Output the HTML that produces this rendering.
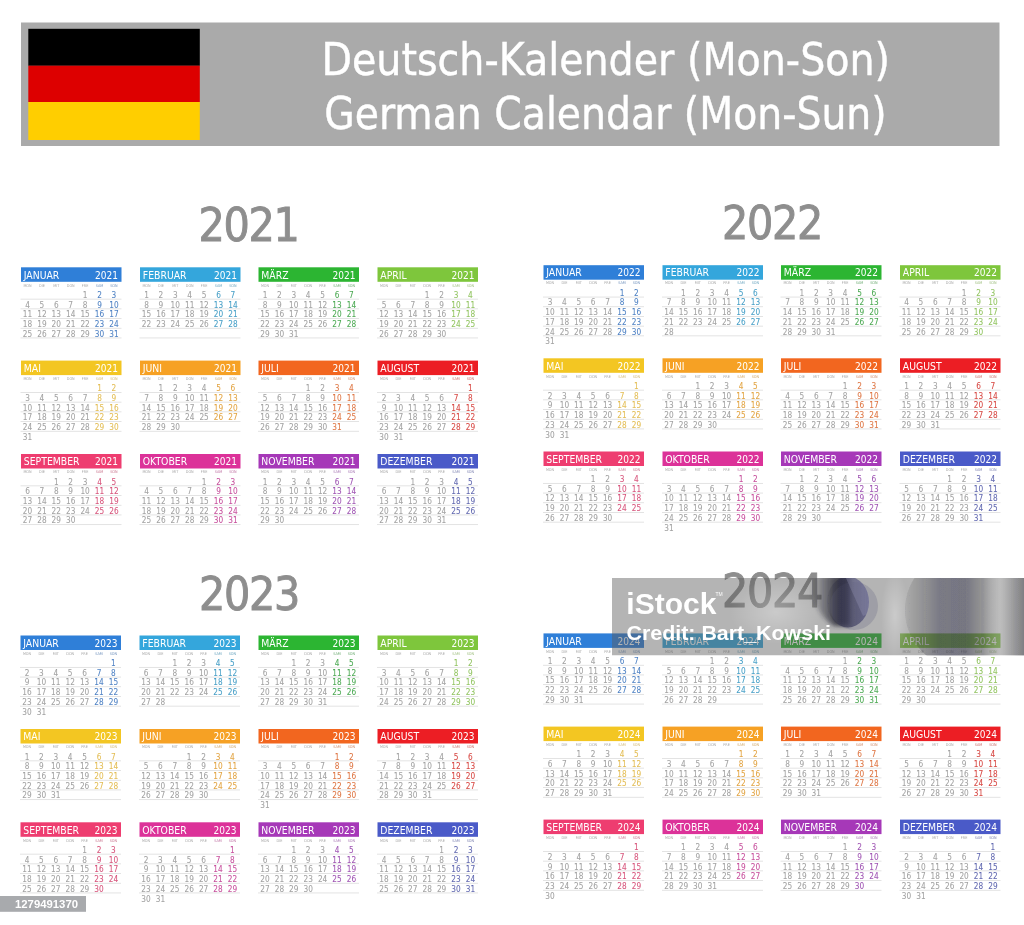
<!DOCTYPE html>
<html><head><meta charset="utf-8"><title>German Calendar 2021-2024</title>
<style>
html,body{margin:0;padding:0;background:#fff;width:1024px;height:925px;overflow:hidden}
svg{display:block;filter:blur(0.35px)}
text{font-family:'DejaVu Sans Condensed','DejaVu Sans','Liberation Sans',sans-serif}
.title{font-size:44px;fill:#fff;stroke:#fff;stroke-width:0.4px}
.yh{font-size:46px;fill:#8e8e8e;stroke:#8e8e8e;stroke-width:0.9px;letter-spacing:-1.3px}
.mh{font-size:10.35px;fill:#fff;stroke:none}
.my{font-size:10px;fill:#fff;stroke:none}
.wd{font-size:3.8px;text-anchor:middle}
.dt{font-size:8.2px;text-anchor:middle;stroke-width:0.05px}
.istock{font-family:'Liberation Sans',sans-serif;font-weight:bold;font-size:30px;fill:#fff}
.tm{font-family:'Liberation Sans',sans-serif;font-size:5px;fill:#fff}
.credit{font-family:'Liberation Sans',sans-serif;font-weight:bold;font-size:19.5px;fill:#fff}
.badge{font-family:'Liberation Sans',sans-serif;font-weight:bold;font-size:11px;fill:#fff}
</style></head>
<body>
<svg width="1024" height="925" viewBox="0 0 1024 925">
<rect width="1024" height="925" fill="#fff"/>
<rect x="21" y="22.5" width="978.5" height="123.5" fill="#aaaaaa"/>
<rect x="28.3" y="28.8" width="171.5" height="37" fill="#000"/>
<rect x="28.3" y="65.7" width="171.5" height="36.3" fill="#dd0000"/>
<rect x="28.3" y="102" width="171.5" height="38" fill="#ffce00"/>
<text x="321.5" y="75" class="title">Deutsch-Kalender (Mon-Son)</text>
<text x="324.2" y="128.5" class="title" textLength="562.5" lengthAdjust="spacingAndGlyphs">German Calendar (Mon-Sun)</text>
<text x="248.5" y="241" class="yh" text-anchor="middle">2021</text>
<text x="772" y="238.8" class="yh" text-anchor="middle">2022</text>
<text x="249" y="609.7" class="yh" text-anchor="middle">2023</text>
<text x="772" y="606.6" class="yh" text-anchor="middle">2024</text>
<rect x="21" y="267.3" width="100.5" height="14.5" fill="#2f7fd8"/>
<text x="23.8" y="278.5" class="mh">JANUAR</text>
<text x="118" y="278.5" class="my" text-anchor="end">2021</text>
<text x="27.5" y="286.5" class="wd" fill="#a8a8a8">MON</text>
<text x="41.9" y="286.5" class="wd" fill="#a8a8a8">DIE</text>
<text x="56.3" y="286.5" class="wd" fill="#a8a8a8">MIT</text>
<text x="70.7" y="286.5" class="wd" fill="#a8a8a8">DON</text>
<text x="85.1" y="286.5" class="wd" fill="#a8a8a8">FRE</text>
<text x="99.5" y="286.5" class="wd" fill="#7192bd">SAM</text>
<text x="113.9" y="286.5" class="wd" fill="#7192bd">SON</text>
<rect x="20.5" y="298.75" width="101" height="0.8" fill="#dcdcdc"/>
<rect x="20.5" y="308.45" width="101" height="0.8" fill="#dcdcdc"/>
<rect x="20.5" y="318.15" width="101" height="0.8" fill="#dcdcdc"/>
<rect x="20.5" y="327.85" width="101" height="0.8" fill="#dcdcdc"/>
<rect x="20.5" y="337.55" width="101" height="0.8" fill="#dcdcdc"/>
<text x="85.1" y="297.8" class="dt" fill="#a2a2a2" stroke="#a2a2a2">1</text>
<text x="99.5" y="297.8" class="dt" fill="#4f82c4" stroke="#4f82c4">2</text>
<text x="113.9" y="297.8" class="dt" fill="#4f82c4" stroke="#4f82c4">3</text>
<text x="27.5" y="307.54" class="dt" fill="#a2a2a2" stroke="#a2a2a2">4</text>
<text x="41.9" y="307.54" class="dt" fill="#a2a2a2" stroke="#a2a2a2">5</text>
<text x="56.3" y="307.54" class="dt" fill="#a2a2a2" stroke="#a2a2a2">6</text>
<text x="70.7" y="307.54" class="dt" fill="#a2a2a2" stroke="#a2a2a2">7</text>
<text x="85.1" y="307.54" class="dt" fill="#a2a2a2" stroke="#a2a2a2">8</text>
<text x="99.5" y="307.54" class="dt" fill="#4f82c4" stroke="#4f82c4">9</text>
<text x="113.9" y="307.54" class="dt" fill="#4f82c4" stroke="#4f82c4">10</text>
<text x="27.5" y="317.28" class="dt" fill="#a2a2a2" stroke="#a2a2a2">11</text>
<text x="41.9" y="317.28" class="dt" fill="#a2a2a2" stroke="#a2a2a2">12</text>
<text x="56.3" y="317.28" class="dt" fill="#a2a2a2" stroke="#a2a2a2">13</text>
<text x="70.7" y="317.28" class="dt" fill="#a2a2a2" stroke="#a2a2a2">14</text>
<text x="85.1" y="317.28" class="dt" fill="#a2a2a2" stroke="#a2a2a2">15</text>
<text x="99.5" y="317.28" class="dt" fill="#4f82c4" stroke="#4f82c4">16</text>
<text x="113.9" y="317.28" class="dt" fill="#4f82c4" stroke="#4f82c4">17</text>
<text x="27.5" y="327.02" class="dt" fill="#a2a2a2" stroke="#a2a2a2">18</text>
<text x="41.9" y="327.02" class="dt" fill="#a2a2a2" stroke="#a2a2a2">19</text>
<text x="56.3" y="327.02" class="dt" fill="#a2a2a2" stroke="#a2a2a2">20</text>
<text x="70.7" y="327.02" class="dt" fill="#a2a2a2" stroke="#a2a2a2">21</text>
<text x="85.1" y="327.02" class="dt" fill="#a2a2a2" stroke="#a2a2a2">22</text>
<text x="99.5" y="327.02" class="dt" fill="#4f82c4" stroke="#4f82c4">23</text>
<text x="113.9" y="327.02" class="dt" fill="#4f82c4" stroke="#4f82c4">24</text>
<text x="27.5" y="336.76" class="dt" fill="#a2a2a2" stroke="#a2a2a2">25</text>
<text x="41.9" y="336.76" class="dt" fill="#a2a2a2" stroke="#a2a2a2">26</text>
<text x="56.3" y="336.76" class="dt" fill="#a2a2a2" stroke="#a2a2a2">27</text>
<text x="70.7" y="336.76" class="dt" fill="#a2a2a2" stroke="#a2a2a2">28</text>
<text x="85.1" y="336.76" class="dt" fill="#a2a2a2" stroke="#a2a2a2">29</text>
<text x="99.5" y="336.76" class="dt" fill="#4f82c4" stroke="#4f82c4">30</text>
<text x="113.9" y="336.76" class="dt" fill="#4f82c4" stroke="#4f82c4">31</text>
<rect x="140" y="267.3" width="100.5" height="14.5" fill="#34a6dc"/>
<text x="142.8" y="278.5" class="mh">FEBRUAR</text>
<text x="237" y="278.5" class="my" text-anchor="end">2021</text>
<text x="146.5" y="286.5" class="wd" fill="#a8a8a8">MON</text>
<text x="160.9" y="286.5" class="wd" fill="#a8a8a8">DIE</text>
<text x="175.3" y="286.5" class="wd" fill="#a8a8a8">MIT</text>
<text x="189.7" y="286.5" class="wd" fill="#a8a8a8">DON</text>
<text x="204.1" y="286.5" class="wd" fill="#a8a8a8">FRE</text>
<text x="218.5" y="286.5" class="wd" fill="#6ba5bf">SAM</text>
<text x="232.9" y="286.5" class="wd" fill="#6ba5bf">SON</text>
<rect x="139.5" y="298.75" width="101" height="0.8" fill="#dcdcdc"/>
<rect x="139.5" y="308.45" width="101" height="0.8" fill="#dcdcdc"/>
<rect x="139.5" y="318.15" width="101" height="0.8" fill="#dcdcdc"/>
<rect x="139.5" y="327.85" width="101" height="0.8" fill="#dcdcdc"/>
<rect x="139.5" y="337.55" width="101" height="0.8" fill="#dcdcdc"/>
<text x="146.5" y="297.8" class="dt" fill="#a2a2a2" stroke="#a2a2a2">1</text>
<text x="160.9" y="297.8" class="dt" fill="#a2a2a2" stroke="#a2a2a2">2</text>
<text x="175.3" y="297.8" class="dt" fill="#a2a2a2" stroke="#a2a2a2">3</text>
<text x="189.7" y="297.8" class="dt" fill="#a2a2a2" stroke="#a2a2a2">4</text>
<text x="204.1" y="297.8" class="dt" fill="#a2a2a2" stroke="#a2a2a2">5</text>
<text x="218.5" y="297.8" class="dt" fill="#469fc7" stroke="#469fc7">6</text>
<text x="232.9" y="297.8" class="dt" fill="#469fc7" stroke="#469fc7">7</text>
<text x="146.5" y="307.54" class="dt" fill="#a2a2a2" stroke="#a2a2a2">8</text>
<text x="160.9" y="307.54" class="dt" fill="#a2a2a2" stroke="#a2a2a2">9</text>
<text x="175.3" y="307.54" class="dt" fill="#a2a2a2" stroke="#a2a2a2">10</text>
<text x="189.7" y="307.54" class="dt" fill="#a2a2a2" stroke="#a2a2a2">11</text>
<text x="204.1" y="307.54" class="dt" fill="#a2a2a2" stroke="#a2a2a2">12</text>
<text x="218.5" y="307.54" class="dt" fill="#469fc7" stroke="#469fc7">13</text>
<text x="232.9" y="307.54" class="dt" fill="#469fc7" stroke="#469fc7">14</text>
<text x="146.5" y="317.28" class="dt" fill="#a2a2a2" stroke="#a2a2a2">15</text>
<text x="160.9" y="317.28" class="dt" fill="#a2a2a2" stroke="#a2a2a2">16</text>
<text x="175.3" y="317.28" class="dt" fill="#a2a2a2" stroke="#a2a2a2">17</text>
<text x="189.7" y="317.28" class="dt" fill="#a2a2a2" stroke="#a2a2a2">18</text>
<text x="204.1" y="317.28" class="dt" fill="#a2a2a2" stroke="#a2a2a2">19</text>
<text x="218.5" y="317.28" class="dt" fill="#469fc7" stroke="#469fc7">20</text>
<text x="232.9" y="317.28" class="dt" fill="#469fc7" stroke="#469fc7">21</text>
<text x="146.5" y="327.02" class="dt" fill="#a2a2a2" stroke="#a2a2a2">22</text>
<text x="160.9" y="327.02" class="dt" fill="#a2a2a2" stroke="#a2a2a2">23</text>
<text x="175.3" y="327.02" class="dt" fill="#a2a2a2" stroke="#a2a2a2">24</text>
<text x="189.7" y="327.02" class="dt" fill="#a2a2a2" stroke="#a2a2a2">25</text>
<text x="204.1" y="327.02" class="dt" fill="#a2a2a2" stroke="#a2a2a2">26</text>
<text x="218.5" y="327.02" class="dt" fill="#469fc7" stroke="#469fc7">27</text>
<text x="232.9" y="327.02" class="dt" fill="#469fc7" stroke="#469fc7">28</text>
<rect x="258.5" y="267.3" width="100.5" height="14.5" fill="#2cb532"/>
<text x="261.3" y="278.5" class="mh">MÄRZ</text>
<text x="355.5" y="278.5" class="my" text-anchor="end">2021</text>
<text x="265" y="286.5" class="wd" fill="#a8a8a8">MON</text>
<text x="279.4" y="286.5" class="wd" fill="#a8a8a8">DIE</text>
<text x="293.8" y="286.5" class="wd" fill="#a8a8a8">MIT</text>
<text x="308.2" y="286.5" class="wd" fill="#a8a8a8">DON</text>
<text x="322.6" y="286.5" class="wd" fill="#a8a8a8">FRE</text>
<text x="337" y="286.5" class="wd" fill="#6eab73">SAM</text>
<text x="351.4" y="286.5" class="wd" fill="#6eab73">SON</text>
<rect x="258" y="298.75" width="101" height="0.8" fill="#dcdcdc"/>
<rect x="258" y="308.45" width="101" height="0.8" fill="#dcdcdc"/>
<rect x="258" y="318.15" width="101" height="0.8" fill="#dcdcdc"/>
<rect x="258" y="327.85" width="101" height="0.8" fill="#dcdcdc"/>
<rect x="258" y="337.55" width="101" height="0.8" fill="#dcdcdc"/>
<text x="265" y="297.8" class="dt" fill="#a2a2a2" stroke="#a2a2a2">1</text>
<text x="279.4" y="297.8" class="dt" fill="#a2a2a2" stroke="#a2a2a2">2</text>
<text x="293.8" y="297.8" class="dt" fill="#a2a2a2" stroke="#a2a2a2">3</text>
<text x="308.2" y="297.8" class="dt" fill="#a2a2a2" stroke="#a2a2a2">4</text>
<text x="322.6" y="297.8" class="dt" fill="#a2a2a2" stroke="#a2a2a2">5</text>
<text x="337" y="297.8" class="dt" fill="#4ba952" stroke="#4ba952">6</text>
<text x="351.4" y="297.8" class="dt" fill="#4ba952" stroke="#4ba952">7</text>
<text x="265" y="307.54" class="dt" fill="#a2a2a2" stroke="#a2a2a2">8</text>
<text x="279.4" y="307.54" class="dt" fill="#a2a2a2" stroke="#a2a2a2">9</text>
<text x="293.8" y="307.54" class="dt" fill="#a2a2a2" stroke="#a2a2a2">10</text>
<text x="308.2" y="307.54" class="dt" fill="#a2a2a2" stroke="#a2a2a2">11</text>
<text x="322.6" y="307.54" class="dt" fill="#a2a2a2" stroke="#a2a2a2">12</text>
<text x="337" y="307.54" class="dt" fill="#4ba952" stroke="#4ba952">13</text>
<text x="351.4" y="307.54" class="dt" fill="#4ba952" stroke="#4ba952">14</text>
<text x="265" y="317.28" class="dt" fill="#a2a2a2" stroke="#a2a2a2">15</text>
<text x="279.4" y="317.28" class="dt" fill="#a2a2a2" stroke="#a2a2a2">16</text>
<text x="293.8" y="317.28" class="dt" fill="#a2a2a2" stroke="#a2a2a2">17</text>
<text x="308.2" y="317.28" class="dt" fill="#a2a2a2" stroke="#a2a2a2">18</text>
<text x="322.6" y="317.28" class="dt" fill="#a2a2a2" stroke="#a2a2a2">19</text>
<text x="337" y="317.28" class="dt" fill="#4ba952" stroke="#4ba952">20</text>
<text x="351.4" y="317.28" class="dt" fill="#4ba952" stroke="#4ba952">21</text>
<text x="265" y="327.02" class="dt" fill="#a2a2a2" stroke="#a2a2a2">22</text>
<text x="279.4" y="327.02" class="dt" fill="#a2a2a2" stroke="#a2a2a2">23</text>
<text x="293.8" y="327.02" class="dt" fill="#a2a2a2" stroke="#a2a2a2">24</text>
<text x="308.2" y="327.02" class="dt" fill="#a2a2a2" stroke="#a2a2a2">25</text>
<text x="322.6" y="327.02" class="dt" fill="#a2a2a2" stroke="#a2a2a2">26</text>
<text x="337" y="327.02" class="dt" fill="#4ba952" stroke="#4ba952">27</text>
<text x="351.4" y="327.02" class="dt" fill="#4ba952" stroke="#4ba952">28</text>
<text x="265" y="336.76" class="dt" fill="#a2a2a2" stroke="#a2a2a2">29</text>
<text x="279.4" y="336.76" class="dt" fill="#a2a2a2" stroke="#a2a2a2">30</text>
<text x="293.8" y="336.76" class="dt" fill="#a2a2a2" stroke="#a2a2a2">31</text>
<rect x="377.5" y="267.3" width="100.5" height="14.5" fill="#7ec63c"/>
<text x="380.3" y="278.5" class="mh">APRIL</text>
<text x="474.5" y="278.5" class="my" text-anchor="end">2021</text>
<text x="384" y="286.5" class="wd" fill="#a8a8a8">MON</text>
<text x="398.4" y="286.5" class="wd" fill="#a8a8a8">DIE</text>
<text x="412.8" y="286.5" class="wd" fill="#a8a8a8">MIT</text>
<text x="427.2" y="286.5" class="wd" fill="#a8a8a8">DON</text>
<text x="441.6" y="286.5" class="wd" fill="#a8a8a8">FRE</text>
<text x="456" y="286.5" class="wd" fill="#9cbd7c">SAM</text>
<text x="470.4" y="286.5" class="wd" fill="#9cbd7c">SON</text>
<rect x="377" y="298.75" width="101" height="0.8" fill="#dcdcdc"/>
<rect x="377" y="308.45" width="101" height="0.8" fill="#dcdcdc"/>
<rect x="377" y="318.15" width="101" height="0.8" fill="#dcdcdc"/>
<rect x="377" y="327.85" width="101" height="0.8" fill="#dcdcdc"/>
<rect x="377" y="337.55" width="101" height="0.8" fill="#dcdcdc"/>
<text x="427.2" y="297.8" class="dt" fill="#a2a2a2" stroke="#a2a2a2">1</text>
<text x="441.6" y="297.8" class="dt" fill="#a2a2a2" stroke="#a2a2a2">2</text>
<text x="456" y="297.8" class="dt" fill="#92c461" stroke="#92c461">3</text>
<text x="470.4" y="297.8" class="dt" fill="#92c461" stroke="#92c461">4</text>
<text x="384" y="307.54" class="dt" fill="#a2a2a2" stroke="#a2a2a2">5</text>
<text x="398.4" y="307.54" class="dt" fill="#a2a2a2" stroke="#a2a2a2">6</text>
<text x="412.8" y="307.54" class="dt" fill="#a2a2a2" stroke="#a2a2a2">7</text>
<text x="427.2" y="307.54" class="dt" fill="#a2a2a2" stroke="#a2a2a2">8</text>
<text x="441.6" y="307.54" class="dt" fill="#a2a2a2" stroke="#a2a2a2">9</text>
<text x="456" y="307.54" class="dt" fill="#92c461" stroke="#92c461">10</text>
<text x="470.4" y="307.54" class="dt" fill="#92c461" stroke="#92c461">11</text>
<text x="384" y="317.28" class="dt" fill="#a2a2a2" stroke="#a2a2a2">12</text>
<text x="398.4" y="317.28" class="dt" fill="#a2a2a2" stroke="#a2a2a2">13</text>
<text x="412.8" y="317.28" class="dt" fill="#a2a2a2" stroke="#a2a2a2">14</text>
<text x="427.2" y="317.28" class="dt" fill="#a2a2a2" stroke="#a2a2a2">15</text>
<text x="441.6" y="317.28" class="dt" fill="#a2a2a2" stroke="#a2a2a2">16</text>
<text x="456" y="317.28" class="dt" fill="#92c461" stroke="#92c461">17</text>
<text x="470.4" y="317.28" class="dt" fill="#92c461" stroke="#92c461">18</text>
<text x="384" y="327.02" class="dt" fill="#a2a2a2" stroke="#a2a2a2">19</text>
<text x="398.4" y="327.02" class="dt" fill="#a2a2a2" stroke="#a2a2a2">20</text>
<text x="412.8" y="327.02" class="dt" fill="#a2a2a2" stroke="#a2a2a2">21</text>
<text x="427.2" y="327.02" class="dt" fill="#a2a2a2" stroke="#a2a2a2">22</text>
<text x="441.6" y="327.02" class="dt" fill="#a2a2a2" stroke="#a2a2a2">23</text>
<text x="456" y="327.02" class="dt" fill="#92c461" stroke="#92c461">24</text>
<text x="470.4" y="327.02" class="dt" fill="#92c461" stroke="#92c461">25</text>
<text x="384" y="336.76" class="dt" fill="#a2a2a2" stroke="#a2a2a2">26</text>
<text x="398.4" y="336.76" class="dt" fill="#a2a2a2" stroke="#a2a2a2">27</text>
<text x="412.8" y="336.76" class="dt" fill="#a2a2a2" stroke="#a2a2a2">28</text>
<text x="427.2" y="336.76" class="dt" fill="#a2a2a2" stroke="#a2a2a2">29</text>
<text x="441.6" y="336.76" class="dt" fill="#a2a2a2" stroke="#a2a2a2">30</text>
<rect x="21" y="360.6" width="100.5" height="14.5" fill="#f3c622"/>
<text x="23.8" y="371.8" class="mh">MAI</text>
<text x="118" y="371.8" class="my" text-anchor="end">2021</text>
<text x="27.5" y="379.8" class="wd" fill="#a8a8a8">MON</text>
<text x="41.9" y="379.8" class="wd" fill="#a8a8a8">DIE</text>
<text x="56.3" y="379.8" class="wd" fill="#a8a8a8">MIT</text>
<text x="70.7" y="379.8" class="wd" fill="#a8a8a8">DON</text>
<text x="85.1" y="379.8" class="wd" fill="#a8a8a8">FRE</text>
<text x="99.5" y="379.8" class="wd" fill="#d1b874">SAM</text>
<text x="113.9" y="379.8" class="wd" fill="#d1b874">SON</text>
<rect x="20.5" y="392.05" width="101" height="0.8" fill="#dcdcdc"/>
<rect x="20.5" y="401.75" width="101" height="0.8" fill="#dcdcdc"/>
<rect x="20.5" y="411.45" width="101" height="0.8" fill="#dcdcdc"/>
<rect x="20.5" y="421.15" width="101" height="0.8" fill="#dcdcdc"/>
<rect x="20.5" y="430.85" width="101" height="0.8" fill="#dcdcdc"/>
<text x="99.5" y="391.1" class="dt" fill="#e3bd54" stroke="#e3bd54">1</text>
<text x="113.9" y="391.1" class="dt" fill="#e3bd54" stroke="#e3bd54">2</text>
<text x="27.5" y="400.84" class="dt" fill="#a2a2a2" stroke="#a2a2a2">3</text>
<text x="41.9" y="400.84" class="dt" fill="#a2a2a2" stroke="#a2a2a2">4</text>
<text x="56.3" y="400.84" class="dt" fill="#a2a2a2" stroke="#a2a2a2">5</text>
<text x="70.7" y="400.84" class="dt" fill="#a2a2a2" stroke="#a2a2a2">6</text>
<text x="85.1" y="400.84" class="dt" fill="#a2a2a2" stroke="#a2a2a2">7</text>
<text x="99.5" y="400.84" class="dt" fill="#e3bd54" stroke="#e3bd54">8</text>
<text x="113.9" y="400.84" class="dt" fill="#e3bd54" stroke="#e3bd54">9</text>
<text x="27.5" y="410.58" class="dt" fill="#a2a2a2" stroke="#a2a2a2">10</text>
<text x="41.9" y="410.58" class="dt" fill="#a2a2a2" stroke="#a2a2a2">11</text>
<text x="56.3" y="410.58" class="dt" fill="#a2a2a2" stroke="#a2a2a2">12</text>
<text x="70.7" y="410.58" class="dt" fill="#a2a2a2" stroke="#a2a2a2">13</text>
<text x="85.1" y="410.58" class="dt" fill="#a2a2a2" stroke="#a2a2a2">14</text>
<text x="99.5" y="410.58" class="dt" fill="#e3bd54" stroke="#e3bd54">15</text>
<text x="113.9" y="410.58" class="dt" fill="#e3bd54" stroke="#e3bd54">16</text>
<text x="27.5" y="420.32" class="dt" fill="#a2a2a2" stroke="#a2a2a2">17</text>
<text x="41.9" y="420.32" class="dt" fill="#a2a2a2" stroke="#a2a2a2">18</text>
<text x="56.3" y="420.32" class="dt" fill="#a2a2a2" stroke="#a2a2a2">19</text>
<text x="70.7" y="420.32" class="dt" fill="#a2a2a2" stroke="#a2a2a2">20</text>
<text x="85.1" y="420.32" class="dt" fill="#a2a2a2" stroke="#a2a2a2">21</text>
<text x="99.5" y="420.32" class="dt" fill="#e3bd54" stroke="#e3bd54">22</text>
<text x="113.9" y="420.32" class="dt" fill="#e3bd54" stroke="#e3bd54">23</text>
<text x="27.5" y="430.06" class="dt" fill="#a2a2a2" stroke="#a2a2a2">24</text>
<text x="41.9" y="430.06" class="dt" fill="#a2a2a2" stroke="#a2a2a2">25</text>
<text x="56.3" y="430.06" class="dt" fill="#a2a2a2" stroke="#a2a2a2">26</text>
<text x="70.7" y="430.06" class="dt" fill="#a2a2a2" stroke="#a2a2a2">27</text>
<text x="85.1" y="430.06" class="dt" fill="#a2a2a2" stroke="#a2a2a2">28</text>
<text x="99.5" y="430.06" class="dt" fill="#e3bd54" stroke="#e3bd54">29</text>
<text x="113.9" y="430.06" class="dt" fill="#e3bd54" stroke="#e3bd54">30</text>
<text x="27.5" y="439.8" class="dt" fill="#a2a2a2" stroke="#a2a2a2">31</text>
<rect x="140" y="360.6" width="100.5" height="14.5" fill="#f6a124"/>
<text x="142.8" y="371.8" class="mh">JUNI</text>
<text x="237" y="371.8" class="my" text-anchor="end">2021</text>
<text x="146.5" y="379.8" class="wd" fill="#a8a8a8">MON</text>
<text x="160.9" y="379.8" class="wd" fill="#a8a8a8">DIE</text>
<text x="175.3" y="379.8" class="wd" fill="#a8a8a8">MIT</text>
<text x="189.7" y="379.8" class="wd" fill="#a8a8a8">DON</text>
<text x="204.1" y="379.8" class="wd" fill="#a8a8a8">FRE</text>
<text x="218.5" y="379.8" class="wd" fill="#d0a868">SAM</text>
<text x="232.9" y="379.8" class="wd" fill="#d0a868">SON</text>
<rect x="139.5" y="392.05" width="101" height="0.8" fill="#dcdcdc"/>
<rect x="139.5" y="401.75" width="101" height="0.8" fill="#dcdcdc"/>
<rect x="139.5" y="411.45" width="101" height="0.8" fill="#dcdcdc"/>
<rect x="139.5" y="421.15" width="101" height="0.8" fill="#dcdcdc"/>
<rect x="139.5" y="430.85" width="101" height="0.8" fill="#dcdcdc"/>
<text x="160.9" y="391.1" class="dt" fill="#a2a2a2" stroke="#a2a2a2">1</text>
<text x="175.3" y="391.1" class="dt" fill="#a2a2a2" stroke="#a2a2a2">2</text>
<text x="189.7" y="391.1" class="dt" fill="#a2a2a2" stroke="#a2a2a2">3</text>
<text x="204.1" y="391.1" class="dt" fill="#a2a2a2" stroke="#a2a2a2">4</text>
<text x="218.5" y="391.1" class="dt" fill="#e2a442" stroke="#e2a442">5</text>
<text x="232.9" y="391.1" class="dt" fill="#e2a442" stroke="#e2a442">6</text>
<text x="146.5" y="400.84" class="dt" fill="#a2a2a2" stroke="#a2a2a2">7</text>
<text x="160.9" y="400.84" class="dt" fill="#a2a2a2" stroke="#a2a2a2">8</text>
<text x="175.3" y="400.84" class="dt" fill="#a2a2a2" stroke="#a2a2a2">9</text>
<text x="189.7" y="400.84" class="dt" fill="#a2a2a2" stroke="#a2a2a2">10</text>
<text x="204.1" y="400.84" class="dt" fill="#a2a2a2" stroke="#a2a2a2">11</text>
<text x="218.5" y="400.84" class="dt" fill="#e2a442" stroke="#e2a442">12</text>
<text x="232.9" y="400.84" class="dt" fill="#e2a442" stroke="#e2a442">13</text>
<text x="146.5" y="410.58" class="dt" fill="#a2a2a2" stroke="#a2a2a2">14</text>
<text x="160.9" y="410.58" class="dt" fill="#a2a2a2" stroke="#a2a2a2">15</text>
<text x="175.3" y="410.58" class="dt" fill="#a2a2a2" stroke="#a2a2a2">16</text>
<text x="189.7" y="410.58" class="dt" fill="#a2a2a2" stroke="#a2a2a2">17</text>
<text x="204.1" y="410.58" class="dt" fill="#a2a2a2" stroke="#a2a2a2">18</text>
<text x="218.5" y="410.58" class="dt" fill="#e2a442" stroke="#e2a442">19</text>
<text x="232.9" y="410.58" class="dt" fill="#e2a442" stroke="#e2a442">20</text>
<text x="146.5" y="420.32" class="dt" fill="#a2a2a2" stroke="#a2a2a2">21</text>
<text x="160.9" y="420.32" class="dt" fill="#a2a2a2" stroke="#a2a2a2">22</text>
<text x="175.3" y="420.32" class="dt" fill="#a2a2a2" stroke="#a2a2a2">23</text>
<text x="189.7" y="420.32" class="dt" fill="#a2a2a2" stroke="#a2a2a2">24</text>
<text x="204.1" y="420.32" class="dt" fill="#a2a2a2" stroke="#a2a2a2">25</text>
<text x="218.5" y="420.32" class="dt" fill="#e2a442" stroke="#e2a442">26</text>
<text x="232.9" y="420.32" class="dt" fill="#e2a442" stroke="#e2a442">27</text>
<text x="146.5" y="430.06" class="dt" fill="#a2a2a2" stroke="#a2a2a2">28</text>
<text x="160.9" y="430.06" class="dt" fill="#a2a2a2" stroke="#a2a2a2">29</text>
<text x="175.3" y="430.06" class="dt" fill="#a2a2a2" stroke="#a2a2a2">30</text>
<rect x="258.5" y="360.6" width="100.5" height="14.5" fill="#f2661f"/>
<text x="261.3" y="371.8" class="mh">JULI</text>
<text x="355.5" y="371.8" class="my" text-anchor="end">2021</text>
<text x="265" y="379.8" class="wd" fill="#a8a8a8">MON</text>
<text x="279.4" y="379.8" class="wd" fill="#a8a8a8">DIE</text>
<text x="293.8" y="379.8" class="wd" fill="#a8a8a8">MIT</text>
<text x="308.2" y="379.8" class="wd" fill="#a8a8a8">DON</text>
<text x="322.6" y="379.8" class="wd" fill="#a8a8a8">FRE</text>
<text x="337" y="379.8" class="wd" fill="#ce8968">SAM</text>
<text x="351.4" y="379.8" class="wd" fill="#ce8968">SON</text>
<rect x="258" y="392.05" width="101" height="0.8" fill="#dcdcdc"/>
<rect x="258" y="401.75" width="101" height="0.8" fill="#dcdcdc"/>
<rect x="258" y="411.45" width="101" height="0.8" fill="#dcdcdc"/>
<rect x="258" y="421.15" width="101" height="0.8" fill="#dcdcdc"/>
<rect x="258" y="430.85" width="101" height="0.8" fill="#dcdcdc"/>
<text x="308.2" y="391.1" class="dt" fill="#a2a2a2" stroke="#a2a2a2">1</text>
<text x="322.6" y="391.1" class="dt" fill="#a2a2a2" stroke="#a2a2a2">2</text>
<text x="337" y="391.1" class="dt" fill="#de7542" stroke="#de7542">3</text>
<text x="351.4" y="391.1" class="dt" fill="#de7542" stroke="#de7542">4</text>
<text x="265" y="400.84" class="dt" fill="#a2a2a2" stroke="#a2a2a2">5</text>
<text x="279.4" y="400.84" class="dt" fill="#a2a2a2" stroke="#a2a2a2">6</text>
<text x="293.8" y="400.84" class="dt" fill="#a2a2a2" stroke="#a2a2a2">7</text>
<text x="308.2" y="400.84" class="dt" fill="#a2a2a2" stroke="#a2a2a2">8</text>
<text x="322.6" y="400.84" class="dt" fill="#a2a2a2" stroke="#a2a2a2">9</text>
<text x="337" y="400.84" class="dt" fill="#de7542" stroke="#de7542">10</text>
<text x="351.4" y="400.84" class="dt" fill="#de7542" stroke="#de7542">11</text>
<text x="265" y="410.58" class="dt" fill="#a2a2a2" stroke="#a2a2a2">12</text>
<text x="279.4" y="410.58" class="dt" fill="#a2a2a2" stroke="#a2a2a2">13</text>
<text x="293.8" y="410.58" class="dt" fill="#a2a2a2" stroke="#a2a2a2">14</text>
<text x="308.2" y="410.58" class="dt" fill="#a2a2a2" stroke="#a2a2a2">15</text>
<text x="322.6" y="410.58" class="dt" fill="#a2a2a2" stroke="#a2a2a2">16</text>
<text x="337" y="410.58" class="dt" fill="#de7542" stroke="#de7542">17</text>
<text x="351.4" y="410.58" class="dt" fill="#de7542" stroke="#de7542">18</text>
<text x="265" y="420.32" class="dt" fill="#a2a2a2" stroke="#a2a2a2">19</text>
<text x="279.4" y="420.32" class="dt" fill="#a2a2a2" stroke="#a2a2a2">20</text>
<text x="293.8" y="420.32" class="dt" fill="#a2a2a2" stroke="#a2a2a2">21</text>
<text x="308.2" y="420.32" class="dt" fill="#a2a2a2" stroke="#a2a2a2">22</text>
<text x="322.6" y="420.32" class="dt" fill="#a2a2a2" stroke="#a2a2a2">23</text>
<text x="337" y="420.32" class="dt" fill="#de7542" stroke="#de7542">24</text>
<text x="351.4" y="420.32" class="dt" fill="#de7542" stroke="#de7542">25</text>
<text x="265" y="430.06" class="dt" fill="#a2a2a2" stroke="#a2a2a2">26</text>
<text x="279.4" y="430.06" class="dt" fill="#a2a2a2" stroke="#a2a2a2">27</text>
<text x="293.8" y="430.06" class="dt" fill="#a2a2a2" stroke="#a2a2a2">28</text>
<text x="308.2" y="430.06" class="dt" fill="#a2a2a2" stroke="#a2a2a2">29</text>
<text x="322.6" y="430.06" class="dt" fill="#a2a2a2" stroke="#a2a2a2">30</text>
<text x="337" y="430.06" class="dt" fill="#de7542" stroke="#de7542">31</text>
<rect x="377.5" y="360.6" width="100.5" height="14.5" fill="#ec1e24"/>
<text x="380.3" y="371.8" class="mh">AUGUST</text>
<text x="474.5" y="371.8" class="my" text-anchor="end">2021</text>
<text x="384" y="379.8" class="wd" fill="#a8a8a8">MON</text>
<text x="398.4" y="379.8" class="wd" fill="#a8a8a8">DIE</text>
<text x="412.8" y="379.8" class="wd" fill="#a8a8a8">MIT</text>
<text x="427.2" y="379.8" class="wd" fill="#a8a8a8">DON</text>
<text x="441.6" y="379.8" class="wd" fill="#a8a8a8">FRE</text>
<text x="456" y="379.8" class="wd" fill="#c96b68">SAM</text>
<text x="470.4" y="379.8" class="wd" fill="#c96b68">SON</text>
<rect x="377" y="392.05" width="101" height="0.8" fill="#dcdcdc"/>
<rect x="377" y="401.75" width="101" height="0.8" fill="#dcdcdc"/>
<rect x="377" y="411.45" width="101" height="0.8" fill="#dcdcdc"/>
<rect x="377" y="421.15" width="101" height="0.8" fill="#dcdcdc"/>
<rect x="377" y="430.85" width="101" height="0.8" fill="#dcdcdc"/>
<text x="470.4" y="391.1" class="dt" fill="#d74742" stroke="#d74742">1</text>
<text x="384" y="400.84" class="dt" fill="#a2a2a2" stroke="#a2a2a2">2</text>
<text x="398.4" y="400.84" class="dt" fill="#a2a2a2" stroke="#a2a2a2">3</text>
<text x="412.8" y="400.84" class="dt" fill="#a2a2a2" stroke="#a2a2a2">4</text>
<text x="427.2" y="400.84" class="dt" fill="#a2a2a2" stroke="#a2a2a2">5</text>
<text x="441.6" y="400.84" class="dt" fill="#a2a2a2" stroke="#a2a2a2">6</text>
<text x="456" y="400.84" class="dt" fill="#d74742" stroke="#d74742">7</text>
<text x="470.4" y="400.84" class="dt" fill="#d74742" stroke="#d74742">8</text>
<text x="384" y="410.58" class="dt" fill="#a2a2a2" stroke="#a2a2a2">9</text>
<text x="398.4" y="410.58" class="dt" fill="#a2a2a2" stroke="#a2a2a2">10</text>
<text x="412.8" y="410.58" class="dt" fill="#a2a2a2" stroke="#a2a2a2">11</text>
<text x="427.2" y="410.58" class="dt" fill="#a2a2a2" stroke="#a2a2a2">12</text>
<text x="441.6" y="410.58" class="dt" fill="#a2a2a2" stroke="#a2a2a2">13</text>
<text x="456" y="410.58" class="dt" fill="#d74742" stroke="#d74742">14</text>
<text x="470.4" y="410.58" class="dt" fill="#d74742" stroke="#d74742">15</text>
<text x="384" y="420.32" class="dt" fill="#a2a2a2" stroke="#a2a2a2">16</text>
<text x="398.4" y="420.32" class="dt" fill="#a2a2a2" stroke="#a2a2a2">17</text>
<text x="412.8" y="420.32" class="dt" fill="#a2a2a2" stroke="#a2a2a2">18</text>
<text x="427.2" y="420.32" class="dt" fill="#a2a2a2" stroke="#a2a2a2">19</text>
<text x="441.6" y="420.32" class="dt" fill="#a2a2a2" stroke="#a2a2a2">20</text>
<text x="456" y="420.32" class="dt" fill="#d74742" stroke="#d74742">21</text>
<text x="470.4" y="420.32" class="dt" fill="#d74742" stroke="#d74742">22</text>
<text x="384" y="430.06" class="dt" fill="#a2a2a2" stroke="#a2a2a2">23</text>
<text x="398.4" y="430.06" class="dt" fill="#a2a2a2" stroke="#a2a2a2">24</text>
<text x="412.8" y="430.06" class="dt" fill="#a2a2a2" stroke="#a2a2a2">25</text>
<text x="427.2" y="430.06" class="dt" fill="#a2a2a2" stroke="#a2a2a2">26</text>
<text x="441.6" y="430.06" class="dt" fill="#a2a2a2" stroke="#a2a2a2">27</text>
<text x="456" y="430.06" class="dt" fill="#d74742" stroke="#d74742">28</text>
<text x="470.4" y="430.06" class="dt" fill="#d74742" stroke="#d74742">29</text>
<text x="384" y="439.8" class="dt" fill="#a2a2a2" stroke="#a2a2a2">30</text>
<text x="398.4" y="439.8" class="dt" fill="#a2a2a2" stroke="#a2a2a2">31</text>
<rect x="21" y="454" width="100.5" height="14.5" fill="#ee3d70"/>
<text x="23.8" y="465.2" class="mh">SEPTEMBER</text>
<text x="118" y="465.2" class="my" text-anchor="end">2021</text>
<text x="27.5" y="473.2" class="wd" fill="#a8a8a8">MON</text>
<text x="41.9" y="473.2" class="wd" fill="#a8a8a8">DIE</text>
<text x="56.3" y="473.2" class="wd" fill="#a8a8a8">MIT</text>
<text x="70.7" y="473.2" class="wd" fill="#a8a8a8">DON</text>
<text x="85.1" y="473.2" class="wd" fill="#a8a8a8">FRE</text>
<text x="99.5" y="473.2" class="wd" fill="#c9748d">SAM</text>
<text x="113.9" y="473.2" class="wd" fill="#c9748d">SON</text>
<rect x="20.5" y="485.45" width="101" height="0.8" fill="#dcdcdc"/>
<rect x="20.5" y="495.15" width="101" height="0.8" fill="#dcdcdc"/>
<rect x="20.5" y="504.85" width="101" height="0.8" fill="#dcdcdc"/>
<rect x="20.5" y="514.55" width="101" height="0.8" fill="#dcdcdc"/>
<rect x="20.5" y="524.25" width="101" height="0.8" fill="#dcdcdc"/>
<text x="56.3" y="484.5" class="dt" fill="#a2a2a2" stroke="#a2a2a2">1</text>
<text x="70.7" y="484.5" class="dt" fill="#a2a2a2" stroke="#a2a2a2">2</text>
<text x="85.1" y="484.5" class="dt" fill="#a2a2a2" stroke="#a2a2a2">3</text>
<text x="99.5" y="484.5" class="dt" fill="#d7547b" stroke="#d7547b">4</text>
<text x="113.9" y="484.5" class="dt" fill="#d7547b" stroke="#d7547b">5</text>
<text x="27.5" y="494.24" class="dt" fill="#a2a2a2" stroke="#a2a2a2">6</text>
<text x="41.9" y="494.24" class="dt" fill="#a2a2a2" stroke="#a2a2a2">7</text>
<text x="56.3" y="494.24" class="dt" fill="#a2a2a2" stroke="#a2a2a2">8</text>
<text x="70.7" y="494.24" class="dt" fill="#a2a2a2" stroke="#a2a2a2">9</text>
<text x="85.1" y="494.24" class="dt" fill="#a2a2a2" stroke="#a2a2a2">10</text>
<text x="99.5" y="494.24" class="dt" fill="#d7547b" stroke="#d7547b">11</text>
<text x="113.9" y="494.24" class="dt" fill="#d7547b" stroke="#d7547b">12</text>
<text x="27.5" y="503.98" class="dt" fill="#a2a2a2" stroke="#a2a2a2">13</text>
<text x="41.9" y="503.98" class="dt" fill="#a2a2a2" stroke="#a2a2a2">14</text>
<text x="56.3" y="503.98" class="dt" fill="#a2a2a2" stroke="#a2a2a2">15</text>
<text x="70.7" y="503.98" class="dt" fill="#a2a2a2" stroke="#a2a2a2">16</text>
<text x="85.1" y="503.98" class="dt" fill="#a2a2a2" stroke="#a2a2a2">17</text>
<text x="99.5" y="503.98" class="dt" fill="#d7547b" stroke="#d7547b">18</text>
<text x="113.9" y="503.98" class="dt" fill="#d7547b" stroke="#d7547b">19</text>
<text x="27.5" y="513.72" class="dt" fill="#a2a2a2" stroke="#a2a2a2">20</text>
<text x="41.9" y="513.72" class="dt" fill="#a2a2a2" stroke="#a2a2a2">21</text>
<text x="56.3" y="513.72" class="dt" fill="#a2a2a2" stroke="#a2a2a2">22</text>
<text x="70.7" y="513.72" class="dt" fill="#a2a2a2" stroke="#a2a2a2">23</text>
<text x="85.1" y="513.72" class="dt" fill="#a2a2a2" stroke="#a2a2a2">24</text>
<text x="99.5" y="513.72" class="dt" fill="#d7547b" stroke="#d7547b">25</text>
<text x="113.9" y="513.72" class="dt" fill="#d7547b" stroke="#d7547b">26</text>
<text x="27.5" y="523.46" class="dt" fill="#a2a2a2" stroke="#a2a2a2">27</text>
<text x="41.9" y="523.46" class="dt" fill="#a2a2a2" stroke="#a2a2a2">28</text>
<text x="56.3" y="523.46" class="dt" fill="#a2a2a2" stroke="#a2a2a2">29</text>
<text x="70.7" y="523.46" class="dt" fill="#a2a2a2" stroke="#a2a2a2">30</text>
<rect x="140" y="454" width="100.5" height="14.5" fill="#dc3299"/>
<text x="142.8" y="465.2" class="mh">OKTOBER</text>
<text x="237" y="465.2" class="my" text-anchor="end">2021</text>
<text x="146.5" y="473.2" class="wd" fill="#a8a8a8">MON</text>
<text x="160.9" y="473.2" class="wd" fill="#a8a8a8">DIE</text>
<text x="175.3" y="473.2" class="wd" fill="#a8a8a8">MIT</text>
<text x="189.7" y="473.2" class="wd" fill="#a8a8a8">DON</text>
<text x="204.1" y="473.2" class="wd" fill="#a8a8a8">FRE</text>
<text x="218.5" y="473.2" class="wd" fill="#bf71a3">SAM</text>
<text x="232.9" y="473.2" class="wd" fill="#bf71a3">SON</text>
<rect x="139.5" y="485.45" width="101" height="0.8" fill="#dcdcdc"/>
<rect x="139.5" y="495.15" width="101" height="0.8" fill="#dcdcdc"/>
<rect x="139.5" y="504.85" width="101" height="0.8" fill="#dcdcdc"/>
<rect x="139.5" y="514.55" width="101" height="0.8" fill="#dcdcdc"/>
<rect x="139.5" y="524.25" width="101" height="0.8" fill="#dcdcdc"/>
<text x="204.1" y="484.5" class="dt" fill="#a2a2a2" stroke="#a2a2a2">1</text>
<text x="218.5" y="484.5" class="dt" fill="#c74f9c" stroke="#c74f9c">2</text>
<text x="232.9" y="484.5" class="dt" fill="#c74f9c" stroke="#c74f9c">3</text>
<text x="146.5" y="494.24" class="dt" fill="#a2a2a2" stroke="#a2a2a2">4</text>
<text x="160.9" y="494.24" class="dt" fill="#a2a2a2" stroke="#a2a2a2">5</text>
<text x="175.3" y="494.24" class="dt" fill="#a2a2a2" stroke="#a2a2a2">6</text>
<text x="189.7" y="494.24" class="dt" fill="#a2a2a2" stroke="#a2a2a2">7</text>
<text x="204.1" y="494.24" class="dt" fill="#a2a2a2" stroke="#a2a2a2">8</text>
<text x="218.5" y="494.24" class="dt" fill="#c74f9c" stroke="#c74f9c">9</text>
<text x="232.9" y="494.24" class="dt" fill="#c74f9c" stroke="#c74f9c">10</text>
<text x="146.5" y="503.98" class="dt" fill="#a2a2a2" stroke="#a2a2a2">11</text>
<text x="160.9" y="503.98" class="dt" fill="#a2a2a2" stroke="#a2a2a2">12</text>
<text x="175.3" y="503.98" class="dt" fill="#a2a2a2" stroke="#a2a2a2">13</text>
<text x="189.7" y="503.98" class="dt" fill="#a2a2a2" stroke="#a2a2a2">14</text>
<text x="204.1" y="503.98" class="dt" fill="#a2a2a2" stroke="#a2a2a2">15</text>
<text x="218.5" y="503.98" class="dt" fill="#c74f9c" stroke="#c74f9c">16</text>
<text x="232.9" y="503.98" class="dt" fill="#c74f9c" stroke="#c74f9c">17</text>
<text x="146.5" y="513.72" class="dt" fill="#a2a2a2" stroke="#a2a2a2">18</text>
<text x="160.9" y="513.72" class="dt" fill="#a2a2a2" stroke="#a2a2a2">19</text>
<text x="175.3" y="513.72" class="dt" fill="#a2a2a2" stroke="#a2a2a2">20</text>
<text x="189.7" y="513.72" class="dt" fill="#a2a2a2" stroke="#a2a2a2">21</text>
<text x="204.1" y="513.72" class="dt" fill="#a2a2a2" stroke="#a2a2a2">22</text>
<text x="218.5" y="513.72" class="dt" fill="#c74f9c" stroke="#c74f9c">23</text>
<text x="232.9" y="513.72" class="dt" fill="#c74f9c" stroke="#c74f9c">24</text>
<text x="146.5" y="523.46" class="dt" fill="#a2a2a2" stroke="#a2a2a2">25</text>
<text x="160.9" y="523.46" class="dt" fill="#a2a2a2" stroke="#a2a2a2">26</text>
<text x="175.3" y="523.46" class="dt" fill="#a2a2a2" stroke="#a2a2a2">27</text>
<text x="189.7" y="523.46" class="dt" fill="#a2a2a2" stroke="#a2a2a2">28</text>
<text x="204.1" y="523.46" class="dt" fill="#a2a2a2" stroke="#a2a2a2">29</text>
<text x="218.5" y="523.46" class="dt" fill="#c74f9c" stroke="#c74f9c">30</text>
<text x="232.9" y="523.46" class="dt" fill="#c74f9c" stroke="#c74f9c">31</text>
<rect x="258.5" y="454" width="100.5" height="14.5" fill="#a638b8"/>
<text x="261.3" y="465.2" class="mh">NOVEMBER</text>
<text x="355.5" y="465.2" class="my" text-anchor="end">2021</text>
<text x="265" y="473.2" class="wd" fill="#a8a8a8">MON</text>
<text x="279.4" y="473.2" class="wd" fill="#a8a8a8">DIE</text>
<text x="293.8" y="473.2" class="wd" fill="#a8a8a8">MIT</text>
<text x="308.2" y="473.2" class="wd" fill="#a8a8a8">DON</text>
<text x="322.6" y="473.2" class="wd" fill="#a8a8a8">FRE</text>
<text x="337" y="473.2" class="wd" fill="#a574b2">SAM</text>
<text x="351.4" y="473.2" class="wd" fill="#a574b2">SON</text>
<rect x="258" y="485.45" width="101" height="0.8" fill="#dcdcdc"/>
<rect x="258" y="495.15" width="101" height="0.8" fill="#dcdcdc"/>
<rect x="258" y="504.85" width="101" height="0.8" fill="#dcdcdc"/>
<rect x="258" y="514.55" width="101" height="0.8" fill="#dcdcdc"/>
<rect x="258" y="524.25" width="101" height="0.8" fill="#dcdcdc"/>
<text x="265" y="484.5" class="dt" fill="#a2a2a2" stroke="#a2a2a2">1</text>
<text x="279.4" y="484.5" class="dt" fill="#a2a2a2" stroke="#a2a2a2">2</text>
<text x="293.8" y="484.5" class="dt" fill="#a2a2a2" stroke="#a2a2a2">3</text>
<text x="308.2" y="484.5" class="dt" fill="#a2a2a2" stroke="#a2a2a2">4</text>
<text x="322.6" y="484.5" class="dt" fill="#a2a2a2" stroke="#a2a2a2">5</text>
<text x="337" y="484.5" class="dt" fill="#9f54b3" stroke="#9f54b3">6</text>
<text x="351.4" y="484.5" class="dt" fill="#9f54b3" stroke="#9f54b3">7</text>
<text x="265" y="494.24" class="dt" fill="#a2a2a2" stroke="#a2a2a2">8</text>
<text x="279.4" y="494.24" class="dt" fill="#a2a2a2" stroke="#a2a2a2">9</text>
<text x="293.8" y="494.24" class="dt" fill="#a2a2a2" stroke="#a2a2a2">10</text>
<text x="308.2" y="494.24" class="dt" fill="#a2a2a2" stroke="#a2a2a2">11</text>
<text x="322.6" y="494.24" class="dt" fill="#a2a2a2" stroke="#a2a2a2">12</text>
<text x="337" y="494.24" class="dt" fill="#9f54b3" stroke="#9f54b3">13</text>
<text x="351.4" y="494.24" class="dt" fill="#9f54b3" stroke="#9f54b3">14</text>
<text x="265" y="503.98" class="dt" fill="#a2a2a2" stroke="#a2a2a2">15</text>
<text x="279.4" y="503.98" class="dt" fill="#a2a2a2" stroke="#a2a2a2">16</text>
<text x="293.8" y="503.98" class="dt" fill="#a2a2a2" stroke="#a2a2a2">17</text>
<text x="308.2" y="503.98" class="dt" fill="#a2a2a2" stroke="#a2a2a2">18</text>
<text x="322.6" y="503.98" class="dt" fill="#a2a2a2" stroke="#a2a2a2">19</text>
<text x="337" y="503.98" class="dt" fill="#9f54b3" stroke="#9f54b3">20</text>
<text x="351.4" y="503.98" class="dt" fill="#9f54b3" stroke="#9f54b3">21</text>
<text x="265" y="513.72" class="dt" fill="#a2a2a2" stroke="#a2a2a2">22</text>
<text x="279.4" y="513.72" class="dt" fill="#a2a2a2" stroke="#a2a2a2">23</text>
<text x="293.8" y="513.72" class="dt" fill="#a2a2a2" stroke="#a2a2a2">24</text>
<text x="308.2" y="513.72" class="dt" fill="#a2a2a2" stroke="#a2a2a2">25</text>
<text x="322.6" y="513.72" class="dt" fill="#a2a2a2" stroke="#a2a2a2">26</text>
<text x="337" y="513.72" class="dt" fill="#9f54b3" stroke="#9f54b3">27</text>
<text x="351.4" y="513.72" class="dt" fill="#9f54b3" stroke="#9f54b3">28</text>
<text x="265" y="523.46" class="dt" fill="#a2a2a2" stroke="#a2a2a2">29</text>
<text x="279.4" y="523.46" class="dt" fill="#a2a2a2" stroke="#a2a2a2">30</text>
<rect x="377.5" y="454" width="100.5" height="14.5" fill="#4a5ac8"/>
<text x="380.3" y="465.2" class="mh">DEZEMBER</text>
<text x="474.5" y="465.2" class="my" text-anchor="end">2021</text>
<text x="384" y="473.2" class="wd" fill="#a8a8a8">MON</text>
<text x="398.4" y="473.2" class="wd" fill="#a8a8a8">DIE</text>
<text x="412.8" y="473.2" class="wd" fill="#a8a8a8">MIT</text>
<text x="427.2" y="473.2" class="wd" fill="#a8a8a8">DON</text>
<text x="441.6" y="473.2" class="wd" fill="#a8a8a8">FRE</text>
<text x="456" y="473.2" class="wd" fill="#7c81b0">SAM</text>
<text x="470.4" y="473.2" class="wd" fill="#7c81b0">SON</text>
<rect x="377" y="485.45" width="101" height="0.8" fill="#dcdcdc"/>
<rect x="377" y="495.15" width="101" height="0.8" fill="#dcdcdc"/>
<rect x="377" y="504.85" width="101" height="0.8" fill="#dcdcdc"/>
<rect x="377" y="514.55" width="101" height="0.8" fill="#dcdcdc"/>
<rect x="377" y="524.25" width="101" height="0.8" fill="#dcdcdc"/>
<text x="412.8" y="484.5" class="dt" fill="#a2a2a2" stroke="#a2a2a2">1</text>
<text x="427.2" y="484.5" class="dt" fill="#a2a2a2" stroke="#a2a2a2">2</text>
<text x="441.6" y="484.5" class="dt" fill="#a2a2a2" stroke="#a2a2a2">3</text>
<text x="456" y="484.5" class="dt" fill="#6168b0" stroke="#6168b0">4</text>
<text x="470.4" y="484.5" class="dt" fill="#6168b0" stroke="#6168b0">5</text>
<text x="384" y="494.24" class="dt" fill="#a2a2a2" stroke="#a2a2a2">6</text>
<text x="398.4" y="494.24" class="dt" fill="#a2a2a2" stroke="#a2a2a2">7</text>
<text x="412.8" y="494.24" class="dt" fill="#a2a2a2" stroke="#a2a2a2">8</text>
<text x="427.2" y="494.24" class="dt" fill="#a2a2a2" stroke="#a2a2a2">9</text>
<text x="441.6" y="494.24" class="dt" fill="#a2a2a2" stroke="#a2a2a2">10</text>
<text x="456" y="494.24" class="dt" fill="#6168b0" stroke="#6168b0">11</text>
<text x="470.4" y="494.24" class="dt" fill="#6168b0" stroke="#6168b0">12</text>
<text x="384" y="503.98" class="dt" fill="#a2a2a2" stroke="#a2a2a2">13</text>
<text x="398.4" y="503.98" class="dt" fill="#a2a2a2" stroke="#a2a2a2">14</text>
<text x="412.8" y="503.98" class="dt" fill="#a2a2a2" stroke="#a2a2a2">15</text>
<text x="427.2" y="503.98" class="dt" fill="#a2a2a2" stroke="#a2a2a2">16</text>
<text x="441.6" y="503.98" class="dt" fill="#a2a2a2" stroke="#a2a2a2">17</text>
<text x="456" y="503.98" class="dt" fill="#6168b0" stroke="#6168b0">18</text>
<text x="470.4" y="503.98" class="dt" fill="#6168b0" stroke="#6168b0">19</text>
<text x="384" y="513.72" class="dt" fill="#a2a2a2" stroke="#a2a2a2">20</text>
<text x="398.4" y="513.72" class="dt" fill="#a2a2a2" stroke="#a2a2a2">21</text>
<text x="412.8" y="513.72" class="dt" fill="#a2a2a2" stroke="#a2a2a2">22</text>
<text x="427.2" y="513.72" class="dt" fill="#a2a2a2" stroke="#a2a2a2">23</text>
<text x="441.6" y="513.72" class="dt" fill="#a2a2a2" stroke="#a2a2a2">24</text>
<text x="456" y="513.72" class="dt" fill="#6168b0" stroke="#6168b0">25</text>
<text x="470.4" y="513.72" class="dt" fill="#6168b0" stroke="#6168b0">26</text>
<text x="384" y="523.46" class="dt" fill="#a2a2a2" stroke="#a2a2a2">27</text>
<text x="398.4" y="523.46" class="dt" fill="#a2a2a2" stroke="#a2a2a2">28</text>
<text x="412.8" y="523.46" class="dt" fill="#a2a2a2" stroke="#a2a2a2">29</text>
<text x="427.2" y="523.46" class="dt" fill="#a2a2a2" stroke="#a2a2a2">30</text>
<text x="441.6" y="523.46" class="dt" fill="#a2a2a2" stroke="#a2a2a2">31</text>
<rect x="543.5" y="265.2" width="100.5" height="14.5" fill="#2f7fd8"/>
<text x="546.3" y="276.4" class="mh">JANUAR</text>
<text x="640.5" y="276.4" class="my" text-anchor="end">2022</text>
<text x="550" y="284.4" class="wd" fill="#a8a8a8">MON</text>
<text x="564.4" y="284.4" class="wd" fill="#a8a8a8">DIE</text>
<text x="578.8" y="284.4" class="wd" fill="#a8a8a8">MIT</text>
<text x="593.2" y="284.4" class="wd" fill="#a8a8a8">DON</text>
<text x="607.6" y="284.4" class="wd" fill="#a8a8a8">FRE</text>
<text x="622" y="284.4" class="wd" fill="#7192bd">SAM</text>
<text x="636.4" y="284.4" class="wd" fill="#7192bd">SON</text>
<rect x="543" y="296.65" width="101" height="0.8" fill="#dcdcdc"/>
<rect x="543" y="306.35" width="101" height="0.8" fill="#dcdcdc"/>
<rect x="543" y="316.05" width="101" height="0.8" fill="#dcdcdc"/>
<rect x="543" y="325.75" width="101" height="0.8" fill="#dcdcdc"/>
<rect x="543" y="335.45" width="101" height="0.8" fill="#dcdcdc"/>
<text x="622" y="295.7" class="dt" fill="#4f82c4" stroke="#4f82c4">1</text>
<text x="636.4" y="295.7" class="dt" fill="#4f82c4" stroke="#4f82c4">2</text>
<text x="550" y="305.44" class="dt" fill="#a2a2a2" stroke="#a2a2a2">3</text>
<text x="564.4" y="305.44" class="dt" fill="#a2a2a2" stroke="#a2a2a2">4</text>
<text x="578.8" y="305.44" class="dt" fill="#a2a2a2" stroke="#a2a2a2">5</text>
<text x="593.2" y="305.44" class="dt" fill="#a2a2a2" stroke="#a2a2a2">6</text>
<text x="607.6" y="305.44" class="dt" fill="#a2a2a2" stroke="#a2a2a2">7</text>
<text x="622" y="305.44" class="dt" fill="#4f82c4" stroke="#4f82c4">8</text>
<text x="636.4" y="305.44" class="dt" fill="#4f82c4" stroke="#4f82c4">9</text>
<text x="550" y="315.18" class="dt" fill="#a2a2a2" stroke="#a2a2a2">10</text>
<text x="564.4" y="315.18" class="dt" fill="#a2a2a2" stroke="#a2a2a2">11</text>
<text x="578.8" y="315.18" class="dt" fill="#a2a2a2" stroke="#a2a2a2">12</text>
<text x="593.2" y="315.18" class="dt" fill="#a2a2a2" stroke="#a2a2a2">13</text>
<text x="607.6" y="315.18" class="dt" fill="#a2a2a2" stroke="#a2a2a2">14</text>
<text x="622" y="315.18" class="dt" fill="#4f82c4" stroke="#4f82c4">15</text>
<text x="636.4" y="315.18" class="dt" fill="#4f82c4" stroke="#4f82c4">16</text>
<text x="550" y="324.92" class="dt" fill="#a2a2a2" stroke="#a2a2a2">17</text>
<text x="564.4" y="324.92" class="dt" fill="#a2a2a2" stroke="#a2a2a2">18</text>
<text x="578.8" y="324.92" class="dt" fill="#a2a2a2" stroke="#a2a2a2">19</text>
<text x="593.2" y="324.92" class="dt" fill="#a2a2a2" stroke="#a2a2a2">20</text>
<text x="607.6" y="324.92" class="dt" fill="#a2a2a2" stroke="#a2a2a2">21</text>
<text x="622" y="324.92" class="dt" fill="#4f82c4" stroke="#4f82c4">22</text>
<text x="636.4" y="324.92" class="dt" fill="#4f82c4" stroke="#4f82c4">23</text>
<text x="550" y="334.66" class="dt" fill="#a2a2a2" stroke="#a2a2a2">24</text>
<text x="564.4" y="334.66" class="dt" fill="#a2a2a2" stroke="#a2a2a2">25</text>
<text x="578.8" y="334.66" class="dt" fill="#a2a2a2" stroke="#a2a2a2">26</text>
<text x="593.2" y="334.66" class="dt" fill="#a2a2a2" stroke="#a2a2a2">27</text>
<text x="607.6" y="334.66" class="dt" fill="#a2a2a2" stroke="#a2a2a2">28</text>
<text x="622" y="334.66" class="dt" fill="#4f82c4" stroke="#4f82c4">29</text>
<text x="636.4" y="334.66" class="dt" fill="#4f82c4" stroke="#4f82c4">30</text>
<text x="550" y="344.4" class="dt" fill="#a2a2a2" stroke="#a2a2a2">31</text>
<rect x="662.5" y="265.2" width="100.5" height="14.5" fill="#34a6dc"/>
<text x="665.3" y="276.4" class="mh">FEBRUAR</text>
<text x="759.5" y="276.4" class="my" text-anchor="end">2022</text>
<text x="669" y="284.4" class="wd" fill="#a8a8a8">MON</text>
<text x="683.4" y="284.4" class="wd" fill="#a8a8a8">DIE</text>
<text x="697.8" y="284.4" class="wd" fill="#a8a8a8">MIT</text>
<text x="712.2" y="284.4" class="wd" fill="#a8a8a8">DON</text>
<text x="726.6" y="284.4" class="wd" fill="#a8a8a8">FRE</text>
<text x="741" y="284.4" class="wd" fill="#6ba5bf">SAM</text>
<text x="755.4" y="284.4" class="wd" fill="#6ba5bf">SON</text>
<rect x="662" y="296.65" width="101" height="0.8" fill="#dcdcdc"/>
<rect x="662" y="306.35" width="101" height="0.8" fill="#dcdcdc"/>
<rect x="662" y="316.05" width="101" height="0.8" fill="#dcdcdc"/>
<rect x="662" y="325.75" width="101" height="0.8" fill="#dcdcdc"/>
<rect x="662" y="335.45" width="101" height="0.8" fill="#dcdcdc"/>
<text x="683.4" y="295.7" class="dt" fill="#a2a2a2" stroke="#a2a2a2">1</text>
<text x="697.8" y="295.7" class="dt" fill="#a2a2a2" stroke="#a2a2a2">2</text>
<text x="712.2" y="295.7" class="dt" fill="#a2a2a2" stroke="#a2a2a2">3</text>
<text x="726.6" y="295.7" class="dt" fill="#a2a2a2" stroke="#a2a2a2">4</text>
<text x="741" y="295.7" class="dt" fill="#469fc7" stroke="#469fc7">5</text>
<text x="755.4" y="295.7" class="dt" fill="#469fc7" stroke="#469fc7">6</text>
<text x="669" y="305.44" class="dt" fill="#a2a2a2" stroke="#a2a2a2">7</text>
<text x="683.4" y="305.44" class="dt" fill="#a2a2a2" stroke="#a2a2a2">8</text>
<text x="697.8" y="305.44" class="dt" fill="#a2a2a2" stroke="#a2a2a2">9</text>
<text x="712.2" y="305.44" class="dt" fill="#a2a2a2" stroke="#a2a2a2">10</text>
<text x="726.6" y="305.44" class="dt" fill="#a2a2a2" stroke="#a2a2a2">11</text>
<text x="741" y="305.44" class="dt" fill="#469fc7" stroke="#469fc7">12</text>
<text x="755.4" y="305.44" class="dt" fill="#469fc7" stroke="#469fc7">13</text>
<text x="669" y="315.18" class="dt" fill="#a2a2a2" stroke="#a2a2a2">14</text>
<text x="683.4" y="315.18" class="dt" fill="#a2a2a2" stroke="#a2a2a2">15</text>
<text x="697.8" y="315.18" class="dt" fill="#a2a2a2" stroke="#a2a2a2">16</text>
<text x="712.2" y="315.18" class="dt" fill="#a2a2a2" stroke="#a2a2a2">17</text>
<text x="726.6" y="315.18" class="dt" fill="#a2a2a2" stroke="#a2a2a2">18</text>
<text x="741" y="315.18" class="dt" fill="#469fc7" stroke="#469fc7">19</text>
<text x="755.4" y="315.18" class="dt" fill="#469fc7" stroke="#469fc7">20</text>
<text x="669" y="324.92" class="dt" fill="#a2a2a2" stroke="#a2a2a2">21</text>
<text x="683.4" y="324.92" class="dt" fill="#a2a2a2" stroke="#a2a2a2">22</text>
<text x="697.8" y="324.92" class="dt" fill="#a2a2a2" stroke="#a2a2a2">23</text>
<text x="712.2" y="324.92" class="dt" fill="#a2a2a2" stroke="#a2a2a2">24</text>
<text x="726.6" y="324.92" class="dt" fill="#a2a2a2" stroke="#a2a2a2">25</text>
<text x="741" y="324.92" class="dt" fill="#469fc7" stroke="#469fc7">26</text>
<text x="755.4" y="324.92" class="dt" fill="#469fc7" stroke="#469fc7">27</text>
<text x="669" y="334.66" class="dt" fill="#a2a2a2" stroke="#a2a2a2">28</text>
<rect x="781" y="265.2" width="100.5" height="14.5" fill="#2cb532"/>
<text x="783.8" y="276.4" class="mh">MÄRZ</text>
<text x="878" y="276.4" class="my" text-anchor="end">2022</text>
<text x="787.5" y="284.4" class="wd" fill="#a8a8a8">MON</text>
<text x="801.9" y="284.4" class="wd" fill="#a8a8a8">DIE</text>
<text x="816.3" y="284.4" class="wd" fill="#a8a8a8">MIT</text>
<text x="830.7" y="284.4" class="wd" fill="#a8a8a8">DON</text>
<text x="845.1" y="284.4" class="wd" fill="#a8a8a8">FRE</text>
<text x="859.5" y="284.4" class="wd" fill="#6eab73">SAM</text>
<text x="873.9" y="284.4" class="wd" fill="#6eab73">SON</text>
<rect x="780.5" y="296.65" width="101" height="0.8" fill="#dcdcdc"/>
<rect x="780.5" y="306.35" width="101" height="0.8" fill="#dcdcdc"/>
<rect x="780.5" y="316.05" width="101" height="0.8" fill="#dcdcdc"/>
<rect x="780.5" y="325.75" width="101" height="0.8" fill="#dcdcdc"/>
<rect x="780.5" y="335.45" width="101" height="0.8" fill="#dcdcdc"/>
<text x="801.9" y="295.7" class="dt" fill="#a2a2a2" stroke="#a2a2a2">1</text>
<text x="816.3" y="295.7" class="dt" fill="#a2a2a2" stroke="#a2a2a2">2</text>
<text x="830.7" y="295.7" class="dt" fill="#a2a2a2" stroke="#a2a2a2">3</text>
<text x="845.1" y="295.7" class="dt" fill="#a2a2a2" stroke="#a2a2a2">4</text>
<text x="859.5" y="295.7" class="dt" fill="#4ba952" stroke="#4ba952">5</text>
<text x="873.9" y="295.7" class="dt" fill="#4ba952" stroke="#4ba952">6</text>
<text x="787.5" y="305.44" class="dt" fill="#a2a2a2" stroke="#a2a2a2">7</text>
<text x="801.9" y="305.44" class="dt" fill="#a2a2a2" stroke="#a2a2a2">8</text>
<text x="816.3" y="305.44" class="dt" fill="#a2a2a2" stroke="#a2a2a2">9</text>
<text x="830.7" y="305.44" class="dt" fill="#a2a2a2" stroke="#a2a2a2">10</text>
<text x="845.1" y="305.44" class="dt" fill="#a2a2a2" stroke="#a2a2a2">11</text>
<text x="859.5" y="305.44" class="dt" fill="#4ba952" stroke="#4ba952">12</text>
<text x="873.9" y="305.44" class="dt" fill="#4ba952" stroke="#4ba952">13</text>
<text x="787.5" y="315.18" class="dt" fill="#a2a2a2" stroke="#a2a2a2">14</text>
<text x="801.9" y="315.18" class="dt" fill="#a2a2a2" stroke="#a2a2a2">15</text>
<text x="816.3" y="315.18" class="dt" fill="#a2a2a2" stroke="#a2a2a2">16</text>
<text x="830.7" y="315.18" class="dt" fill="#a2a2a2" stroke="#a2a2a2">17</text>
<text x="845.1" y="315.18" class="dt" fill="#a2a2a2" stroke="#a2a2a2">18</text>
<text x="859.5" y="315.18" class="dt" fill="#4ba952" stroke="#4ba952">19</text>
<text x="873.9" y="315.18" class="dt" fill="#4ba952" stroke="#4ba952">20</text>
<text x="787.5" y="324.92" class="dt" fill="#a2a2a2" stroke="#a2a2a2">21</text>
<text x="801.9" y="324.92" class="dt" fill="#a2a2a2" stroke="#a2a2a2">22</text>
<text x="816.3" y="324.92" class="dt" fill="#a2a2a2" stroke="#a2a2a2">23</text>
<text x="830.7" y="324.92" class="dt" fill="#a2a2a2" stroke="#a2a2a2">24</text>
<text x="845.1" y="324.92" class="dt" fill="#a2a2a2" stroke="#a2a2a2">25</text>
<text x="859.5" y="324.92" class="dt" fill="#4ba952" stroke="#4ba952">26</text>
<text x="873.9" y="324.92" class="dt" fill="#4ba952" stroke="#4ba952">27</text>
<text x="787.5" y="334.66" class="dt" fill="#a2a2a2" stroke="#a2a2a2">28</text>
<text x="801.9" y="334.66" class="dt" fill="#a2a2a2" stroke="#a2a2a2">29</text>
<text x="816.3" y="334.66" class="dt" fill="#a2a2a2" stroke="#a2a2a2">30</text>
<text x="830.7" y="334.66" class="dt" fill="#a2a2a2" stroke="#a2a2a2">31</text>
<rect x="900" y="265.2" width="100.5" height="14.5" fill="#7ec63c"/>
<text x="902.8" y="276.4" class="mh">APRIL</text>
<text x="997" y="276.4" class="my" text-anchor="end">2022</text>
<text x="906.5" y="284.4" class="wd" fill="#a8a8a8">MON</text>
<text x="920.9" y="284.4" class="wd" fill="#a8a8a8">DIE</text>
<text x="935.3" y="284.4" class="wd" fill="#a8a8a8">MIT</text>
<text x="949.7" y="284.4" class="wd" fill="#a8a8a8">DON</text>
<text x="964.1" y="284.4" class="wd" fill="#a8a8a8">FRE</text>
<text x="978.5" y="284.4" class="wd" fill="#9cbd7c">SAM</text>
<text x="992.9" y="284.4" class="wd" fill="#9cbd7c">SON</text>
<rect x="899.5" y="296.65" width="101" height="0.8" fill="#dcdcdc"/>
<rect x="899.5" y="306.35" width="101" height="0.8" fill="#dcdcdc"/>
<rect x="899.5" y="316.05" width="101" height="0.8" fill="#dcdcdc"/>
<rect x="899.5" y="325.75" width="101" height="0.8" fill="#dcdcdc"/>
<rect x="899.5" y="335.45" width="101" height="0.8" fill="#dcdcdc"/>
<text x="964.1" y="295.7" class="dt" fill="#a2a2a2" stroke="#a2a2a2">1</text>
<text x="978.5" y="295.7" class="dt" fill="#92c461" stroke="#92c461">2</text>
<text x="992.9" y="295.7" class="dt" fill="#92c461" stroke="#92c461">3</text>
<text x="906.5" y="305.44" class="dt" fill="#a2a2a2" stroke="#a2a2a2">4</text>
<text x="920.9" y="305.44" class="dt" fill="#a2a2a2" stroke="#a2a2a2">5</text>
<text x="935.3" y="305.44" class="dt" fill="#a2a2a2" stroke="#a2a2a2">6</text>
<text x="949.7" y="305.44" class="dt" fill="#a2a2a2" stroke="#a2a2a2">7</text>
<text x="964.1" y="305.44" class="dt" fill="#a2a2a2" stroke="#a2a2a2">8</text>
<text x="978.5" y="305.44" class="dt" fill="#92c461" stroke="#92c461">9</text>
<text x="992.9" y="305.44" class="dt" fill="#92c461" stroke="#92c461">10</text>
<text x="906.5" y="315.18" class="dt" fill="#a2a2a2" stroke="#a2a2a2">11</text>
<text x="920.9" y="315.18" class="dt" fill="#a2a2a2" stroke="#a2a2a2">12</text>
<text x="935.3" y="315.18" class="dt" fill="#a2a2a2" stroke="#a2a2a2">13</text>
<text x="949.7" y="315.18" class="dt" fill="#a2a2a2" stroke="#a2a2a2">14</text>
<text x="964.1" y="315.18" class="dt" fill="#a2a2a2" stroke="#a2a2a2">15</text>
<text x="978.5" y="315.18" class="dt" fill="#92c461" stroke="#92c461">16</text>
<text x="992.9" y="315.18" class="dt" fill="#92c461" stroke="#92c461">17</text>
<text x="906.5" y="324.92" class="dt" fill="#a2a2a2" stroke="#a2a2a2">18</text>
<text x="920.9" y="324.92" class="dt" fill="#a2a2a2" stroke="#a2a2a2">19</text>
<text x="935.3" y="324.92" class="dt" fill="#a2a2a2" stroke="#a2a2a2">20</text>
<text x="949.7" y="324.92" class="dt" fill="#a2a2a2" stroke="#a2a2a2">21</text>
<text x="964.1" y="324.92" class="dt" fill="#a2a2a2" stroke="#a2a2a2">22</text>
<text x="978.5" y="324.92" class="dt" fill="#92c461" stroke="#92c461">23</text>
<text x="992.9" y="324.92" class="dt" fill="#92c461" stroke="#92c461">24</text>
<text x="906.5" y="334.66" class="dt" fill="#a2a2a2" stroke="#a2a2a2">25</text>
<text x="920.9" y="334.66" class="dt" fill="#a2a2a2" stroke="#a2a2a2">26</text>
<text x="935.3" y="334.66" class="dt" fill="#a2a2a2" stroke="#a2a2a2">27</text>
<text x="949.7" y="334.66" class="dt" fill="#a2a2a2" stroke="#a2a2a2">28</text>
<text x="964.1" y="334.66" class="dt" fill="#a2a2a2" stroke="#a2a2a2">29</text>
<text x="978.5" y="334.66" class="dt" fill="#92c461" stroke="#92c461">30</text>
<rect x="543.5" y="358.3" width="100.5" height="14.5" fill="#f3c622"/>
<text x="546.3" y="369.5" class="mh">MAI</text>
<text x="640.5" y="369.5" class="my" text-anchor="end">2022</text>
<text x="550" y="377.5" class="wd" fill="#a8a8a8">MON</text>
<text x="564.4" y="377.5" class="wd" fill="#a8a8a8">DIE</text>
<text x="578.8" y="377.5" class="wd" fill="#a8a8a8">MIT</text>
<text x="593.2" y="377.5" class="wd" fill="#a8a8a8">DON</text>
<text x="607.6" y="377.5" class="wd" fill="#a8a8a8">FRE</text>
<text x="622" y="377.5" class="wd" fill="#d1b874">SAM</text>
<text x="636.4" y="377.5" class="wd" fill="#d1b874">SON</text>
<rect x="543" y="389.75" width="101" height="0.8" fill="#dcdcdc"/>
<rect x="543" y="399.45" width="101" height="0.8" fill="#dcdcdc"/>
<rect x="543" y="409.15" width="101" height="0.8" fill="#dcdcdc"/>
<rect x="543" y="418.85" width="101" height="0.8" fill="#dcdcdc"/>
<rect x="543" y="428.55" width="101" height="0.8" fill="#dcdcdc"/>
<text x="636.4" y="388.8" class="dt" fill="#e3bd54" stroke="#e3bd54">1</text>
<text x="550" y="398.54" class="dt" fill="#a2a2a2" stroke="#a2a2a2">2</text>
<text x="564.4" y="398.54" class="dt" fill="#a2a2a2" stroke="#a2a2a2">3</text>
<text x="578.8" y="398.54" class="dt" fill="#a2a2a2" stroke="#a2a2a2">4</text>
<text x="593.2" y="398.54" class="dt" fill="#a2a2a2" stroke="#a2a2a2">5</text>
<text x="607.6" y="398.54" class="dt" fill="#a2a2a2" stroke="#a2a2a2">6</text>
<text x="622" y="398.54" class="dt" fill="#e3bd54" stroke="#e3bd54">7</text>
<text x="636.4" y="398.54" class="dt" fill="#e3bd54" stroke="#e3bd54">8</text>
<text x="550" y="408.28" class="dt" fill="#a2a2a2" stroke="#a2a2a2">9</text>
<text x="564.4" y="408.28" class="dt" fill="#a2a2a2" stroke="#a2a2a2">10</text>
<text x="578.8" y="408.28" class="dt" fill="#a2a2a2" stroke="#a2a2a2">11</text>
<text x="593.2" y="408.28" class="dt" fill="#a2a2a2" stroke="#a2a2a2">12</text>
<text x="607.6" y="408.28" class="dt" fill="#a2a2a2" stroke="#a2a2a2">13</text>
<text x="622" y="408.28" class="dt" fill="#e3bd54" stroke="#e3bd54">14</text>
<text x="636.4" y="408.28" class="dt" fill="#e3bd54" stroke="#e3bd54">15</text>
<text x="550" y="418.02" class="dt" fill="#a2a2a2" stroke="#a2a2a2">16</text>
<text x="564.4" y="418.02" class="dt" fill="#a2a2a2" stroke="#a2a2a2">17</text>
<text x="578.8" y="418.02" class="dt" fill="#a2a2a2" stroke="#a2a2a2">18</text>
<text x="593.2" y="418.02" class="dt" fill="#a2a2a2" stroke="#a2a2a2">19</text>
<text x="607.6" y="418.02" class="dt" fill="#a2a2a2" stroke="#a2a2a2">20</text>
<text x="622" y="418.02" class="dt" fill="#e3bd54" stroke="#e3bd54">21</text>
<text x="636.4" y="418.02" class="dt" fill="#e3bd54" stroke="#e3bd54">22</text>
<text x="550" y="427.76" class="dt" fill="#a2a2a2" stroke="#a2a2a2">23</text>
<text x="564.4" y="427.76" class="dt" fill="#a2a2a2" stroke="#a2a2a2">24</text>
<text x="578.8" y="427.76" class="dt" fill="#a2a2a2" stroke="#a2a2a2">25</text>
<text x="593.2" y="427.76" class="dt" fill="#a2a2a2" stroke="#a2a2a2">26</text>
<text x="607.6" y="427.76" class="dt" fill="#a2a2a2" stroke="#a2a2a2">27</text>
<text x="622" y="427.76" class="dt" fill="#e3bd54" stroke="#e3bd54">28</text>
<text x="636.4" y="427.76" class="dt" fill="#e3bd54" stroke="#e3bd54">29</text>
<text x="550" y="437.5" class="dt" fill="#a2a2a2" stroke="#a2a2a2">30</text>
<text x="564.4" y="437.5" class="dt" fill="#a2a2a2" stroke="#a2a2a2">31</text>
<rect x="662.5" y="358.3" width="100.5" height="14.5" fill="#f6a124"/>
<text x="665.3" y="369.5" class="mh">JUNI</text>
<text x="759.5" y="369.5" class="my" text-anchor="end">2022</text>
<text x="669" y="377.5" class="wd" fill="#a8a8a8">MON</text>
<text x="683.4" y="377.5" class="wd" fill="#a8a8a8">DIE</text>
<text x="697.8" y="377.5" class="wd" fill="#a8a8a8">MIT</text>
<text x="712.2" y="377.5" class="wd" fill="#a8a8a8">DON</text>
<text x="726.6" y="377.5" class="wd" fill="#a8a8a8">FRE</text>
<text x="741" y="377.5" class="wd" fill="#d0a868">SAM</text>
<text x="755.4" y="377.5" class="wd" fill="#d0a868">SON</text>
<rect x="662" y="389.75" width="101" height="0.8" fill="#dcdcdc"/>
<rect x="662" y="399.45" width="101" height="0.8" fill="#dcdcdc"/>
<rect x="662" y="409.15" width="101" height="0.8" fill="#dcdcdc"/>
<rect x="662" y="418.85" width="101" height="0.8" fill="#dcdcdc"/>
<rect x="662" y="428.55" width="101" height="0.8" fill="#dcdcdc"/>
<text x="697.8" y="388.8" class="dt" fill="#a2a2a2" stroke="#a2a2a2">1</text>
<text x="712.2" y="388.8" class="dt" fill="#a2a2a2" stroke="#a2a2a2">2</text>
<text x="726.6" y="388.8" class="dt" fill="#a2a2a2" stroke="#a2a2a2">3</text>
<text x="741" y="388.8" class="dt" fill="#e2a442" stroke="#e2a442">4</text>
<text x="755.4" y="388.8" class="dt" fill="#e2a442" stroke="#e2a442">5</text>
<text x="669" y="398.54" class="dt" fill="#a2a2a2" stroke="#a2a2a2">6</text>
<text x="683.4" y="398.54" class="dt" fill="#a2a2a2" stroke="#a2a2a2">7</text>
<text x="697.8" y="398.54" class="dt" fill="#a2a2a2" stroke="#a2a2a2">8</text>
<text x="712.2" y="398.54" class="dt" fill="#a2a2a2" stroke="#a2a2a2">9</text>
<text x="726.6" y="398.54" class="dt" fill="#a2a2a2" stroke="#a2a2a2">10</text>
<text x="741" y="398.54" class="dt" fill="#e2a442" stroke="#e2a442">11</text>
<text x="755.4" y="398.54" class="dt" fill="#e2a442" stroke="#e2a442">12</text>
<text x="669" y="408.28" class="dt" fill="#a2a2a2" stroke="#a2a2a2">13</text>
<text x="683.4" y="408.28" class="dt" fill="#a2a2a2" stroke="#a2a2a2">14</text>
<text x="697.8" y="408.28" class="dt" fill="#a2a2a2" stroke="#a2a2a2">15</text>
<text x="712.2" y="408.28" class="dt" fill="#a2a2a2" stroke="#a2a2a2">16</text>
<text x="726.6" y="408.28" class="dt" fill="#a2a2a2" stroke="#a2a2a2">17</text>
<text x="741" y="408.28" class="dt" fill="#e2a442" stroke="#e2a442">18</text>
<text x="755.4" y="408.28" class="dt" fill="#e2a442" stroke="#e2a442">19</text>
<text x="669" y="418.02" class="dt" fill="#a2a2a2" stroke="#a2a2a2">20</text>
<text x="683.4" y="418.02" class="dt" fill="#a2a2a2" stroke="#a2a2a2">21</text>
<text x="697.8" y="418.02" class="dt" fill="#a2a2a2" stroke="#a2a2a2">22</text>
<text x="712.2" y="418.02" class="dt" fill="#a2a2a2" stroke="#a2a2a2">23</text>
<text x="726.6" y="418.02" class="dt" fill="#a2a2a2" stroke="#a2a2a2">24</text>
<text x="741" y="418.02" class="dt" fill="#e2a442" stroke="#e2a442">25</text>
<text x="755.4" y="418.02" class="dt" fill="#e2a442" stroke="#e2a442">26</text>
<text x="669" y="427.76" class="dt" fill="#a2a2a2" stroke="#a2a2a2">27</text>
<text x="683.4" y="427.76" class="dt" fill="#a2a2a2" stroke="#a2a2a2">28</text>
<text x="697.8" y="427.76" class="dt" fill="#a2a2a2" stroke="#a2a2a2">29</text>
<text x="712.2" y="427.76" class="dt" fill="#a2a2a2" stroke="#a2a2a2">30</text>
<rect x="781" y="358.3" width="100.5" height="14.5" fill="#f2661f"/>
<text x="783.8" y="369.5" class="mh">JULI</text>
<text x="878" y="369.5" class="my" text-anchor="end">2022</text>
<text x="787.5" y="377.5" class="wd" fill="#a8a8a8">MON</text>
<text x="801.9" y="377.5" class="wd" fill="#a8a8a8">DIE</text>
<text x="816.3" y="377.5" class="wd" fill="#a8a8a8">MIT</text>
<text x="830.7" y="377.5" class="wd" fill="#a8a8a8">DON</text>
<text x="845.1" y="377.5" class="wd" fill="#a8a8a8">FRE</text>
<text x="859.5" y="377.5" class="wd" fill="#ce8968">SAM</text>
<text x="873.9" y="377.5" class="wd" fill="#ce8968">SON</text>
<rect x="780.5" y="389.75" width="101" height="0.8" fill="#dcdcdc"/>
<rect x="780.5" y="399.45" width="101" height="0.8" fill="#dcdcdc"/>
<rect x="780.5" y="409.15" width="101" height="0.8" fill="#dcdcdc"/>
<rect x="780.5" y="418.85" width="101" height="0.8" fill="#dcdcdc"/>
<rect x="780.5" y="428.55" width="101" height="0.8" fill="#dcdcdc"/>
<text x="845.1" y="388.8" class="dt" fill="#a2a2a2" stroke="#a2a2a2">1</text>
<text x="859.5" y="388.8" class="dt" fill="#de7542" stroke="#de7542">2</text>
<text x="873.9" y="388.8" class="dt" fill="#de7542" stroke="#de7542">3</text>
<text x="787.5" y="398.54" class="dt" fill="#a2a2a2" stroke="#a2a2a2">4</text>
<text x="801.9" y="398.54" class="dt" fill="#a2a2a2" stroke="#a2a2a2">5</text>
<text x="816.3" y="398.54" class="dt" fill="#a2a2a2" stroke="#a2a2a2">6</text>
<text x="830.7" y="398.54" class="dt" fill="#a2a2a2" stroke="#a2a2a2">7</text>
<text x="845.1" y="398.54" class="dt" fill="#a2a2a2" stroke="#a2a2a2">8</text>
<text x="859.5" y="398.54" class="dt" fill="#de7542" stroke="#de7542">9</text>
<text x="873.9" y="398.54" class="dt" fill="#de7542" stroke="#de7542">10</text>
<text x="787.5" y="408.28" class="dt" fill="#a2a2a2" stroke="#a2a2a2">11</text>
<text x="801.9" y="408.28" class="dt" fill="#a2a2a2" stroke="#a2a2a2">12</text>
<text x="816.3" y="408.28" class="dt" fill="#a2a2a2" stroke="#a2a2a2">13</text>
<text x="830.7" y="408.28" class="dt" fill="#a2a2a2" stroke="#a2a2a2">14</text>
<text x="845.1" y="408.28" class="dt" fill="#a2a2a2" stroke="#a2a2a2">15</text>
<text x="859.5" y="408.28" class="dt" fill="#de7542" stroke="#de7542">16</text>
<text x="873.9" y="408.28" class="dt" fill="#de7542" stroke="#de7542">17</text>
<text x="787.5" y="418.02" class="dt" fill="#a2a2a2" stroke="#a2a2a2">18</text>
<text x="801.9" y="418.02" class="dt" fill="#a2a2a2" stroke="#a2a2a2">19</text>
<text x="816.3" y="418.02" class="dt" fill="#a2a2a2" stroke="#a2a2a2">20</text>
<text x="830.7" y="418.02" class="dt" fill="#a2a2a2" stroke="#a2a2a2">21</text>
<text x="845.1" y="418.02" class="dt" fill="#a2a2a2" stroke="#a2a2a2">22</text>
<text x="859.5" y="418.02" class="dt" fill="#de7542" stroke="#de7542">23</text>
<text x="873.9" y="418.02" class="dt" fill="#de7542" stroke="#de7542">24</text>
<text x="787.5" y="427.76" class="dt" fill="#a2a2a2" stroke="#a2a2a2">25</text>
<text x="801.9" y="427.76" class="dt" fill="#a2a2a2" stroke="#a2a2a2">26</text>
<text x="816.3" y="427.76" class="dt" fill="#a2a2a2" stroke="#a2a2a2">27</text>
<text x="830.7" y="427.76" class="dt" fill="#a2a2a2" stroke="#a2a2a2">28</text>
<text x="845.1" y="427.76" class="dt" fill="#a2a2a2" stroke="#a2a2a2">29</text>
<text x="859.5" y="427.76" class="dt" fill="#de7542" stroke="#de7542">30</text>
<text x="873.9" y="427.76" class="dt" fill="#de7542" stroke="#de7542">31</text>
<rect x="900" y="358.3" width="100.5" height="14.5" fill="#ec1e24"/>
<text x="902.8" y="369.5" class="mh">AUGUST</text>
<text x="997" y="369.5" class="my" text-anchor="end">2022</text>
<text x="906.5" y="377.5" class="wd" fill="#a8a8a8">MON</text>
<text x="920.9" y="377.5" class="wd" fill="#a8a8a8">DIE</text>
<text x="935.3" y="377.5" class="wd" fill="#a8a8a8">MIT</text>
<text x="949.7" y="377.5" class="wd" fill="#a8a8a8">DON</text>
<text x="964.1" y="377.5" class="wd" fill="#a8a8a8">FRE</text>
<text x="978.5" y="377.5" class="wd" fill="#c96b68">SAM</text>
<text x="992.9" y="377.5" class="wd" fill="#c96b68">SON</text>
<rect x="899.5" y="389.75" width="101" height="0.8" fill="#dcdcdc"/>
<rect x="899.5" y="399.45" width="101" height="0.8" fill="#dcdcdc"/>
<rect x="899.5" y="409.15" width="101" height="0.8" fill="#dcdcdc"/>
<rect x="899.5" y="418.85" width="101" height="0.8" fill="#dcdcdc"/>
<rect x="899.5" y="428.55" width="101" height="0.8" fill="#dcdcdc"/>
<text x="906.5" y="388.8" class="dt" fill="#a2a2a2" stroke="#a2a2a2">1</text>
<text x="920.9" y="388.8" class="dt" fill="#a2a2a2" stroke="#a2a2a2">2</text>
<text x="935.3" y="388.8" class="dt" fill="#a2a2a2" stroke="#a2a2a2">3</text>
<text x="949.7" y="388.8" class="dt" fill="#a2a2a2" stroke="#a2a2a2">4</text>
<text x="964.1" y="388.8" class="dt" fill="#a2a2a2" stroke="#a2a2a2">5</text>
<text x="978.5" y="388.8" class="dt" fill="#d74742" stroke="#d74742">6</text>
<text x="992.9" y="388.8" class="dt" fill="#d74742" stroke="#d74742">7</text>
<text x="906.5" y="398.54" class="dt" fill="#a2a2a2" stroke="#a2a2a2">8</text>
<text x="920.9" y="398.54" class="dt" fill="#a2a2a2" stroke="#a2a2a2">9</text>
<text x="935.3" y="398.54" class="dt" fill="#a2a2a2" stroke="#a2a2a2">10</text>
<text x="949.7" y="398.54" class="dt" fill="#a2a2a2" stroke="#a2a2a2">11</text>
<text x="964.1" y="398.54" class="dt" fill="#a2a2a2" stroke="#a2a2a2">12</text>
<text x="978.5" y="398.54" class="dt" fill="#d74742" stroke="#d74742">13</text>
<text x="992.9" y="398.54" class="dt" fill="#d74742" stroke="#d74742">14</text>
<text x="906.5" y="408.28" class="dt" fill="#a2a2a2" stroke="#a2a2a2">15</text>
<text x="920.9" y="408.28" class="dt" fill="#a2a2a2" stroke="#a2a2a2">16</text>
<text x="935.3" y="408.28" class="dt" fill="#a2a2a2" stroke="#a2a2a2">17</text>
<text x="949.7" y="408.28" class="dt" fill="#a2a2a2" stroke="#a2a2a2">18</text>
<text x="964.1" y="408.28" class="dt" fill="#a2a2a2" stroke="#a2a2a2">19</text>
<text x="978.5" y="408.28" class="dt" fill="#d74742" stroke="#d74742">20</text>
<text x="992.9" y="408.28" class="dt" fill="#d74742" stroke="#d74742">21</text>
<text x="906.5" y="418.02" class="dt" fill="#a2a2a2" stroke="#a2a2a2">22</text>
<text x="920.9" y="418.02" class="dt" fill="#a2a2a2" stroke="#a2a2a2">23</text>
<text x="935.3" y="418.02" class="dt" fill="#a2a2a2" stroke="#a2a2a2">24</text>
<text x="949.7" y="418.02" class="dt" fill="#a2a2a2" stroke="#a2a2a2">25</text>
<text x="964.1" y="418.02" class="dt" fill="#a2a2a2" stroke="#a2a2a2">26</text>
<text x="978.5" y="418.02" class="dt" fill="#d74742" stroke="#d74742">27</text>
<text x="992.9" y="418.02" class="dt" fill="#d74742" stroke="#d74742">28</text>
<text x="906.5" y="427.76" class="dt" fill="#a2a2a2" stroke="#a2a2a2">29</text>
<text x="920.9" y="427.76" class="dt" fill="#a2a2a2" stroke="#a2a2a2">30</text>
<text x="935.3" y="427.76" class="dt" fill="#a2a2a2" stroke="#a2a2a2">31</text>
<rect x="543.5" y="451.5" width="100.5" height="14.5" fill="#ee3d70"/>
<text x="546.3" y="462.7" class="mh">SEPTEMBER</text>
<text x="640.5" y="462.7" class="my" text-anchor="end">2022</text>
<text x="550" y="470.7" class="wd" fill="#a8a8a8">MON</text>
<text x="564.4" y="470.7" class="wd" fill="#a8a8a8">DIE</text>
<text x="578.8" y="470.7" class="wd" fill="#a8a8a8">MIT</text>
<text x="593.2" y="470.7" class="wd" fill="#a8a8a8">DON</text>
<text x="607.6" y="470.7" class="wd" fill="#a8a8a8">FRE</text>
<text x="622" y="470.7" class="wd" fill="#c9748d">SAM</text>
<text x="636.4" y="470.7" class="wd" fill="#c9748d">SON</text>
<rect x="543" y="482.95" width="101" height="0.8" fill="#dcdcdc"/>
<rect x="543" y="492.65" width="101" height="0.8" fill="#dcdcdc"/>
<rect x="543" y="502.35" width="101" height="0.8" fill="#dcdcdc"/>
<rect x="543" y="512.05" width="101" height="0.8" fill="#dcdcdc"/>
<rect x="543" y="521.75" width="101" height="0.8" fill="#dcdcdc"/>
<text x="593.2" y="482" class="dt" fill="#a2a2a2" stroke="#a2a2a2">1</text>
<text x="607.6" y="482" class="dt" fill="#a2a2a2" stroke="#a2a2a2">2</text>
<text x="622" y="482" class="dt" fill="#d7547b" stroke="#d7547b">3</text>
<text x="636.4" y="482" class="dt" fill="#d7547b" stroke="#d7547b">4</text>
<text x="550" y="491.74" class="dt" fill="#a2a2a2" stroke="#a2a2a2">5</text>
<text x="564.4" y="491.74" class="dt" fill="#a2a2a2" stroke="#a2a2a2">6</text>
<text x="578.8" y="491.74" class="dt" fill="#a2a2a2" stroke="#a2a2a2">7</text>
<text x="593.2" y="491.74" class="dt" fill="#a2a2a2" stroke="#a2a2a2">8</text>
<text x="607.6" y="491.74" class="dt" fill="#a2a2a2" stroke="#a2a2a2">9</text>
<text x="622" y="491.74" class="dt" fill="#d7547b" stroke="#d7547b">10</text>
<text x="636.4" y="491.74" class="dt" fill="#d7547b" stroke="#d7547b">11</text>
<text x="550" y="501.48" class="dt" fill="#a2a2a2" stroke="#a2a2a2">12</text>
<text x="564.4" y="501.48" class="dt" fill="#a2a2a2" stroke="#a2a2a2">13</text>
<text x="578.8" y="501.48" class="dt" fill="#a2a2a2" stroke="#a2a2a2">14</text>
<text x="593.2" y="501.48" class="dt" fill="#a2a2a2" stroke="#a2a2a2">15</text>
<text x="607.6" y="501.48" class="dt" fill="#a2a2a2" stroke="#a2a2a2">16</text>
<text x="622" y="501.48" class="dt" fill="#d7547b" stroke="#d7547b">17</text>
<text x="636.4" y="501.48" class="dt" fill="#d7547b" stroke="#d7547b">18</text>
<text x="550" y="511.22" class="dt" fill="#a2a2a2" stroke="#a2a2a2">19</text>
<text x="564.4" y="511.22" class="dt" fill="#a2a2a2" stroke="#a2a2a2">20</text>
<text x="578.8" y="511.22" class="dt" fill="#a2a2a2" stroke="#a2a2a2">21</text>
<text x="593.2" y="511.22" class="dt" fill="#a2a2a2" stroke="#a2a2a2">22</text>
<text x="607.6" y="511.22" class="dt" fill="#a2a2a2" stroke="#a2a2a2">23</text>
<text x="622" y="511.22" class="dt" fill="#d7547b" stroke="#d7547b">24</text>
<text x="636.4" y="511.22" class="dt" fill="#d7547b" stroke="#d7547b">25</text>
<text x="550" y="520.96" class="dt" fill="#a2a2a2" stroke="#a2a2a2">26</text>
<text x="564.4" y="520.96" class="dt" fill="#a2a2a2" stroke="#a2a2a2">27</text>
<text x="578.8" y="520.96" class="dt" fill="#a2a2a2" stroke="#a2a2a2">28</text>
<text x="593.2" y="520.96" class="dt" fill="#a2a2a2" stroke="#a2a2a2">29</text>
<text x="607.6" y="520.96" class="dt" fill="#a2a2a2" stroke="#a2a2a2">30</text>
<rect x="662.5" y="451.5" width="100.5" height="14.5" fill="#dc3299"/>
<text x="665.3" y="462.7" class="mh">OKTOBER</text>
<text x="759.5" y="462.7" class="my" text-anchor="end">2022</text>
<text x="669" y="470.7" class="wd" fill="#a8a8a8">MON</text>
<text x="683.4" y="470.7" class="wd" fill="#a8a8a8">DIE</text>
<text x="697.8" y="470.7" class="wd" fill="#a8a8a8">MIT</text>
<text x="712.2" y="470.7" class="wd" fill="#a8a8a8">DON</text>
<text x="726.6" y="470.7" class="wd" fill="#a8a8a8">FRE</text>
<text x="741" y="470.7" class="wd" fill="#bf71a3">SAM</text>
<text x="755.4" y="470.7" class="wd" fill="#bf71a3">SON</text>
<rect x="662" y="482.95" width="101" height="0.8" fill="#dcdcdc"/>
<rect x="662" y="492.65" width="101" height="0.8" fill="#dcdcdc"/>
<rect x="662" y="502.35" width="101" height="0.8" fill="#dcdcdc"/>
<rect x="662" y="512.05" width="101" height="0.8" fill="#dcdcdc"/>
<rect x="662" y="521.75" width="101" height="0.8" fill="#dcdcdc"/>
<text x="741" y="482" class="dt" fill="#c74f9c" stroke="#c74f9c">1</text>
<text x="755.4" y="482" class="dt" fill="#c74f9c" stroke="#c74f9c">2</text>
<text x="669" y="491.74" class="dt" fill="#a2a2a2" stroke="#a2a2a2">3</text>
<text x="683.4" y="491.74" class="dt" fill="#a2a2a2" stroke="#a2a2a2">4</text>
<text x="697.8" y="491.74" class="dt" fill="#a2a2a2" stroke="#a2a2a2">5</text>
<text x="712.2" y="491.74" class="dt" fill="#a2a2a2" stroke="#a2a2a2">6</text>
<text x="726.6" y="491.74" class="dt" fill="#a2a2a2" stroke="#a2a2a2">7</text>
<text x="741" y="491.74" class="dt" fill="#c74f9c" stroke="#c74f9c">8</text>
<text x="755.4" y="491.74" class="dt" fill="#c74f9c" stroke="#c74f9c">9</text>
<text x="669" y="501.48" class="dt" fill="#a2a2a2" stroke="#a2a2a2">10</text>
<text x="683.4" y="501.48" class="dt" fill="#a2a2a2" stroke="#a2a2a2">11</text>
<text x="697.8" y="501.48" class="dt" fill="#a2a2a2" stroke="#a2a2a2">12</text>
<text x="712.2" y="501.48" class="dt" fill="#a2a2a2" stroke="#a2a2a2">13</text>
<text x="726.6" y="501.48" class="dt" fill="#a2a2a2" stroke="#a2a2a2">14</text>
<text x="741" y="501.48" class="dt" fill="#c74f9c" stroke="#c74f9c">15</text>
<text x="755.4" y="501.48" class="dt" fill="#c74f9c" stroke="#c74f9c">16</text>
<text x="669" y="511.22" class="dt" fill="#a2a2a2" stroke="#a2a2a2">17</text>
<text x="683.4" y="511.22" class="dt" fill="#a2a2a2" stroke="#a2a2a2">18</text>
<text x="697.8" y="511.22" class="dt" fill="#a2a2a2" stroke="#a2a2a2">19</text>
<text x="712.2" y="511.22" class="dt" fill="#a2a2a2" stroke="#a2a2a2">20</text>
<text x="726.6" y="511.22" class="dt" fill="#a2a2a2" stroke="#a2a2a2">21</text>
<text x="741" y="511.22" class="dt" fill="#c74f9c" stroke="#c74f9c">22</text>
<text x="755.4" y="511.22" class="dt" fill="#c74f9c" stroke="#c74f9c">23</text>
<text x="669" y="520.96" class="dt" fill="#a2a2a2" stroke="#a2a2a2">24</text>
<text x="683.4" y="520.96" class="dt" fill="#a2a2a2" stroke="#a2a2a2">25</text>
<text x="697.8" y="520.96" class="dt" fill="#a2a2a2" stroke="#a2a2a2">26</text>
<text x="712.2" y="520.96" class="dt" fill="#a2a2a2" stroke="#a2a2a2">27</text>
<text x="726.6" y="520.96" class="dt" fill="#a2a2a2" stroke="#a2a2a2">28</text>
<text x="741" y="520.96" class="dt" fill="#c74f9c" stroke="#c74f9c">29</text>
<text x="755.4" y="520.96" class="dt" fill="#c74f9c" stroke="#c74f9c">30</text>
<text x="669" y="530.7" class="dt" fill="#a2a2a2" stroke="#a2a2a2">31</text>
<rect x="781" y="451.5" width="100.5" height="14.5" fill="#a638b8"/>
<text x="783.8" y="462.7" class="mh">NOVEMBER</text>
<text x="878" y="462.7" class="my" text-anchor="end">2022</text>
<text x="787.5" y="470.7" class="wd" fill="#a8a8a8">MON</text>
<text x="801.9" y="470.7" class="wd" fill="#a8a8a8">DIE</text>
<text x="816.3" y="470.7" class="wd" fill="#a8a8a8">MIT</text>
<text x="830.7" y="470.7" class="wd" fill="#a8a8a8">DON</text>
<text x="845.1" y="470.7" class="wd" fill="#a8a8a8">FRE</text>
<text x="859.5" y="470.7" class="wd" fill="#a574b2">SAM</text>
<text x="873.9" y="470.7" class="wd" fill="#a574b2">SON</text>
<rect x="780.5" y="482.95" width="101" height="0.8" fill="#dcdcdc"/>
<rect x="780.5" y="492.65" width="101" height="0.8" fill="#dcdcdc"/>
<rect x="780.5" y="502.35" width="101" height="0.8" fill="#dcdcdc"/>
<rect x="780.5" y="512.05" width="101" height="0.8" fill="#dcdcdc"/>
<rect x="780.5" y="521.75" width="101" height="0.8" fill="#dcdcdc"/>
<text x="801.9" y="482" class="dt" fill="#a2a2a2" stroke="#a2a2a2">1</text>
<text x="816.3" y="482" class="dt" fill="#a2a2a2" stroke="#a2a2a2">2</text>
<text x="830.7" y="482" class="dt" fill="#a2a2a2" stroke="#a2a2a2">3</text>
<text x="845.1" y="482" class="dt" fill="#a2a2a2" stroke="#a2a2a2">4</text>
<text x="859.5" y="482" class="dt" fill="#9f54b3" stroke="#9f54b3">5</text>
<text x="873.9" y="482" class="dt" fill="#9f54b3" stroke="#9f54b3">6</text>
<text x="787.5" y="491.74" class="dt" fill="#a2a2a2" stroke="#a2a2a2">7</text>
<text x="801.9" y="491.74" class="dt" fill="#a2a2a2" stroke="#a2a2a2">8</text>
<text x="816.3" y="491.74" class="dt" fill="#a2a2a2" stroke="#a2a2a2">9</text>
<text x="830.7" y="491.74" class="dt" fill="#a2a2a2" stroke="#a2a2a2">10</text>
<text x="845.1" y="491.74" class="dt" fill="#a2a2a2" stroke="#a2a2a2">11</text>
<text x="859.5" y="491.74" class="dt" fill="#9f54b3" stroke="#9f54b3">12</text>
<text x="873.9" y="491.74" class="dt" fill="#9f54b3" stroke="#9f54b3">13</text>
<text x="787.5" y="501.48" class="dt" fill="#a2a2a2" stroke="#a2a2a2">14</text>
<text x="801.9" y="501.48" class="dt" fill="#a2a2a2" stroke="#a2a2a2">15</text>
<text x="816.3" y="501.48" class="dt" fill="#a2a2a2" stroke="#a2a2a2">16</text>
<text x="830.7" y="501.48" class="dt" fill="#a2a2a2" stroke="#a2a2a2">17</text>
<text x="845.1" y="501.48" class="dt" fill="#a2a2a2" stroke="#a2a2a2">18</text>
<text x="859.5" y="501.48" class="dt" fill="#9f54b3" stroke="#9f54b3">19</text>
<text x="873.9" y="501.48" class="dt" fill="#9f54b3" stroke="#9f54b3">20</text>
<text x="787.5" y="511.22" class="dt" fill="#a2a2a2" stroke="#a2a2a2">21</text>
<text x="801.9" y="511.22" class="dt" fill="#a2a2a2" stroke="#a2a2a2">22</text>
<text x="816.3" y="511.22" class="dt" fill="#a2a2a2" stroke="#a2a2a2">23</text>
<text x="830.7" y="511.22" class="dt" fill="#a2a2a2" stroke="#a2a2a2">24</text>
<text x="845.1" y="511.22" class="dt" fill="#a2a2a2" stroke="#a2a2a2">25</text>
<text x="859.5" y="511.22" class="dt" fill="#9f54b3" stroke="#9f54b3">26</text>
<text x="873.9" y="511.22" class="dt" fill="#9f54b3" stroke="#9f54b3">27</text>
<text x="787.5" y="520.96" class="dt" fill="#a2a2a2" stroke="#a2a2a2">28</text>
<text x="801.9" y="520.96" class="dt" fill="#a2a2a2" stroke="#a2a2a2">29</text>
<text x="816.3" y="520.96" class="dt" fill="#a2a2a2" stroke="#a2a2a2">30</text>
<rect x="900" y="451.5" width="100.5" height="14.5" fill="#4a5ac8"/>
<text x="902.8" y="462.7" class="mh">DEZEMBER</text>
<text x="997" y="462.7" class="my" text-anchor="end">2022</text>
<text x="906.5" y="470.7" class="wd" fill="#a8a8a8">MON</text>
<text x="920.9" y="470.7" class="wd" fill="#a8a8a8">DIE</text>
<text x="935.3" y="470.7" class="wd" fill="#a8a8a8">MIT</text>
<text x="949.7" y="470.7" class="wd" fill="#a8a8a8">DON</text>
<text x="964.1" y="470.7" class="wd" fill="#a8a8a8">FRE</text>
<text x="978.5" y="470.7" class="wd" fill="#7c81b0">SAM</text>
<text x="992.9" y="470.7" class="wd" fill="#7c81b0">SON</text>
<rect x="899.5" y="482.95" width="101" height="0.8" fill="#dcdcdc"/>
<rect x="899.5" y="492.65" width="101" height="0.8" fill="#dcdcdc"/>
<rect x="899.5" y="502.35" width="101" height="0.8" fill="#dcdcdc"/>
<rect x="899.5" y="512.05" width="101" height="0.8" fill="#dcdcdc"/>
<rect x="899.5" y="521.75" width="101" height="0.8" fill="#dcdcdc"/>
<text x="949.7" y="482" class="dt" fill="#a2a2a2" stroke="#a2a2a2">1</text>
<text x="964.1" y="482" class="dt" fill="#a2a2a2" stroke="#a2a2a2">2</text>
<text x="978.5" y="482" class="dt" fill="#6168b0" stroke="#6168b0">3</text>
<text x="992.9" y="482" class="dt" fill="#6168b0" stroke="#6168b0">4</text>
<text x="906.5" y="491.74" class="dt" fill="#a2a2a2" stroke="#a2a2a2">5</text>
<text x="920.9" y="491.74" class="dt" fill="#a2a2a2" stroke="#a2a2a2">6</text>
<text x="935.3" y="491.74" class="dt" fill="#a2a2a2" stroke="#a2a2a2">7</text>
<text x="949.7" y="491.74" class="dt" fill="#a2a2a2" stroke="#a2a2a2">8</text>
<text x="964.1" y="491.74" class="dt" fill="#a2a2a2" stroke="#a2a2a2">9</text>
<text x="978.5" y="491.74" class="dt" fill="#6168b0" stroke="#6168b0">10</text>
<text x="992.9" y="491.74" class="dt" fill="#6168b0" stroke="#6168b0">11</text>
<text x="906.5" y="501.48" class="dt" fill="#a2a2a2" stroke="#a2a2a2">12</text>
<text x="920.9" y="501.48" class="dt" fill="#a2a2a2" stroke="#a2a2a2">13</text>
<text x="935.3" y="501.48" class="dt" fill="#a2a2a2" stroke="#a2a2a2">14</text>
<text x="949.7" y="501.48" class="dt" fill="#a2a2a2" stroke="#a2a2a2">15</text>
<text x="964.1" y="501.48" class="dt" fill="#a2a2a2" stroke="#a2a2a2">16</text>
<text x="978.5" y="501.48" class="dt" fill="#6168b0" stroke="#6168b0">17</text>
<text x="992.9" y="501.48" class="dt" fill="#6168b0" stroke="#6168b0">18</text>
<text x="906.5" y="511.22" class="dt" fill="#a2a2a2" stroke="#a2a2a2">19</text>
<text x="920.9" y="511.22" class="dt" fill="#a2a2a2" stroke="#a2a2a2">20</text>
<text x="935.3" y="511.22" class="dt" fill="#a2a2a2" stroke="#a2a2a2">21</text>
<text x="949.7" y="511.22" class="dt" fill="#a2a2a2" stroke="#a2a2a2">22</text>
<text x="964.1" y="511.22" class="dt" fill="#a2a2a2" stroke="#a2a2a2">23</text>
<text x="978.5" y="511.22" class="dt" fill="#6168b0" stroke="#6168b0">24</text>
<text x="992.9" y="511.22" class="dt" fill="#6168b0" stroke="#6168b0">25</text>
<text x="906.5" y="520.96" class="dt" fill="#a2a2a2" stroke="#a2a2a2">26</text>
<text x="920.9" y="520.96" class="dt" fill="#a2a2a2" stroke="#a2a2a2">27</text>
<text x="935.3" y="520.96" class="dt" fill="#a2a2a2" stroke="#a2a2a2">28</text>
<text x="949.7" y="520.96" class="dt" fill="#a2a2a2" stroke="#a2a2a2">29</text>
<text x="964.1" y="520.96" class="dt" fill="#a2a2a2" stroke="#a2a2a2">30</text>
<text x="978.5" y="520.96" class="dt" fill="#6168b0" stroke="#6168b0">31</text>
<rect x="20.5" y="635.5" width="100.5" height="14.5" fill="#2f7fd8"/>
<text x="23.3" y="646.7" class="mh">JANUAR</text>
<text x="117.5" y="646.7" class="my" text-anchor="end">2023</text>
<text x="27" y="654.7" class="wd" fill="#a8a8a8">MON</text>
<text x="41.4" y="654.7" class="wd" fill="#a8a8a8">DIE</text>
<text x="55.8" y="654.7" class="wd" fill="#a8a8a8">MIT</text>
<text x="70.2" y="654.7" class="wd" fill="#a8a8a8">DON</text>
<text x="84.6" y="654.7" class="wd" fill="#a8a8a8">FRE</text>
<text x="99" y="654.7" class="wd" fill="#7192bd">SAM</text>
<text x="113.4" y="654.7" class="wd" fill="#7192bd">SON</text>
<rect x="20" y="666.95" width="101" height="0.8" fill="#dcdcdc"/>
<rect x="20" y="676.65" width="101" height="0.8" fill="#dcdcdc"/>
<rect x="20" y="686.35" width="101" height="0.8" fill="#dcdcdc"/>
<rect x="20" y="696.05" width="101" height="0.8" fill="#dcdcdc"/>
<rect x="20" y="705.75" width="101" height="0.8" fill="#dcdcdc"/>
<text x="113.4" y="666" class="dt" fill="#4f82c4" stroke="#4f82c4">1</text>
<text x="27" y="675.74" class="dt" fill="#a2a2a2" stroke="#a2a2a2">2</text>
<text x="41.4" y="675.74" class="dt" fill="#a2a2a2" stroke="#a2a2a2">3</text>
<text x="55.8" y="675.74" class="dt" fill="#a2a2a2" stroke="#a2a2a2">4</text>
<text x="70.2" y="675.74" class="dt" fill="#a2a2a2" stroke="#a2a2a2">5</text>
<text x="84.6" y="675.74" class="dt" fill="#a2a2a2" stroke="#a2a2a2">6</text>
<text x="99" y="675.74" class="dt" fill="#4f82c4" stroke="#4f82c4">7</text>
<text x="113.4" y="675.74" class="dt" fill="#4f82c4" stroke="#4f82c4">8</text>
<text x="27" y="685.48" class="dt" fill="#a2a2a2" stroke="#a2a2a2">9</text>
<text x="41.4" y="685.48" class="dt" fill="#a2a2a2" stroke="#a2a2a2">10</text>
<text x="55.8" y="685.48" class="dt" fill="#a2a2a2" stroke="#a2a2a2">11</text>
<text x="70.2" y="685.48" class="dt" fill="#a2a2a2" stroke="#a2a2a2">12</text>
<text x="84.6" y="685.48" class="dt" fill="#a2a2a2" stroke="#a2a2a2">13</text>
<text x="99" y="685.48" class="dt" fill="#4f82c4" stroke="#4f82c4">14</text>
<text x="113.4" y="685.48" class="dt" fill="#4f82c4" stroke="#4f82c4">15</text>
<text x="27" y="695.22" class="dt" fill="#a2a2a2" stroke="#a2a2a2">16</text>
<text x="41.4" y="695.22" class="dt" fill="#a2a2a2" stroke="#a2a2a2">17</text>
<text x="55.8" y="695.22" class="dt" fill="#a2a2a2" stroke="#a2a2a2">18</text>
<text x="70.2" y="695.22" class="dt" fill="#a2a2a2" stroke="#a2a2a2">19</text>
<text x="84.6" y="695.22" class="dt" fill="#a2a2a2" stroke="#a2a2a2">20</text>
<text x="99" y="695.22" class="dt" fill="#4f82c4" stroke="#4f82c4">21</text>
<text x="113.4" y="695.22" class="dt" fill="#4f82c4" stroke="#4f82c4">22</text>
<text x="27" y="704.96" class="dt" fill="#a2a2a2" stroke="#a2a2a2">23</text>
<text x="41.4" y="704.96" class="dt" fill="#a2a2a2" stroke="#a2a2a2">24</text>
<text x="55.8" y="704.96" class="dt" fill="#a2a2a2" stroke="#a2a2a2">25</text>
<text x="70.2" y="704.96" class="dt" fill="#a2a2a2" stroke="#a2a2a2">26</text>
<text x="84.6" y="704.96" class="dt" fill="#a2a2a2" stroke="#a2a2a2">27</text>
<text x="99" y="704.96" class="dt" fill="#4f82c4" stroke="#4f82c4">28</text>
<text x="113.4" y="704.96" class="dt" fill="#4f82c4" stroke="#4f82c4">29</text>
<text x="27" y="714.7" class="dt" fill="#a2a2a2" stroke="#a2a2a2">30</text>
<text x="41.4" y="714.7" class="dt" fill="#a2a2a2" stroke="#a2a2a2">31</text>
<rect x="139.5" y="635.5" width="100.5" height="14.5" fill="#34a6dc"/>
<text x="142.3" y="646.7" class="mh">FEBRUAR</text>
<text x="236.5" y="646.7" class="my" text-anchor="end">2023</text>
<text x="146" y="654.7" class="wd" fill="#a8a8a8">MON</text>
<text x="160.4" y="654.7" class="wd" fill="#a8a8a8">DIE</text>
<text x="174.8" y="654.7" class="wd" fill="#a8a8a8">MIT</text>
<text x="189.2" y="654.7" class="wd" fill="#a8a8a8">DON</text>
<text x="203.6" y="654.7" class="wd" fill="#a8a8a8">FRE</text>
<text x="218" y="654.7" class="wd" fill="#6ba5bf">SAM</text>
<text x="232.4" y="654.7" class="wd" fill="#6ba5bf">SON</text>
<rect x="139" y="666.95" width="101" height="0.8" fill="#dcdcdc"/>
<rect x="139" y="676.65" width="101" height="0.8" fill="#dcdcdc"/>
<rect x="139" y="686.35" width="101" height="0.8" fill="#dcdcdc"/>
<rect x="139" y="696.05" width="101" height="0.8" fill="#dcdcdc"/>
<rect x="139" y="705.75" width="101" height="0.8" fill="#dcdcdc"/>
<text x="174.8" y="666" class="dt" fill="#a2a2a2" stroke="#a2a2a2">1</text>
<text x="189.2" y="666" class="dt" fill="#a2a2a2" stroke="#a2a2a2">2</text>
<text x="203.6" y="666" class="dt" fill="#a2a2a2" stroke="#a2a2a2">3</text>
<text x="218" y="666" class="dt" fill="#469fc7" stroke="#469fc7">4</text>
<text x="232.4" y="666" class="dt" fill="#469fc7" stroke="#469fc7">5</text>
<text x="146" y="675.74" class="dt" fill="#a2a2a2" stroke="#a2a2a2">6</text>
<text x="160.4" y="675.74" class="dt" fill="#a2a2a2" stroke="#a2a2a2">7</text>
<text x="174.8" y="675.74" class="dt" fill="#a2a2a2" stroke="#a2a2a2">8</text>
<text x="189.2" y="675.74" class="dt" fill="#a2a2a2" stroke="#a2a2a2">9</text>
<text x="203.6" y="675.74" class="dt" fill="#a2a2a2" stroke="#a2a2a2">10</text>
<text x="218" y="675.74" class="dt" fill="#469fc7" stroke="#469fc7">11</text>
<text x="232.4" y="675.74" class="dt" fill="#469fc7" stroke="#469fc7">12</text>
<text x="146" y="685.48" class="dt" fill="#a2a2a2" stroke="#a2a2a2">13</text>
<text x="160.4" y="685.48" class="dt" fill="#a2a2a2" stroke="#a2a2a2">14</text>
<text x="174.8" y="685.48" class="dt" fill="#a2a2a2" stroke="#a2a2a2">15</text>
<text x="189.2" y="685.48" class="dt" fill="#a2a2a2" stroke="#a2a2a2">16</text>
<text x="203.6" y="685.48" class="dt" fill="#a2a2a2" stroke="#a2a2a2">17</text>
<text x="218" y="685.48" class="dt" fill="#469fc7" stroke="#469fc7">18</text>
<text x="232.4" y="685.48" class="dt" fill="#469fc7" stroke="#469fc7">19</text>
<text x="146" y="695.22" class="dt" fill="#a2a2a2" stroke="#a2a2a2">20</text>
<text x="160.4" y="695.22" class="dt" fill="#a2a2a2" stroke="#a2a2a2">21</text>
<text x="174.8" y="695.22" class="dt" fill="#a2a2a2" stroke="#a2a2a2">22</text>
<text x="189.2" y="695.22" class="dt" fill="#a2a2a2" stroke="#a2a2a2">23</text>
<text x="203.6" y="695.22" class="dt" fill="#a2a2a2" stroke="#a2a2a2">24</text>
<text x="218" y="695.22" class="dt" fill="#469fc7" stroke="#469fc7">25</text>
<text x="232.4" y="695.22" class="dt" fill="#469fc7" stroke="#469fc7">26</text>
<text x="146" y="704.96" class="dt" fill="#a2a2a2" stroke="#a2a2a2">27</text>
<text x="160.4" y="704.96" class="dt" fill="#a2a2a2" stroke="#a2a2a2">28</text>
<rect x="258.5" y="635.5" width="100.5" height="14.5" fill="#2cb532"/>
<text x="261.3" y="646.7" class="mh">MÄRZ</text>
<text x="355.5" y="646.7" class="my" text-anchor="end">2023</text>
<text x="265" y="654.7" class="wd" fill="#a8a8a8">MON</text>
<text x="279.4" y="654.7" class="wd" fill="#a8a8a8">DIE</text>
<text x="293.8" y="654.7" class="wd" fill="#a8a8a8">MIT</text>
<text x="308.2" y="654.7" class="wd" fill="#a8a8a8">DON</text>
<text x="322.6" y="654.7" class="wd" fill="#a8a8a8">FRE</text>
<text x="337" y="654.7" class="wd" fill="#6eab73">SAM</text>
<text x="351.4" y="654.7" class="wd" fill="#6eab73">SON</text>
<rect x="258" y="666.95" width="101" height="0.8" fill="#dcdcdc"/>
<rect x="258" y="676.65" width="101" height="0.8" fill="#dcdcdc"/>
<rect x="258" y="686.35" width="101" height="0.8" fill="#dcdcdc"/>
<rect x="258" y="696.05" width="101" height="0.8" fill="#dcdcdc"/>
<rect x="258" y="705.75" width="101" height="0.8" fill="#dcdcdc"/>
<text x="293.8" y="666" class="dt" fill="#a2a2a2" stroke="#a2a2a2">1</text>
<text x="308.2" y="666" class="dt" fill="#a2a2a2" stroke="#a2a2a2">2</text>
<text x="322.6" y="666" class="dt" fill="#a2a2a2" stroke="#a2a2a2">3</text>
<text x="337" y="666" class="dt" fill="#4ba952" stroke="#4ba952">4</text>
<text x="351.4" y="666" class="dt" fill="#4ba952" stroke="#4ba952">5</text>
<text x="265" y="675.74" class="dt" fill="#a2a2a2" stroke="#a2a2a2">6</text>
<text x="279.4" y="675.74" class="dt" fill="#a2a2a2" stroke="#a2a2a2">7</text>
<text x="293.8" y="675.74" class="dt" fill="#a2a2a2" stroke="#a2a2a2">8</text>
<text x="308.2" y="675.74" class="dt" fill="#a2a2a2" stroke="#a2a2a2">9</text>
<text x="322.6" y="675.74" class="dt" fill="#a2a2a2" stroke="#a2a2a2">10</text>
<text x="337" y="675.74" class="dt" fill="#4ba952" stroke="#4ba952">11</text>
<text x="351.4" y="675.74" class="dt" fill="#4ba952" stroke="#4ba952">12</text>
<text x="265" y="685.48" class="dt" fill="#a2a2a2" stroke="#a2a2a2">13</text>
<text x="279.4" y="685.48" class="dt" fill="#a2a2a2" stroke="#a2a2a2">14</text>
<text x="293.8" y="685.48" class="dt" fill="#a2a2a2" stroke="#a2a2a2">15</text>
<text x="308.2" y="685.48" class="dt" fill="#a2a2a2" stroke="#a2a2a2">16</text>
<text x="322.6" y="685.48" class="dt" fill="#a2a2a2" stroke="#a2a2a2">17</text>
<text x="337" y="685.48" class="dt" fill="#4ba952" stroke="#4ba952">18</text>
<text x="351.4" y="685.48" class="dt" fill="#4ba952" stroke="#4ba952">19</text>
<text x="265" y="695.22" class="dt" fill="#a2a2a2" stroke="#a2a2a2">20</text>
<text x="279.4" y="695.22" class="dt" fill="#a2a2a2" stroke="#a2a2a2">21</text>
<text x="293.8" y="695.22" class="dt" fill="#a2a2a2" stroke="#a2a2a2">22</text>
<text x="308.2" y="695.22" class="dt" fill="#a2a2a2" stroke="#a2a2a2">23</text>
<text x="322.6" y="695.22" class="dt" fill="#a2a2a2" stroke="#a2a2a2">24</text>
<text x="337" y="695.22" class="dt" fill="#4ba952" stroke="#4ba952">25</text>
<text x="351.4" y="695.22" class="dt" fill="#4ba952" stroke="#4ba952">26</text>
<text x="265" y="704.96" class="dt" fill="#a2a2a2" stroke="#a2a2a2">27</text>
<text x="279.4" y="704.96" class="dt" fill="#a2a2a2" stroke="#a2a2a2">28</text>
<text x="293.8" y="704.96" class="dt" fill="#a2a2a2" stroke="#a2a2a2">29</text>
<text x="308.2" y="704.96" class="dt" fill="#a2a2a2" stroke="#a2a2a2">30</text>
<text x="322.6" y="704.96" class="dt" fill="#a2a2a2" stroke="#a2a2a2">31</text>
<rect x="377.5" y="635.5" width="100.5" height="14.5" fill="#7ec63c"/>
<text x="380.3" y="646.7" class="mh">APRIL</text>
<text x="474.5" y="646.7" class="my" text-anchor="end">2023</text>
<text x="384" y="654.7" class="wd" fill="#a8a8a8">MON</text>
<text x="398.4" y="654.7" class="wd" fill="#a8a8a8">DIE</text>
<text x="412.8" y="654.7" class="wd" fill="#a8a8a8">MIT</text>
<text x="427.2" y="654.7" class="wd" fill="#a8a8a8">DON</text>
<text x="441.6" y="654.7" class="wd" fill="#a8a8a8">FRE</text>
<text x="456" y="654.7" class="wd" fill="#9cbd7c">SAM</text>
<text x="470.4" y="654.7" class="wd" fill="#9cbd7c">SON</text>
<rect x="377" y="666.95" width="101" height="0.8" fill="#dcdcdc"/>
<rect x="377" y="676.65" width="101" height="0.8" fill="#dcdcdc"/>
<rect x="377" y="686.35" width="101" height="0.8" fill="#dcdcdc"/>
<rect x="377" y="696.05" width="101" height="0.8" fill="#dcdcdc"/>
<rect x="377" y="705.75" width="101" height="0.8" fill="#dcdcdc"/>
<text x="456" y="666" class="dt" fill="#92c461" stroke="#92c461">1</text>
<text x="470.4" y="666" class="dt" fill="#92c461" stroke="#92c461">2</text>
<text x="384" y="675.74" class="dt" fill="#a2a2a2" stroke="#a2a2a2">3</text>
<text x="398.4" y="675.74" class="dt" fill="#a2a2a2" stroke="#a2a2a2">4</text>
<text x="412.8" y="675.74" class="dt" fill="#a2a2a2" stroke="#a2a2a2">5</text>
<text x="427.2" y="675.74" class="dt" fill="#a2a2a2" stroke="#a2a2a2">6</text>
<text x="441.6" y="675.74" class="dt" fill="#a2a2a2" stroke="#a2a2a2">7</text>
<text x="456" y="675.74" class="dt" fill="#92c461" stroke="#92c461">8</text>
<text x="470.4" y="675.74" class="dt" fill="#92c461" stroke="#92c461">9</text>
<text x="384" y="685.48" class="dt" fill="#a2a2a2" stroke="#a2a2a2">10</text>
<text x="398.4" y="685.48" class="dt" fill="#a2a2a2" stroke="#a2a2a2">11</text>
<text x="412.8" y="685.48" class="dt" fill="#a2a2a2" stroke="#a2a2a2">12</text>
<text x="427.2" y="685.48" class="dt" fill="#a2a2a2" stroke="#a2a2a2">13</text>
<text x="441.6" y="685.48" class="dt" fill="#a2a2a2" stroke="#a2a2a2">14</text>
<text x="456" y="685.48" class="dt" fill="#92c461" stroke="#92c461">15</text>
<text x="470.4" y="685.48" class="dt" fill="#92c461" stroke="#92c461">16</text>
<text x="384" y="695.22" class="dt" fill="#a2a2a2" stroke="#a2a2a2">17</text>
<text x="398.4" y="695.22" class="dt" fill="#a2a2a2" stroke="#a2a2a2">18</text>
<text x="412.8" y="695.22" class="dt" fill="#a2a2a2" stroke="#a2a2a2">19</text>
<text x="427.2" y="695.22" class="dt" fill="#a2a2a2" stroke="#a2a2a2">20</text>
<text x="441.6" y="695.22" class="dt" fill="#a2a2a2" stroke="#a2a2a2">21</text>
<text x="456" y="695.22" class="dt" fill="#92c461" stroke="#92c461">22</text>
<text x="470.4" y="695.22" class="dt" fill="#92c461" stroke="#92c461">23</text>
<text x="384" y="704.96" class="dt" fill="#a2a2a2" stroke="#a2a2a2">24</text>
<text x="398.4" y="704.96" class="dt" fill="#a2a2a2" stroke="#a2a2a2">25</text>
<text x="412.8" y="704.96" class="dt" fill="#a2a2a2" stroke="#a2a2a2">26</text>
<text x="427.2" y="704.96" class="dt" fill="#a2a2a2" stroke="#a2a2a2">27</text>
<text x="441.6" y="704.96" class="dt" fill="#a2a2a2" stroke="#a2a2a2">28</text>
<text x="456" y="704.96" class="dt" fill="#92c461" stroke="#92c461">29</text>
<text x="470.4" y="704.96" class="dt" fill="#92c461" stroke="#92c461">30</text>
<rect x="20.5" y="729" width="100.5" height="14.5" fill="#f3c622"/>
<text x="23.3" y="740.2" class="mh">MAI</text>
<text x="117.5" y="740.2" class="my" text-anchor="end">2023</text>
<text x="27" y="748.2" class="wd" fill="#a8a8a8">MON</text>
<text x="41.4" y="748.2" class="wd" fill="#a8a8a8">DIE</text>
<text x="55.8" y="748.2" class="wd" fill="#a8a8a8">MIT</text>
<text x="70.2" y="748.2" class="wd" fill="#a8a8a8">DON</text>
<text x="84.6" y="748.2" class="wd" fill="#a8a8a8">FRE</text>
<text x="99" y="748.2" class="wd" fill="#d1b874">SAM</text>
<text x="113.4" y="748.2" class="wd" fill="#d1b874">SON</text>
<rect x="20" y="760.45" width="101" height="0.8" fill="#dcdcdc"/>
<rect x="20" y="770.15" width="101" height="0.8" fill="#dcdcdc"/>
<rect x="20" y="779.85" width="101" height="0.8" fill="#dcdcdc"/>
<rect x="20" y="789.55" width="101" height="0.8" fill="#dcdcdc"/>
<rect x="20" y="799.25" width="101" height="0.8" fill="#dcdcdc"/>
<text x="27" y="759.5" class="dt" fill="#a2a2a2" stroke="#a2a2a2">1</text>
<text x="41.4" y="759.5" class="dt" fill="#a2a2a2" stroke="#a2a2a2">2</text>
<text x="55.8" y="759.5" class="dt" fill="#a2a2a2" stroke="#a2a2a2">3</text>
<text x="70.2" y="759.5" class="dt" fill="#a2a2a2" stroke="#a2a2a2">4</text>
<text x="84.6" y="759.5" class="dt" fill="#a2a2a2" stroke="#a2a2a2">5</text>
<text x="99" y="759.5" class="dt" fill="#e3bd54" stroke="#e3bd54">6</text>
<text x="113.4" y="759.5" class="dt" fill="#e3bd54" stroke="#e3bd54">7</text>
<text x="27" y="769.24" class="dt" fill="#a2a2a2" stroke="#a2a2a2">8</text>
<text x="41.4" y="769.24" class="dt" fill="#a2a2a2" stroke="#a2a2a2">9</text>
<text x="55.8" y="769.24" class="dt" fill="#a2a2a2" stroke="#a2a2a2">10</text>
<text x="70.2" y="769.24" class="dt" fill="#a2a2a2" stroke="#a2a2a2">11</text>
<text x="84.6" y="769.24" class="dt" fill="#a2a2a2" stroke="#a2a2a2">12</text>
<text x="99" y="769.24" class="dt" fill="#e3bd54" stroke="#e3bd54">13</text>
<text x="113.4" y="769.24" class="dt" fill="#e3bd54" stroke="#e3bd54">14</text>
<text x="27" y="778.98" class="dt" fill="#a2a2a2" stroke="#a2a2a2">15</text>
<text x="41.4" y="778.98" class="dt" fill="#a2a2a2" stroke="#a2a2a2">16</text>
<text x="55.8" y="778.98" class="dt" fill="#a2a2a2" stroke="#a2a2a2">17</text>
<text x="70.2" y="778.98" class="dt" fill="#a2a2a2" stroke="#a2a2a2">18</text>
<text x="84.6" y="778.98" class="dt" fill="#a2a2a2" stroke="#a2a2a2">19</text>
<text x="99" y="778.98" class="dt" fill="#e3bd54" stroke="#e3bd54">20</text>
<text x="113.4" y="778.98" class="dt" fill="#e3bd54" stroke="#e3bd54">21</text>
<text x="27" y="788.72" class="dt" fill="#a2a2a2" stroke="#a2a2a2">22</text>
<text x="41.4" y="788.72" class="dt" fill="#a2a2a2" stroke="#a2a2a2">23</text>
<text x="55.8" y="788.72" class="dt" fill="#a2a2a2" stroke="#a2a2a2">24</text>
<text x="70.2" y="788.72" class="dt" fill="#a2a2a2" stroke="#a2a2a2">25</text>
<text x="84.6" y="788.72" class="dt" fill="#a2a2a2" stroke="#a2a2a2">26</text>
<text x="99" y="788.72" class="dt" fill="#e3bd54" stroke="#e3bd54">27</text>
<text x="113.4" y="788.72" class="dt" fill="#e3bd54" stroke="#e3bd54">28</text>
<text x="27" y="798.46" class="dt" fill="#a2a2a2" stroke="#a2a2a2">29</text>
<text x="41.4" y="798.46" class="dt" fill="#a2a2a2" stroke="#a2a2a2">30</text>
<text x="55.8" y="798.46" class="dt" fill="#a2a2a2" stroke="#a2a2a2">31</text>
<rect x="139.5" y="729" width="100.5" height="14.5" fill="#f6a124"/>
<text x="142.3" y="740.2" class="mh">JUNI</text>
<text x="236.5" y="740.2" class="my" text-anchor="end">2023</text>
<text x="146" y="748.2" class="wd" fill="#a8a8a8">MON</text>
<text x="160.4" y="748.2" class="wd" fill="#a8a8a8">DIE</text>
<text x="174.8" y="748.2" class="wd" fill="#a8a8a8">MIT</text>
<text x="189.2" y="748.2" class="wd" fill="#a8a8a8">DON</text>
<text x="203.6" y="748.2" class="wd" fill="#a8a8a8">FRE</text>
<text x="218" y="748.2" class="wd" fill="#d0a868">SAM</text>
<text x="232.4" y="748.2" class="wd" fill="#d0a868">SON</text>
<rect x="139" y="760.45" width="101" height="0.8" fill="#dcdcdc"/>
<rect x="139" y="770.15" width="101" height="0.8" fill="#dcdcdc"/>
<rect x="139" y="779.85" width="101" height="0.8" fill="#dcdcdc"/>
<rect x="139" y="789.55" width="101" height="0.8" fill="#dcdcdc"/>
<rect x="139" y="799.25" width="101" height="0.8" fill="#dcdcdc"/>
<text x="189.2" y="759.5" class="dt" fill="#a2a2a2" stroke="#a2a2a2">1</text>
<text x="203.6" y="759.5" class="dt" fill="#a2a2a2" stroke="#a2a2a2">2</text>
<text x="218" y="759.5" class="dt" fill="#e2a442" stroke="#e2a442">3</text>
<text x="232.4" y="759.5" class="dt" fill="#e2a442" stroke="#e2a442">4</text>
<text x="146" y="769.24" class="dt" fill="#a2a2a2" stroke="#a2a2a2">5</text>
<text x="160.4" y="769.24" class="dt" fill="#a2a2a2" stroke="#a2a2a2">6</text>
<text x="174.8" y="769.24" class="dt" fill="#a2a2a2" stroke="#a2a2a2">7</text>
<text x="189.2" y="769.24" class="dt" fill="#a2a2a2" stroke="#a2a2a2">8</text>
<text x="203.6" y="769.24" class="dt" fill="#a2a2a2" stroke="#a2a2a2">9</text>
<text x="218" y="769.24" class="dt" fill="#e2a442" stroke="#e2a442">10</text>
<text x="232.4" y="769.24" class="dt" fill="#e2a442" stroke="#e2a442">11</text>
<text x="146" y="778.98" class="dt" fill="#a2a2a2" stroke="#a2a2a2">12</text>
<text x="160.4" y="778.98" class="dt" fill="#a2a2a2" stroke="#a2a2a2">13</text>
<text x="174.8" y="778.98" class="dt" fill="#a2a2a2" stroke="#a2a2a2">14</text>
<text x="189.2" y="778.98" class="dt" fill="#a2a2a2" stroke="#a2a2a2">15</text>
<text x="203.6" y="778.98" class="dt" fill="#a2a2a2" stroke="#a2a2a2">16</text>
<text x="218" y="778.98" class="dt" fill="#e2a442" stroke="#e2a442">17</text>
<text x="232.4" y="778.98" class="dt" fill="#e2a442" stroke="#e2a442">18</text>
<text x="146" y="788.72" class="dt" fill="#a2a2a2" stroke="#a2a2a2">19</text>
<text x="160.4" y="788.72" class="dt" fill="#a2a2a2" stroke="#a2a2a2">20</text>
<text x="174.8" y="788.72" class="dt" fill="#a2a2a2" stroke="#a2a2a2">21</text>
<text x="189.2" y="788.72" class="dt" fill="#a2a2a2" stroke="#a2a2a2">22</text>
<text x="203.6" y="788.72" class="dt" fill="#a2a2a2" stroke="#a2a2a2">23</text>
<text x="218" y="788.72" class="dt" fill="#e2a442" stroke="#e2a442">24</text>
<text x="232.4" y="788.72" class="dt" fill="#e2a442" stroke="#e2a442">25</text>
<text x="146" y="798.46" class="dt" fill="#a2a2a2" stroke="#a2a2a2">26</text>
<text x="160.4" y="798.46" class="dt" fill="#a2a2a2" stroke="#a2a2a2">27</text>
<text x="174.8" y="798.46" class="dt" fill="#a2a2a2" stroke="#a2a2a2">28</text>
<text x="189.2" y="798.46" class="dt" fill="#a2a2a2" stroke="#a2a2a2">29</text>
<text x="203.6" y="798.46" class="dt" fill="#a2a2a2" stroke="#a2a2a2">30</text>
<rect x="258.5" y="729" width="100.5" height="14.5" fill="#f2661f"/>
<text x="261.3" y="740.2" class="mh">JULI</text>
<text x="355.5" y="740.2" class="my" text-anchor="end">2023</text>
<text x="265" y="748.2" class="wd" fill="#a8a8a8">MON</text>
<text x="279.4" y="748.2" class="wd" fill="#a8a8a8">DIE</text>
<text x="293.8" y="748.2" class="wd" fill="#a8a8a8">MIT</text>
<text x="308.2" y="748.2" class="wd" fill="#a8a8a8">DON</text>
<text x="322.6" y="748.2" class="wd" fill="#a8a8a8">FRE</text>
<text x="337" y="748.2" class="wd" fill="#ce8968">SAM</text>
<text x="351.4" y="748.2" class="wd" fill="#ce8968">SON</text>
<rect x="258" y="760.45" width="101" height="0.8" fill="#dcdcdc"/>
<rect x="258" y="770.15" width="101" height="0.8" fill="#dcdcdc"/>
<rect x="258" y="779.85" width="101" height="0.8" fill="#dcdcdc"/>
<rect x="258" y="789.55" width="101" height="0.8" fill="#dcdcdc"/>
<rect x="258" y="799.25" width="101" height="0.8" fill="#dcdcdc"/>
<text x="337" y="759.5" class="dt" fill="#de7542" stroke="#de7542">1</text>
<text x="351.4" y="759.5" class="dt" fill="#de7542" stroke="#de7542">2</text>
<text x="265" y="769.24" class="dt" fill="#a2a2a2" stroke="#a2a2a2">3</text>
<text x="279.4" y="769.24" class="dt" fill="#a2a2a2" stroke="#a2a2a2">4</text>
<text x="293.8" y="769.24" class="dt" fill="#a2a2a2" stroke="#a2a2a2">5</text>
<text x="308.2" y="769.24" class="dt" fill="#a2a2a2" stroke="#a2a2a2">6</text>
<text x="322.6" y="769.24" class="dt" fill="#a2a2a2" stroke="#a2a2a2">7</text>
<text x="337" y="769.24" class="dt" fill="#de7542" stroke="#de7542">8</text>
<text x="351.4" y="769.24" class="dt" fill="#de7542" stroke="#de7542">9</text>
<text x="265" y="778.98" class="dt" fill="#a2a2a2" stroke="#a2a2a2">10</text>
<text x="279.4" y="778.98" class="dt" fill="#a2a2a2" stroke="#a2a2a2">11</text>
<text x="293.8" y="778.98" class="dt" fill="#a2a2a2" stroke="#a2a2a2">12</text>
<text x="308.2" y="778.98" class="dt" fill="#a2a2a2" stroke="#a2a2a2">13</text>
<text x="322.6" y="778.98" class="dt" fill="#a2a2a2" stroke="#a2a2a2">14</text>
<text x="337" y="778.98" class="dt" fill="#de7542" stroke="#de7542">15</text>
<text x="351.4" y="778.98" class="dt" fill="#de7542" stroke="#de7542">16</text>
<text x="265" y="788.72" class="dt" fill="#a2a2a2" stroke="#a2a2a2">17</text>
<text x="279.4" y="788.72" class="dt" fill="#a2a2a2" stroke="#a2a2a2">18</text>
<text x="293.8" y="788.72" class="dt" fill="#a2a2a2" stroke="#a2a2a2">19</text>
<text x="308.2" y="788.72" class="dt" fill="#a2a2a2" stroke="#a2a2a2">20</text>
<text x="322.6" y="788.72" class="dt" fill="#a2a2a2" stroke="#a2a2a2">21</text>
<text x="337" y="788.72" class="dt" fill="#de7542" stroke="#de7542">22</text>
<text x="351.4" y="788.72" class="dt" fill="#de7542" stroke="#de7542">23</text>
<text x="265" y="798.46" class="dt" fill="#a2a2a2" stroke="#a2a2a2">24</text>
<text x="279.4" y="798.46" class="dt" fill="#a2a2a2" stroke="#a2a2a2">25</text>
<text x="293.8" y="798.46" class="dt" fill="#a2a2a2" stroke="#a2a2a2">26</text>
<text x="308.2" y="798.46" class="dt" fill="#a2a2a2" stroke="#a2a2a2">27</text>
<text x="322.6" y="798.46" class="dt" fill="#a2a2a2" stroke="#a2a2a2">28</text>
<text x="337" y="798.46" class="dt" fill="#de7542" stroke="#de7542">29</text>
<text x="351.4" y="798.46" class="dt" fill="#de7542" stroke="#de7542">30</text>
<text x="265" y="808.2" class="dt" fill="#a2a2a2" stroke="#a2a2a2">31</text>
<rect x="377.5" y="729" width="100.5" height="14.5" fill="#ec1e24"/>
<text x="380.3" y="740.2" class="mh">AUGUST</text>
<text x="474.5" y="740.2" class="my" text-anchor="end">2023</text>
<text x="384" y="748.2" class="wd" fill="#a8a8a8">MON</text>
<text x="398.4" y="748.2" class="wd" fill="#a8a8a8">DIE</text>
<text x="412.8" y="748.2" class="wd" fill="#a8a8a8">MIT</text>
<text x="427.2" y="748.2" class="wd" fill="#a8a8a8">DON</text>
<text x="441.6" y="748.2" class="wd" fill="#a8a8a8">FRE</text>
<text x="456" y="748.2" class="wd" fill="#c96b68">SAM</text>
<text x="470.4" y="748.2" class="wd" fill="#c96b68">SON</text>
<rect x="377" y="760.45" width="101" height="0.8" fill="#dcdcdc"/>
<rect x="377" y="770.15" width="101" height="0.8" fill="#dcdcdc"/>
<rect x="377" y="779.85" width="101" height="0.8" fill="#dcdcdc"/>
<rect x="377" y="789.55" width="101" height="0.8" fill="#dcdcdc"/>
<rect x="377" y="799.25" width="101" height="0.8" fill="#dcdcdc"/>
<text x="398.4" y="759.5" class="dt" fill="#a2a2a2" stroke="#a2a2a2">1</text>
<text x="412.8" y="759.5" class="dt" fill="#a2a2a2" stroke="#a2a2a2">2</text>
<text x="427.2" y="759.5" class="dt" fill="#a2a2a2" stroke="#a2a2a2">3</text>
<text x="441.6" y="759.5" class="dt" fill="#a2a2a2" stroke="#a2a2a2">4</text>
<text x="456" y="759.5" class="dt" fill="#d74742" stroke="#d74742">5</text>
<text x="470.4" y="759.5" class="dt" fill="#d74742" stroke="#d74742">6</text>
<text x="384" y="769.24" class="dt" fill="#a2a2a2" stroke="#a2a2a2">7</text>
<text x="398.4" y="769.24" class="dt" fill="#a2a2a2" stroke="#a2a2a2">8</text>
<text x="412.8" y="769.24" class="dt" fill="#a2a2a2" stroke="#a2a2a2">9</text>
<text x="427.2" y="769.24" class="dt" fill="#a2a2a2" stroke="#a2a2a2">10</text>
<text x="441.6" y="769.24" class="dt" fill="#a2a2a2" stroke="#a2a2a2">11</text>
<text x="456" y="769.24" class="dt" fill="#d74742" stroke="#d74742">12</text>
<text x="470.4" y="769.24" class="dt" fill="#d74742" stroke="#d74742">13</text>
<text x="384" y="778.98" class="dt" fill="#a2a2a2" stroke="#a2a2a2">14</text>
<text x="398.4" y="778.98" class="dt" fill="#a2a2a2" stroke="#a2a2a2">15</text>
<text x="412.8" y="778.98" class="dt" fill="#a2a2a2" stroke="#a2a2a2">16</text>
<text x="427.2" y="778.98" class="dt" fill="#a2a2a2" stroke="#a2a2a2">17</text>
<text x="441.6" y="778.98" class="dt" fill="#a2a2a2" stroke="#a2a2a2">18</text>
<text x="456" y="778.98" class="dt" fill="#d74742" stroke="#d74742">19</text>
<text x="470.4" y="778.98" class="dt" fill="#d74742" stroke="#d74742">20</text>
<text x="384" y="788.72" class="dt" fill="#a2a2a2" stroke="#a2a2a2">21</text>
<text x="398.4" y="788.72" class="dt" fill="#a2a2a2" stroke="#a2a2a2">22</text>
<text x="412.8" y="788.72" class="dt" fill="#a2a2a2" stroke="#a2a2a2">23</text>
<text x="427.2" y="788.72" class="dt" fill="#a2a2a2" stroke="#a2a2a2">24</text>
<text x="441.6" y="788.72" class="dt" fill="#a2a2a2" stroke="#a2a2a2">25</text>
<text x="456" y="788.72" class="dt" fill="#d74742" stroke="#d74742">26</text>
<text x="470.4" y="788.72" class="dt" fill="#d74742" stroke="#d74742">27</text>
<text x="384" y="798.46" class="dt" fill="#a2a2a2" stroke="#a2a2a2">28</text>
<text x="398.4" y="798.46" class="dt" fill="#a2a2a2" stroke="#a2a2a2">29</text>
<text x="412.8" y="798.46" class="dt" fill="#a2a2a2" stroke="#a2a2a2">30</text>
<text x="427.2" y="798.46" class="dt" fill="#a2a2a2" stroke="#a2a2a2">31</text>
<rect x="20.5" y="822.3" width="100.5" height="14.5" fill="#ee3d70"/>
<text x="23.3" y="833.5" class="mh">SEPTEMBER</text>
<text x="117.5" y="833.5" class="my" text-anchor="end">2023</text>
<text x="27" y="841.5" class="wd" fill="#a8a8a8">MON</text>
<text x="41.4" y="841.5" class="wd" fill="#a8a8a8">DIE</text>
<text x="55.8" y="841.5" class="wd" fill="#a8a8a8">MIT</text>
<text x="70.2" y="841.5" class="wd" fill="#a8a8a8">DON</text>
<text x="84.6" y="841.5" class="wd" fill="#a8a8a8">FRE</text>
<text x="99" y="841.5" class="wd" fill="#c9748d">SAM</text>
<text x="113.4" y="841.5" class="wd" fill="#c9748d">SON</text>
<rect x="20" y="853.75" width="101" height="0.8" fill="#dcdcdc"/>
<rect x="20" y="863.45" width="101" height="0.8" fill="#dcdcdc"/>
<rect x="20" y="873.15" width="101" height="0.8" fill="#dcdcdc"/>
<rect x="20" y="882.85" width="101" height="0.8" fill="#dcdcdc"/>
<rect x="20" y="892.55" width="101" height="0.8" fill="#dcdcdc"/>
<text x="84.6" y="852.8" class="dt" fill="#a2a2a2" stroke="#a2a2a2">1</text>
<text x="99" y="852.8" class="dt" fill="#d7547b" stroke="#d7547b">2</text>
<text x="113.4" y="852.8" class="dt" fill="#d7547b" stroke="#d7547b">3</text>
<text x="27" y="862.54" class="dt" fill="#a2a2a2" stroke="#a2a2a2">4</text>
<text x="41.4" y="862.54" class="dt" fill="#a2a2a2" stroke="#a2a2a2">5</text>
<text x="55.8" y="862.54" class="dt" fill="#a2a2a2" stroke="#a2a2a2">6</text>
<text x="70.2" y="862.54" class="dt" fill="#a2a2a2" stroke="#a2a2a2">7</text>
<text x="84.6" y="862.54" class="dt" fill="#a2a2a2" stroke="#a2a2a2">8</text>
<text x="99" y="862.54" class="dt" fill="#d7547b" stroke="#d7547b">9</text>
<text x="113.4" y="862.54" class="dt" fill="#d7547b" stroke="#d7547b">10</text>
<text x="27" y="872.28" class="dt" fill="#a2a2a2" stroke="#a2a2a2">11</text>
<text x="41.4" y="872.28" class="dt" fill="#a2a2a2" stroke="#a2a2a2">12</text>
<text x="55.8" y="872.28" class="dt" fill="#a2a2a2" stroke="#a2a2a2">13</text>
<text x="70.2" y="872.28" class="dt" fill="#a2a2a2" stroke="#a2a2a2">14</text>
<text x="84.6" y="872.28" class="dt" fill="#a2a2a2" stroke="#a2a2a2">15</text>
<text x="99" y="872.28" class="dt" fill="#d7547b" stroke="#d7547b">16</text>
<text x="113.4" y="872.28" class="dt" fill="#d7547b" stroke="#d7547b">17</text>
<text x="27" y="882.02" class="dt" fill="#a2a2a2" stroke="#a2a2a2">18</text>
<text x="41.4" y="882.02" class="dt" fill="#a2a2a2" stroke="#a2a2a2">19</text>
<text x="55.8" y="882.02" class="dt" fill="#a2a2a2" stroke="#a2a2a2">20</text>
<text x="70.2" y="882.02" class="dt" fill="#a2a2a2" stroke="#a2a2a2">21</text>
<text x="84.6" y="882.02" class="dt" fill="#a2a2a2" stroke="#a2a2a2">22</text>
<text x="99" y="882.02" class="dt" fill="#d7547b" stroke="#d7547b">23</text>
<text x="113.4" y="882.02" class="dt" fill="#d7547b" stroke="#d7547b">24</text>
<text x="27" y="891.76" class="dt" fill="#a2a2a2" stroke="#a2a2a2">25</text>
<text x="41.4" y="891.76" class="dt" fill="#a2a2a2" stroke="#a2a2a2">26</text>
<text x="55.8" y="891.76" class="dt" fill="#a2a2a2" stroke="#a2a2a2">27</text>
<text x="70.2" y="891.76" class="dt" fill="#a2a2a2" stroke="#a2a2a2">28</text>
<text x="84.6" y="891.76" class="dt" fill="#a2a2a2" stroke="#a2a2a2">29</text>
<text x="99" y="891.76" class="dt" fill="#d7547b" stroke="#d7547b">30</text>
<rect x="139.5" y="822.3" width="100.5" height="14.5" fill="#dc3299"/>
<text x="142.3" y="833.5" class="mh">OKTOBER</text>
<text x="236.5" y="833.5" class="my" text-anchor="end">2023</text>
<text x="146" y="841.5" class="wd" fill="#a8a8a8">MON</text>
<text x="160.4" y="841.5" class="wd" fill="#a8a8a8">DIE</text>
<text x="174.8" y="841.5" class="wd" fill="#a8a8a8">MIT</text>
<text x="189.2" y="841.5" class="wd" fill="#a8a8a8">DON</text>
<text x="203.6" y="841.5" class="wd" fill="#a8a8a8">FRE</text>
<text x="218" y="841.5" class="wd" fill="#bf71a3">SAM</text>
<text x="232.4" y="841.5" class="wd" fill="#bf71a3">SON</text>
<rect x="139" y="853.75" width="101" height="0.8" fill="#dcdcdc"/>
<rect x="139" y="863.45" width="101" height="0.8" fill="#dcdcdc"/>
<rect x="139" y="873.15" width="101" height="0.8" fill="#dcdcdc"/>
<rect x="139" y="882.85" width="101" height="0.8" fill="#dcdcdc"/>
<rect x="139" y="892.55" width="101" height="0.8" fill="#dcdcdc"/>
<text x="232.4" y="852.8" class="dt" fill="#c74f9c" stroke="#c74f9c">1</text>
<text x="146" y="862.54" class="dt" fill="#a2a2a2" stroke="#a2a2a2">2</text>
<text x="160.4" y="862.54" class="dt" fill="#a2a2a2" stroke="#a2a2a2">3</text>
<text x="174.8" y="862.54" class="dt" fill="#a2a2a2" stroke="#a2a2a2">4</text>
<text x="189.2" y="862.54" class="dt" fill="#a2a2a2" stroke="#a2a2a2">5</text>
<text x="203.6" y="862.54" class="dt" fill="#a2a2a2" stroke="#a2a2a2">6</text>
<text x="218" y="862.54" class="dt" fill="#c74f9c" stroke="#c74f9c">7</text>
<text x="232.4" y="862.54" class="dt" fill="#c74f9c" stroke="#c74f9c">8</text>
<text x="146" y="872.28" class="dt" fill="#a2a2a2" stroke="#a2a2a2">9</text>
<text x="160.4" y="872.28" class="dt" fill="#a2a2a2" stroke="#a2a2a2">10</text>
<text x="174.8" y="872.28" class="dt" fill="#a2a2a2" stroke="#a2a2a2">11</text>
<text x="189.2" y="872.28" class="dt" fill="#a2a2a2" stroke="#a2a2a2">12</text>
<text x="203.6" y="872.28" class="dt" fill="#a2a2a2" stroke="#a2a2a2">13</text>
<text x="218" y="872.28" class="dt" fill="#c74f9c" stroke="#c74f9c">14</text>
<text x="232.4" y="872.28" class="dt" fill="#c74f9c" stroke="#c74f9c">15</text>
<text x="146" y="882.02" class="dt" fill="#a2a2a2" stroke="#a2a2a2">16</text>
<text x="160.4" y="882.02" class="dt" fill="#a2a2a2" stroke="#a2a2a2">17</text>
<text x="174.8" y="882.02" class="dt" fill="#a2a2a2" stroke="#a2a2a2">18</text>
<text x="189.2" y="882.02" class="dt" fill="#a2a2a2" stroke="#a2a2a2">19</text>
<text x="203.6" y="882.02" class="dt" fill="#a2a2a2" stroke="#a2a2a2">20</text>
<text x="218" y="882.02" class="dt" fill="#c74f9c" stroke="#c74f9c">21</text>
<text x="232.4" y="882.02" class="dt" fill="#c74f9c" stroke="#c74f9c">22</text>
<text x="146" y="891.76" class="dt" fill="#a2a2a2" stroke="#a2a2a2">23</text>
<text x="160.4" y="891.76" class="dt" fill="#a2a2a2" stroke="#a2a2a2">24</text>
<text x="174.8" y="891.76" class="dt" fill="#a2a2a2" stroke="#a2a2a2">25</text>
<text x="189.2" y="891.76" class="dt" fill="#a2a2a2" stroke="#a2a2a2">26</text>
<text x="203.6" y="891.76" class="dt" fill="#a2a2a2" stroke="#a2a2a2">27</text>
<text x="218" y="891.76" class="dt" fill="#c74f9c" stroke="#c74f9c">28</text>
<text x="232.4" y="891.76" class="dt" fill="#c74f9c" stroke="#c74f9c">29</text>
<text x="146" y="901.5" class="dt" fill="#a2a2a2" stroke="#a2a2a2">30</text>
<text x="160.4" y="901.5" class="dt" fill="#a2a2a2" stroke="#a2a2a2">31</text>
<rect x="258.5" y="822.3" width="100.5" height="14.5" fill="#a638b8"/>
<text x="261.3" y="833.5" class="mh">NOVEMBER</text>
<text x="355.5" y="833.5" class="my" text-anchor="end">2023</text>
<text x="265" y="841.5" class="wd" fill="#a8a8a8">MON</text>
<text x="279.4" y="841.5" class="wd" fill="#a8a8a8">DIE</text>
<text x="293.8" y="841.5" class="wd" fill="#a8a8a8">MIT</text>
<text x="308.2" y="841.5" class="wd" fill="#a8a8a8">DON</text>
<text x="322.6" y="841.5" class="wd" fill="#a8a8a8">FRE</text>
<text x="337" y="841.5" class="wd" fill="#a574b2">SAM</text>
<text x="351.4" y="841.5" class="wd" fill="#a574b2">SON</text>
<rect x="258" y="853.75" width="101" height="0.8" fill="#dcdcdc"/>
<rect x="258" y="863.45" width="101" height="0.8" fill="#dcdcdc"/>
<rect x="258" y="873.15" width="101" height="0.8" fill="#dcdcdc"/>
<rect x="258" y="882.85" width="101" height="0.8" fill="#dcdcdc"/>
<rect x="258" y="892.55" width="101" height="0.8" fill="#dcdcdc"/>
<text x="293.8" y="852.8" class="dt" fill="#a2a2a2" stroke="#a2a2a2">1</text>
<text x="308.2" y="852.8" class="dt" fill="#a2a2a2" stroke="#a2a2a2">2</text>
<text x="322.6" y="852.8" class="dt" fill="#a2a2a2" stroke="#a2a2a2">3</text>
<text x="337" y="852.8" class="dt" fill="#9f54b3" stroke="#9f54b3">4</text>
<text x="351.4" y="852.8" class="dt" fill="#9f54b3" stroke="#9f54b3">5</text>
<text x="265" y="862.54" class="dt" fill="#a2a2a2" stroke="#a2a2a2">6</text>
<text x="279.4" y="862.54" class="dt" fill="#a2a2a2" stroke="#a2a2a2">7</text>
<text x="293.8" y="862.54" class="dt" fill="#a2a2a2" stroke="#a2a2a2">8</text>
<text x="308.2" y="862.54" class="dt" fill="#a2a2a2" stroke="#a2a2a2">9</text>
<text x="322.6" y="862.54" class="dt" fill="#a2a2a2" stroke="#a2a2a2">10</text>
<text x="337" y="862.54" class="dt" fill="#9f54b3" stroke="#9f54b3">11</text>
<text x="351.4" y="862.54" class="dt" fill="#9f54b3" stroke="#9f54b3">12</text>
<text x="265" y="872.28" class="dt" fill="#a2a2a2" stroke="#a2a2a2">13</text>
<text x="279.4" y="872.28" class="dt" fill="#a2a2a2" stroke="#a2a2a2">14</text>
<text x="293.8" y="872.28" class="dt" fill="#a2a2a2" stroke="#a2a2a2">15</text>
<text x="308.2" y="872.28" class="dt" fill="#a2a2a2" stroke="#a2a2a2">16</text>
<text x="322.6" y="872.28" class="dt" fill="#a2a2a2" stroke="#a2a2a2">17</text>
<text x="337" y="872.28" class="dt" fill="#9f54b3" stroke="#9f54b3">18</text>
<text x="351.4" y="872.28" class="dt" fill="#9f54b3" stroke="#9f54b3">19</text>
<text x="265" y="882.02" class="dt" fill="#a2a2a2" stroke="#a2a2a2">20</text>
<text x="279.4" y="882.02" class="dt" fill="#a2a2a2" stroke="#a2a2a2">21</text>
<text x="293.8" y="882.02" class="dt" fill="#a2a2a2" stroke="#a2a2a2">22</text>
<text x="308.2" y="882.02" class="dt" fill="#a2a2a2" stroke="#a2a2a2">23</text>
<text x="322.6" y="882.02" class="dt" fill="#a2a2a2" stroke="#a2a2a2">24</text>
<text x="337" y="882.02" class="dt" fill="#9f54b3" stroke="#9f54b3">25</text>
<text x="351.4" y="882.02" class="dt" fill="#9f54b3" stroke="#9f54b3">26</text>
<text x="265" y="891.76" class="dt" fill="#a2a2a2" stroke="#a2a2a2">27</text>
<text x="279.4" y="891.76" class="dt" fill="#a2a2a2" stroke="#a2a2a2">28</text>
<text x="293.8" y="891.76" class="dt" fill="#a2a2a2" stroke="#a2a2a2">29</text>
<text x="308.2" y="891.76" class="dt" fill="#a2a2a2" stroke="#a2a2a2">30</text>
<rect x="377.5" y="822.3" width="100.5" height="14.5" fill="#4a5ac8"/>
<text x="380.3" y="833.5" class="mh">DEZEMBER</text>
<text x="474.5" y="833.5" class="my" text-anchor="end">2023</text>
<text x="384" y="841.5" class="wd" fill="#a8a8a8">MON</text>
<text x="398.4" y="841.5" class="wd" fill="#a8a8a8">DIE</text>
<text x="412.8" y="841.5" class="wd" fill="#a8a8a8">MIT</text>
<text x="427.2" y="841.5" class="wd" fill="#a8a8a8">DON</text>
<text x="441.6" y="841.5" class="wd" fill="#a8a8a8">FRE</text>
<text x="456" y="841.5" class="wd" fill="#7c81b0">SAM</text>
<text x="470.4" y="841.5" class="wd" fill="#7c81b0">SON</text>
<rect x="377" y="853.75" width="101" height="0.8" fill="#dcdcdc"/>
<rect x="377" y="863.45" width="101" height="0.8" fill="#dcdcdc"/>
<rect x="377" y="873.15" width="101" height="0.8" fill="#dcdcdc"/>
<rect x="377" y="882.85" width="101" height="0.8" fill="#dcdcdc"/>
<rect x="377" y="892.55" width="101" height="0.8" fill="#dcdcdc"/>
<text x="441.6" y="852.8" class="dt" fill="#a2a2a2" stroke="#a2a2a2">1</text>
<text x="456" y="852.8" class="dt" fill="#6168b0" stroke="#6168b0">2</text>
<text x="470.4" y="852.8" class="dt" fill="#6168b0" stroke="#6168b0">3</text>
<text x="384" y="862.54" class="dt" fill="#a2a2a2" stroke="#a2a2a2">4</text>
<text x="398.4" y="862.54" class="dt" fill="#a2a2a2" stroke="#a2a2a2">5</text>
<text x="412.8" y="862.54" class="dt" fill="#a2a2a2" stroke="#a2a2a2">6</text>
<text x="427.2" y="862.54" class="dt" fill="#a2a2a2" stroke="#a2a2a2">7</text>
<text x="441.6" y="862.54" class="dt" fill="#a2a2a2" stroke="#a2a2a2">8</text>
<text x="456" y="862.54" class="dt" fill="#6168b0" stroke="#6168b0">9</text>
<text x="470.4" y="862.54" class="dt" fill="#6168b0" stroke="#6168b0">10</text>
<text x="384" y="872.28" class="dt" fill="#a2a2a2" stroke="#a2a2a2">11</text>
<text x="398.4" y="872.28" class="dt" fill="#a2a2a2" stroke="#a2a2a2">12</text>
<text x="412.8" y="872.28" class="dt" fill="#a2a2a2" stroke="#a2a2a2">13</text>
<text x="427.2" y="872.28" class="dt" fill="#a2a2a2" stroke="#a2a2a2">14</text>
<text x="441.6" y="872.28" class="dt" fill="#a2a2a2" stroke="#a2a2a2">15</text>
<text x="456" y="872.28" class="dt" fill="#6168b0" stroke="#6168b0">16</text>
<text x="470.4" y="872.28" class="dt" fill="#6168b0" stroke="#6168b0">17</text>
<text x="384" y="882.02" class="dt" fill="#a2a2a2" stroke="#a2a2a2">18</text>
<text x="398.4" y="882.02" class="dt" fill="#a2a2a2" stroke="#a2a2a2">19</text>
<text x="412.8" y="882.02" class="dt" fill="#a2a2a2" stroke="#a2a2a2">20</text>
<text x="427.2" y="882.02" class="dt" fill="#a2a2a2" stroke="#a2a2a2">21</text>
<text x="441.6" y="882.02" class="dt" fill="#a2a2a2" stroke="#a2a2a2">22</text>
<text x="456" y="882.02" class="dt" fill="#6168b0" stroke="#6168b0">23</text>
<text x="470.4" y="882.02" class="dt" fill="#6168b0" stroke="#6168b0">24</text>
<text x="384" y="891.76" class="dt" fill="#a2a2a2" stroke="#a2a2a2">25</text>
<text x="398.4" y="891.76" class="dt" fill="#a2a2a2" stroke="#a2a2a2">26</text>
<text x="412.8" y="891.76" class="dt" fill="#a2a2a2" stroke="#a2a2a2">27</text>
<text x="427.2" y="891.76" class="dt" fill="#a2a2a2" stroke="#a2a2a2">28</text>
<text x="441.6" y="891.76" class="dt" fill="#a2a2a2" stroke="#a2a2a2">29</text>
<text x="456" y="891.76" class="dt" fill="#6168b0" stroke="#6168b0">30</text>
<text x="470.4" y="891.76" class="dt" fill="#6168b0" stroke="#6168b0">31</text>
<rect x="543.5" y="633.4" width="100.5" height="14.5" fill="#2f7fd8"/>
<text x="546.3" y="644.6" class="mh">JANUAR</text>
<text x="640.5" y="644.6" class="my" text-anchor="end">2024</text>
<text x="550" y="652.6" class="wd" fill="#a8a8a8">MON</text>
<text x="564.4" y="652.6" class="wd" fill="#a8a8a8">DIE</text>
<text x="578.8" y="652.6" class="wd" fill="#a8a8a8">MIT</text>
<text x="593.2" y="652.6" class="wd" fill="#a8a8a8">DON</text>
<text x="607.6" y="652.6" class="wd" fill="#a8a8a8">FRE</text>
<text x="622" y="652.6" class="wd" fill="#7192bd">SAM</text>
<text x="636.4" y="652.6" class="wd" fill="#7192bd">SON</text>
<rect x="543" y="664.85" width="101" height="0.8" fill="#dcdcdc"/>
<rect x="543" y="674.55" width="101" height="0.8" fill="#dcdcdc"/>
<rect x="543" y="684.25" width="101" height="0.8" fill="#dcdcdc"/>
<rect x="543" y="693.95" width="101" height="0.8" fill="#dcdcdc"/>
<rect x="543" y="703.65" width="101" height="0.8" fill="#dcdcdc"/>
<text x="550" y="663.9" class="dt" fill="#a2a2a2" stroke="#a2a2a2">1</text>
<text x="564.4" y="663.9" class="dt" fill="#a2a2a2" stroke="#a2a2a2">2</text>
<text x="578.8" y="663.9" class="dt" fill="#a2a2a2" stroke="#a2a2a2">3</text>
<text x="593.2" y="663.9" class="dt" fill="#a2a2a2" stroke="#a2a2a2">4</text>
<text x="607.6" y="663.9" class="dt" fill="#a2a2a2" stroke="#a2a2a2">5</text>
<text x="622" y="663.9" class="dt" fill="#4f82c4" stroke="#4f82c4">6</text>
<text x="636.4" y="663.9" class="dt" fill="#4f82c4" stroke="#4f82c4">7</text>
<text x="550" y="673.64" class="dt" fill="#a2a2a2" stroke="#a2a2a2">8</text>
<text x="564.4" y="673.64" class="dt" fill="#a2a2a2" stroke="#a2a2a2">9</text>
<text x="578.8" y="673.64" class="dt" fill="#a2a2a2" stroke="#a2a2a2">10</text>
<text x="593.2" y="673.64" class="dt" fill="#a2a2a2" stroke="#a2a2a2">11</text>
<text x="607.6" y="673.64" class="dt" fill="#a2a2a2" stroke="#a2a2a2">12</text>
<text x="622" y="673.64" class="dt" fill="#4f82c4" stroke="#4f82c4">13</text>
<text x="636.4" y="673.64" class="dt" fill="#4f82c4" stroke="#4f82c4">14</text>
<text x="550" y="683.38" class="dt" fill="#a2a2a2" stroke="#a2a2a2">15</text>
<text x="564.4" y="683.38" class="dt" fill="#a2a2a2" stroke="#a2a2a2">16</text>
<text x="578.8" y="683.38" class="dt" fill="#a2a2a2" stroke="#a2a2a2">17</text>
<text x="593.2" y="683.38" class="dt" fill="#a2a2a2" stroke="#a2a2a2">18</text>
<text x="607.6" y="683.38" class="dt" fill="#a2a2a2" stroke="#a2a2a2">19</text>
<text x="622" y="683.38" class="dt" fill="#4f82c4" stroke="#4f82c4">20</text>
<text x="636.4" y="683.38" class="dt" fill="#4f82c4" stroke="#4f82c4">21</text>
<text x="550" y="693.12" class="dt" fill="#a2a2a2" stroke="#a2a2a2">22</text>
<text x="564.4" y="693.12" class="dt" fill="#a2a2a2" stroke="#a2a2a2">23</text>
<text x="578.8" y="693.12" class="dt" fill="#a2a2a2" stroke="#a2a2a2">24</text>
<text x="593.2" y="693.12" class="dt" fill="#a2a2a2" stroke="#a2a2a2">25</text>
<text x="607.6" y="693.12" class="dt" fill="#a2a2a2" stroke="#a2a2a2">26</text>
<text x="622" y="693.12" class="dt" fill="#4f82c4" stroke="#4f82c4">27</text>
<text x="636.4" y="693.12" class="dt" fill="#4f82c4" stroke="#4f82c4">28</text>
<text x="550" y="702.86" class="dt" fill="#a2a2a2" stroke="#a2a2a2">29</text>
<text x="564.4" y="702.86" class="dt" fill="#a2a2a2" stroke="#a2a2a2">30</text>
<text x="578.8" y="702.86" class="dt" fill="#a2a2a2" stroke="#a2a2a2">31</text>
<rect x="662.5" y="633.4" width="100.5" height="14.5" fill="#34a6dc"/>
<text x="665.3" y="644.6" class="mh">FEBRUAR</text>
<text x="759.5" y="644.6" class="my" text-anchor="end">2024</text>
<text x="669" y="652.6" class="wd" fill="#a8a8a8">MON</text>
<text x="683.4" y="652.6" class="wd" fill="#a8a8a8">DIE</text>
<text x="697.8" y="652.6" class="wd" fill="#a8a8a8">MIT</text>
<text x="712.2" y="652.6" class="wd" fill="#a8a8a8">DON</text>
<text x="726.6" y="652.6" class="wd" fill="#a8a8a8">FRE</text>
<text x="741" y="652.6" class="wd" fill="#6ba5bf">SAM</text>
<text x="755.4" y="652.6" class="wd" fill="#6ba5bf">SON</text>
<rect x="662" y="664.85" width="101" height="0.8" fill="#dcdcdc"/>
<rect x="662" y="674.55" width="101" height="0.8" fill="#dcdcdc"/>
<rect x="662" y="684.25" width="101" height="0.8" fill="#dcdcdc"/>
<rect x="662" y="693.95" width="101" height="0.8" fill="#dcdcdc"/>
<rect x="662" y="703.65" width="101" height="0.8" fill="#dcdcdc"/>
<text x="712.2" y="663.9" class="dt" fill="#a2a2a2" stroke="#a2a2a2">1</text>
<text x="726.6" y="663.9" class="dt" fill="#a2a2a2" stroke="#a2a2a2">2</text>
<text x="741" y="663.9" class="dt" fill="#469fc7" stroke="#469fc7">3</text>
<text x="755.4" y="663.9" class="dt" fill="#469fc7" stroke="#469fc7">4</text>
<text x="669" y="673.64" class="dt" fill="#a2a2a2" stroke="#a2a2a2">5</text>
<text x="683.4" y="673.64" class="dt" fill="#a2a2a2" stroke="#a2a2a2">6</text>
<text x="697.8" y="673.64" class="dt" fill="#a2a2a2" stroke="#a2a2a2">7</text>
<text x="712.2" y="673.64" class="dt" fill="#a2a2a2" stroke="#a2a2a2">8</text>
<text x="726.6" y="673.64" class="dt" fill="#a2a2a2" stroke="#a2a2a2">9</text>
<text x="741" y="673.64" class="dt" fill="#469fc7" stroke="#469fc7">10</text>
<text x="755.4" y="673.64" class="dt" fill="#469fc7" stroke="#469fc7">11</text>
<text x="669" y="683.38" class="dt" fill="#a2a2a2" stroke="#a2a2a2">12</text>
<text x="683.4" y="683.38" class="dt" fill="#a2a2a2" stroke="#a2a2a2">13</text>
<text x="697.8" y="683.38" class="dt" fill="#a2a2a2" stroke="#a2a2a2">14</text>
<text x="712.2" y="683.38" class="dt" fill="#a2a2a2" stroke="#a2a2a2">15</text>
<text x="726.6" y="683.38" class="dt" fill="#a2a2a2" stroke="#a2a2a2">16</text>
<text x="741" y="683.38" class="dt" fill="#469fc7" stroke="#469fc7">17</text>
<text x="755.4" y="683.38" class="dt" fill="#469fc7" stroke="#469fc7">18</text>
<text x="669" y="693.12" class="dt" fill="#a2a2a2" stroke="#a2a2a2">19</text>
<text x="683.4" y="693.12" class="dt" fill="#a2a2a2" stroke="#a2a2a2">20</text>
<text x="697.8" y="693.12" class="dt" fill="#a2a2a2" stroke="#a2a2a2">21</text>
<text x="712.2" y="693.12" class="dt" fill="#a2a2a2" stroke="#a2a2a2">22</text>
<text x="726.6" y="693.12" class="dt" fill="#a2a2a2" stroke="#a2a2a2">23</text>
<text x="741" y="693.12" class="dt" fill="#469fc7" stroke="#469fc7">24</text>
<text x="755.4" y="693.12" class="dt" fill="#469fc7" stroke="#469fc7">25</text>
<text x="669" y="702.86" class="dt" fill="#a2a2a2" stroke="#a2a2a2">26</text>
<text x="683.4" y="702.86" class="dt" fill="#a2a2a2" stroke="#a2a2a2">27</text>
<text x="697.8" y="702.86" class="dt" fill="#a2a2a2" stroke="#a2a2a2">28</text>
<text x="712.2" y="702.86" class="dt" fill="#a2a2a2" stroke="#a2a2a2">29</text>
<rect x="781" y="633.4" width="100.5" height="14.5" fill="#2cb532"/>
<text x="783.8" y="644.6" class="mh">MÄRZ</text>
<text x="878" y="644.6" class="my" text-anchor="end">2024</text>
<text x="787.5" y="652.6" class="wd" fill="#a8a8a8">MON</text>
<text x="801.9" y="652.6" class="wd" fill="#a8a8a8">DIE</text>
<text x="816.3" y="652.6" class="wd" fill="#a8a8a8">MIT</text>
<text x="830.7" y="652.6" class="wd" fill="#a8a8a8">DON</text>
<text x="845.1" y="652.6" class="wd" fill="#a8a8a8">FRE</text>
<text x="859.5" y="652.6" class="wd" fill="#6eab73">SAM</text>
<text x="873.9" y="652.6" class="wd" fill="#6eab73">SON</text>
<rect x="780.5" y="664.85" width="101" height="0.8" fill="#dcdcdc"/>
<rect x="780.5" y="674.55" width="101" height="0.8" fill="#dcdcdc"/>
<rect x="780.5" y="684.25" width="101" height="0.8" fill="#dcdcdc"/>
<rect x="780.5" y="693.95" width="101" height="0.8" fill="#dcdcdc"/>
<rect x="780.5" y="703.65" width="101" height="0.8" fill="#dcdcdc"/>
<text x="845.1" y="663.9" class="dt" fill="#a2a2a2" stroke="#a2a2a2">1</text>
<text x="859.5" y="663.9" class="dt" fill="#4ba952" stroke="#4ba952">2</text>
<text x="873.9" y="663.9" class="dt" fill="#4ba952" stroke="#4ba952">3</text>
<text x="787.5" y="673.64" class="dt" fill="#a2a2a2" stroke="#a2a2a2">4</text>
<text x="801.9" y="673.64" class="dt" fill="#a2a2a2" stroke="#a2a2a2">5</text>
<text x="816.3" y="673.64" class="dt" fill="#a2a2a2" stroke="#a2a2a2">6</text>
<text x="830.7" y="673.64" class="dt" fill="#a2a2a2" stroke="#a2a2a2">7</text>
<text x="845.1" y="673.64" class="dt" fill="#a2a2a2" stroke="#a2a2a2">8</text>
<text x="859.5" y="673.64" class="dt" fill="#4ba952" stroke="#4ba952">9</text>
<text x="873.9" y="673.64" class="dt" fill="#4ba952" stroke="#4ba952">10</text>
<text x="787.5" y="683.38" class="dt" fill="#a2a2a2" stroke="#a2a2a2">11</text>
<text x="801.9" y="683.38" class="dt" fill="#a2a2a2" stroke="#a2a2a2">12</text>
<text x="816.3" y="683.38" class="dt" fill="#a2a2a2" stroke="#a2a2a2">13</text>
<text x="830.7" y="683.38" class="dt" fill="#a2a2a2" stroke="#a2a2a2">14</text>
<text x="845.1" y="683.38" class="dt" fill="#a2a2a2" stroke="#a2a2a2">15</text>
<text x="859.5" y="683.38" class="dt" fill="#4ba952" stroke="#4ba952">16</text>
<text x="873.9" y="683.38" class="dt" fill="#4ba952" stroke="#4ba952">17</text>
<text x="787.5" y="693.12" class="dt" fill="#a2a2a2" stroke="#a2a2a2">18</text>
<text x="801.9" y="693.12" class="dt" fill="#a2a2a2" stroke="#a2a2a2">19</text>
<text x="816.3" y="693.12" class="dt" fill="#a2a2a2" stroke="#a2a2a2">20</text>
<text x="830.7" y="693.12" class="dt" fill="#a2a2a2" stroke="#a2a2a2">21</text>
<text x="845.1" y="693.12" class="dt" fill="#a2a2a2" stroke="#a2a2a2">22</text>
<text x="859.5" y="693.12" class="dt" fill="#4ba952" stroke="#4ba952">23</text>
<text x="873.9" y="693.12" class="dt" fill="#4ba952" stroke="#4ba952">24</text>
<text x="787.5" y="702.86" class="dt" fill="#a2a2a2" stroke="#a2a2a2">25</text>
<text x="801.9" y="702.86" class="dt" fill="#a2a2a2" stroke="#a2a2a2">26</text>
<text x="816.3" y="702.86" class="dt" fill="#a2a2a2" stroke="#a2a2a2">27</text>
<text x="830.7" y="702.86" class="dt" fill="#a2a2a2" stroke="#a2a2a2">28</text>
<text x="845.1" y="702.86" class="dt" fill="#a2a2a2" stroke="#a2a2a2">29</text>
<text x="859.5" y="702.86" class="dt" fill="#4ba952" stroke="#4ba952">30</text>
<text x="873.9" y="702.86" class="dt" fill="#4ba952" stroke="#4ba952">31</text>
<rect x="900" y="633.4" width="100.5" height="14.5" fill="#7ec63c"/>
<text x="902.8" y="644.6" class="mh">APRIL</text>
<text x="997" y="644.6" class="my" text-anchor="end">2024</text>
<text x="906.5" y="652.6" class="wd" fill="#a8a8a8">MON</text>
<text x="920.9" y="652.6" class="wd" fill="#a8a8a8">DIE</text>
<text x="935.3" y="652.6" class="wd" fill="#a8a8a8">MIT</text>
<text x="949.7" y="652.6" class="wd" fill="#a8a8a8">DON</text>
<text x="964.1" y="652.6" class="wd" fill="#a8a8a8">FRE</text>
<text x="978.5" y="652.6" class="wd" fill="#9cbd7c">SAM</text>
<text x="992.9" y="652.6" class="wd" fill="#9cbd7c">SON</text>
<rect x="899.5" y="664.85" width="101" height="0.8" fill="#dcdcdc"/>
<rect x="899.5" y="674.55" width="101" height="0.8" fill="#dcdcdc"/>
<rect x="899.5" y="684.25" width="101" height="0.8" fill="#dcdcdc"/>
<rect x="899.5" y="693.95" width="101" height="0.8" fill="#dcdcdc"/>
<rect x="899.5" y="703.65" width="101" height="0.8" fill="#dcdcdc"/>
<text x="906.5" y="663.9" class="dt" fill="#a2a2a2" stroke="#a2a2a2">1</text>
<text x="920.9" y="663.9" class="dt" fill="#a2a2a2" stroke="#a2a2a2">2</text>
<text x="935.3" y="663.9" class="dt" fill="#a2a2a2" stroke="#a2a2a2">3</text>
<text x="949.7" y="663.9" class="dt" fill="#a2a2a2" stroke="#a2a2a2">4</text>
<text x="964.1" y="663.9" class="dt" fill="#a2a2a2" stroke="#a2a2a2">5</text>
<text x="978.5" y="663.9" class="dt" fill="#92c461" stroke="#92c461">6</text>
<text x="992.9" y="663.9" class="dt" fill="#92c461" stroke="#92c461">7</text>
<text x="906.5" y="673.64" class="dt" fill="#a2a2a2" stroke="#a2a2a2">8</text>
<text x="920.9" y="673.64" class="dt" fill="#a2a2a2" stroke="#a2a2a2">9</text>
<text x="935.3" y="673.64" class="dt" fill="#a2a2a2" stroke="#a2a2a2">10</text>
<text x="949.7" y="673.64" class="dt" fill="#a2a2a2" stroke="#a2a2a2">11</text>
<text x="964.1" y="673.64" class="dt" fill="#a2a2a2" stroke="#a2a2a2">12</text>
<text x="978.5" y="673.64" class="dt" fill="#92c461" stroke="#92c461">13</text>
<text x="992.9" y="673.64" class="dt" fill="#92c461" stroke="#92c461">14</text>
<text x="906.5" y="683.38" class="dt" fill="#a2a2a2" stroke="#a2a2a2">15</text>
<text x="920.9" y="683.38" class="dt" fill="#a2a2a2" stroke="#a2a2a2">16</text>
<text x="935.3" y="683.38" class="dt" fill="#a2a2a2" stroke="#a2a2a2">17</text>
<text x="949.7" y="683.38" class="dt" fill="#a2a2a2" stroke="#a2a2a2">18</text>
<text x="964.1" y="683.38" class="dt" fill="#a2a2a2" stroke="#a2a2a2">19</text>
<text x="978.5" y="683.38" class="dt" fill="#92c461" stroke="#92c461">20</text>
<text x="992.9" y="683.38" class="dt" fill="#92c461" stroke="#92c461">21</text>
<text x="906.5" y="693.12" class="dt" fill="#a2a2a2" stroke="#a2a2a2">22</text>
<text x="920.9" y="693.12" class="dt" fill="#a2a2a2" stroke="#a2a2a2">23</text>
<text x="935.3" y="693.12" class="dt" fill="#a2a2a2" stroke="#a2a2a2">24</text>
<text x="949.7" y="693.12" class="dt" fill="#a2a2a2" stroke="#a2a2a2">25</text>
<text x="964.1" y="693.12" class="dt" fill="#a2a2a2" stroke="#a2a2a2">26</text>
<text x="978.5" y="693.12" class="dt" fill="#92c461" stroke="#92c461">27</text>
<text x="992.9" y="693.12" class="dt" fill="#92c461" stroke="#92c461">28</text>
<text x="906.5" y="702.86" class="dt" fill="#a2a2a2" stroke="#a2a2a2">29</text>
<text x="920.9" y="702.86" class="dt" fill="#a2a2a2" stroke="#a2a2a2">30</text>
<rect x="543.5" y="726.6" width="100.5" height="14.5" fill="#f3c622"/>
<text x="546.3" y="737.8" class="mh">MAI</text>
<text x="640.5" y="737.8" class="my" text-anchor="end">2024</text>
<text x="550" y="745.8" class="wd" fill="#a8a8a8">MON</text>
<text x="564.4" y="745.8" class="wd" fill="#a8a8a8">DIE</text>
<text x="578.8" y="745.8" class="wd" fill="#a8a8a8">MIT</text>
<text x="593.2" y="745.8" class="wd" fill="#a8a8a8">DON</text>
<text x="607.6" y="745.8" class="wd" fill="#a8a8a8">FRE</text>
<text x="622" y="745.8" class="wd" fill="#d1b874">SAM</text>
<text x="636.4" y="745.8" class="wd" fill="#d1b874">SON</text>
<rect x="543" y="758.05" width="101" height="0.8" fill="#dcdcdc"/>
<rect x="543" y="767.75" width="101" height="0.8" fill="#dcdcdc"/>
<rect x="543" y="777.45" width="101" height="0.8" fill="#dcdcdc"/>
<rect x="543" y="787.15" width="101" height="0.8" fill="#dcdcdc"/>
<rect x="543" y="796.85" width="101" height="0.8" fill="#dcdcdc"/>
<text x="578.8" y="757.1" class="dt" fill="#a2a2a2" stroke="#a2a2a2">1</text>
<text x="593.2" y="757.1" class="dt" fill="#a2a2a2" stroke="#a2a2a2">2</text>
<text x="607.6" y="757.1" class="dt" fill="#a2a2a2" stroke="#a2a2a2">3</text>
<text x="622" y="757.1" class="dt" fill="#e3bd54" stroke="#e3bd54">4</text>
<text x="636.4" y="757.1" class="dt" fill="#e3bd54" stroke="#e3bd54">5</text>
<text x="550" y="766.84" class="dt" fill="#a2a2a2" stroke="#a2a2a2">6</text>
<text x="564.4" y="766.84" class="dt" fill="#a2a2a2" stroke="#a2a2a2">7</text>
<text x="578.8" y="766.84" class="dt" fill="#a2a2a2" stroke="#a2a2a2">8</text>
<text x="593.2" y="766.84" class="dt" fill="#a2a2a2" stroke="#a2a2a2">9</text>
<text x="607.6" y="766.84" class="dt" fill="#a2a2a2" stroke="#a2a2a2">10</text>
<text x="622" y="766.84" class="dt" fill="#e3bd54" stroke="#e3bd54">11</text>
<text x="636.4" y="766.84" class="dt" fill="#e3bd54" stroke="#e3bd54">12</text>
<text x="550" y="776.58" class="dt" fill="#a2a2a2" stroke="#a2a2a2">13</text>
<text x="564.4" y="776.58" class="dt" fill="#a2a2a2" stroke="#a2a2a2">14</text>
<text x="578.8" y="776.58" class="dt" fill="#a2a2a2" stroke="#a2a2a2">15</text>
<text x="593.2" y="776.58" class="dt" fill="#a2a2a2" stroke="#a2a2a2">16</text>
<text x="607.6" y="776.58" class="dt" fill="#a2a2a2" stroke="#a2a2a2">17</text>
<text x="622" y="776.58" class="dt" fill="#e3bd54" stroke="#e3bd54">18</text>
<text x="636.4" y="776.58" class="dt" fill="#e3bd54" stroke="#e3bd54">19</text>
<text x="550" y="786.32" class="dt" fill="#a2a2a2" stroke="#a2a2a2">20</text>
<text x="564.4" y="786.32" class="dt" fill="#a2a2a2" stroke="#a2a2a2">21</text>
<text x="578.8" y="786.32" class="dt" fill="#a2a2a2" stroke="#a2a2a2">22</text>
<text x="593.2" y="786.32" class="dt" fill="#a2a2a2" stroke="#a2a2a2">23</text>
<text x="607.6" y="786.32" class="dt" fill="#a2a2a2" stroke="#a2a2a2">24</text>
<text x="622" y="786.32" class="dt" fill="#e3bd54" stroke="#e3bd54">25</text>
<text x="636.4" y="786.32" class="dt" fill="#e3bd54" stroke="#e3bd54">26</text>
<text x="550" y="796.06" class="dt" fill="#a2a2a2" stroke="#a2a2a2">27</text>
<text x="564.4" y="796.06" class="dt" fill="#a2a2a2" stroke="#a2a2a2">28</text>
<text x="578.8" y="796.06" class="dt" fill="#a2a2a2" stroke="#a2a2a2">29</text>
<text x="593.2" y="796.06" class="dt" fill="#a2a2a2" stroke="#a2a2a2">30</text>
<text x="607.6" y="796.06" class="dt" fill="#a2a2a2" stroke="#a2a2a2">31</text>
<rect x="662.5" y="726.6" width="100.5" height="14.5" fill="#f6a124"/>
<text x="665.3" y="737.8" class="mh">JUNI</text>
<text x="759.5" y="737.8" class="my" text-anchor="end">2024</text>
<text x="669" y="745.8" class="wd" fill="#a8a8a8">MON</text>
<text x="683.4" y="745.8" class="wd" fill="#a8a8a8">DIE</text>
<text x="697.8" y="745.8" class="wd" fill="#a8a8a8">MIT</text>
<text x="712.2" y="745.8" class="wd" fill="#a8a8a8">DON</text>
<text x="726.6" y="745.8" class="wd" fill="#a8a8a8">FRE</text>
<text x="741" y="745.8" class="wd" fill="#d0a868">SAM</text>
<text x="755.4" y="745.8" class="wd" fill="#d0a868">SON</text>
<rect x="662" y="758.05" width="101" height="0.8" fill="#dcdcdc"/>
<rect x="662" y="767.75" width="101" height="0.8" fill="#dcdcdc"/>
<rect x="662" y="777.45" width="101" height="0.8" fill="#dcdcdc"/>
<rect x="662" y="787.15" width="101" height="0.8" fill="#dcdcdc"/>
<rect x="662" y="796.85" width="101" height="0.8" fill="#dcdcdc"/>
<text x="741" y="757.1" class="dt" fill="#e2a442" stroke="#e2a442">1</text>
<text x="755.4" y="757.1" class="dt" fill="#e2a442" stroke="#e2a442">2</text>
<text x="669" y="766.84" class="dt" fill="#a2a2a2" stroke="#a2a2a2">3</text>
<text x="683.4" y="766.84" class="dt" fill="#a2a2a2" stroke="#a2a2a2">4</text>
<text x="697.8" y="766.84" class="dt" fill="#a2a2a2" stroke="#a2a2a2">5</text>
<text x="712.2" y="766.84" class="dt" fill="#a2a2a2" stroke="#a2a2a2">6</text>
<text x="726.6" y="766.84" class="dt" fill="#a2a2a2" stroke="#a2a2a2">7</text>
<text x="741" y="766.84" class="dt" fill="#e2a442" stroke="#e2a442">8</text>
<text x="755.4" y="766.84" class="dt" fill="#e2a442" stroke="#e2a442">9</text>
<text x="669" y="776.58" class="dt" fill="#a2a2a2" stroke="#a2a2a2">10</text>
<text x="683.4" y="776.58" class="dt" fill="#a2a2a2" stroke="#a2a2a2">11</text>
<text x="697.8" y="776.58" class="dt" fill="#a2a2a2" stroke="#a2a2a2">12</text>
<text x="712.2" y="776.58" class="dt" fill="#a2a2a2" stroke="#a2a2a2">13</text>
<text x="726.6" y="776.58" class="dt" fill="#a2a2a2" stroke="#a2a2a2">14</text>
<text x="741" y="776.58" class="dt" fill="#e2a442" stroke="#e2a442">15</text>
<text x="755.4" y="776.58" class="dt" fill="#e2a442" stroke="#e2a442">16</text>
<text x="669" y="786.32" class="dt" fill="#a2a2a2" stroke="#a2a2a2">17</text>
<text x="683.4" y="786.32" class="dt" fill="#a2a2a2" stroke="#a2a2a2">18</text>
<text x="697.8" y="786.32" class="dt" fill="#a2a2a2" stroke="#a2a2a2">19</text>
<text x="712.2" y="786.32" class="dt" fill="#a2a2a2" stroke="#a2a2a2">20</text>
<text x="726.6" y="786.32" class="dt" fill="#a2a2a2" stroke="#a2a2a2">21</text>
<text x="741" y="786.32" class="dt" fill="#e2a442" stroke="#e2a442">22</text>
<text x="755.4" y="786.32" class="dt" fill="#e2a442" stroke="#e2a442">23</text>
<text x="669" y="796.06" class="dt" fill="#a2a2a2" stroke="#a2a2a2">24</text>
<text x="683.4" y="796.06" class="dt" fill="#a2a2a2" stroke="#a2a2a2">25</text>
<text x="697.8" y="796.06" class="dt" fill="#a2a2a2" stroke="#a2a2a2">26</text>
<text x="712.2" y="796.06" class="dt" fill="#a2a2a2" stroke="#a2a2a2">27</text>
<text x="726.6" y="796.06" class="dt" fill="#a2a2a2" stroke="#a2a2a2">28</text>
<text x="741" y="796.06" class="dt" fill="#e2a442" stroke="#e2a442">29</text>
<text x="755.4" y="796.06" class="dt" fill="#e2a442" stroke="#e2a442">30</text>
<rect x="781" y="726.6" width="100.5" height="14.5" fill="#f2661f"/>
<text x="783.8" y="737.8" class="mh">JULI</text>
<text x="878" y="737.8" class="my" text-anchor="end">2024</text>
<text x="787.5" y="745.8" class="wd" fill="#a8a8a8">MON</text>
<text x="801.9" y="745.8" class="wd" fill="#a8a8a8">DIE</text>
<text x="816.3" y="745.8" class="wd" fill="#a8a8a8">MIT</text>
<text x="830.7" y="745.8" class="wd" fill="#a8a8a8">DON</text>
<text x="845.1" y="745.8" class="wd" fill="#a8a8a8">FRE</text>
<text x="859.5" y="745.8" class="wd" fill="#ce8968">SAM</text>
<text x="873.9" y="745.8" class="wd" fill="#ce8968">SON</text>
<rect x="780.5" y="758.05" width="101" height="0.8" fill="#dcdcdc"/>
<rect x="780.5" y="767.75" width="101" height="0.8" fill="#dcdcdc"/>
<rect x="780.5" y="777.45" width="101" height="0.8" fill="#dcdcdc"/>
<rect x="780.5" y="787.15" width="101" height="0.8" fill="#dcdcdc"/>
<rect x="780.5" y="796.85" width="101" height="0.8" fill="#dcdcdc"/>
<text x="787.5" y="757.1" class="dt" fill="#a2a2a2" stroke="#a2a2a2">1</text>
<text x="801.9" y="757.1" class="dt" fill="#a2a2a2" stroke="#a2a2a2">2</text>
<text x="816.3" y="757.1" class="dt" fill="#a2a2a2" stroke="#a2a2a2">3</text>
<text x="830.7" y="757.1" class="dt" fill="#a2a2a2" stroke="#a2a2a2">4</text>
<text x="845.1" y="757.1" class="dt" fill="#a2a2a2" stroke="#a2a2a2">5</text>
<text x="859.5" y="757.1" class="dt" fill="#de7542" stroke="#de7542">6</text>
<text x="873.9" y="757.1" class="dt" fill="#de7542" stroke="#de7542">7</text>
<text x="787.5" y="766.84" class="dt" fill="#a2a2a2" stroke="#a2a2a2">8</text>
<text x="801.9" y="766.84" class="dt" fill="#a2a2a2" stroke="#a2a2a2">9</text>
<text x="816.3" y="766.84" class="dt" fill="#a2a2a2" stroke="#a2a2a2">10</text>
<text x="830.7" y="766.84" class="dt" fill="#a2a2a2" stroke="#a2a2a2">11</text>
<text x="845.1" y="766.84" class="dt" fill="#a2a2a2" stroke="#a2a2a2">12</text>
<text x="859.5" y="766.84" class="dt" fill="#de7542" stroke="#de7542">13</text>
<text x="873.9" y="766.84" class="dt" fill="#de7542" stroke="#de7542">14</text>
<text x="787.5" y="776.58" class="dt" fill="#a2a2a2" stroke="#a2a2a2">15</text>
<text x="801.9" y="776.58" class="dt" fill="#a2a2a2" stroke="#a2a2a2">16</text>
<text x="816.3" y="776.58" class="dt" fill="#a2a2a2" stroke="#a2a2a2">17</text>
<text x="830.7" y="776.58" class="dt" fill="#a2a2a2" stroke="#a2a2a2">18</text>
<text x="845.1" y="776.58" class="dt" fill="#a2a2a2" stroke="#a2a2a2">19</text>
<text x="859.5" y="776.58" class="dt" fill="#de7542" stroke="#de7542">20</text>
<text x="873.9" y="776.58" class="dt" fill="#de7542" stroke="#de7542">21</text>
<text x="787.5" y="786.32" class="dt" fill="#a2a2a2" stroke="#a2a2a2">22</text>
<text x="801.9" y="786.32" class="dt" fill="#a2a2a2" stroke="#a2a2a2">23</text>
<text x="816.3" y="786.32" class="dt" fill="#a2a2a2" stroke="#a2a2a2">24</text>
<text x="830.7" y="786.32" class="dt" fill="#a2a2a2" stroke="#a2a2a2">25</text>
<text x="845.1" y="786.32" class="dt" fill="#a2a2a2" stroke="#a2a2a2">26</text>
<text x="859.5" y="786.32" class="dt" fill="#de7542" stroke="#de7542">27</text>
<text x="873.9" y="786.32" class="dt" fill="#de7542" stroke="#de7542">28</text>
<text x="787.5" y="796.06" class="dt" fill="#a2a2a2" stroke="#a2a2a2">29</text>
<text x="801.9" y="796.06" class="dt" fill="#a2a2a2" stroke="#a2a2a2">30</text>
<text x="816.3" y="796.06" class="dt" fill="#a2a2a2" stroke="#a2a2a2">31</text>
<rect x="900" y="726.6" width="100.5" height="14.5" fill="#ec1e24"/>
<text x="902.8" y="737.8" class="mh">AUGUST</text>
<text x="997" y="737.8" class="my" text-anchor="end">2024</text>
<text x="906.5" y="745.8" class="wd" fill="#a8a8a8">MON</text>
<text x="920.9" y="745.8" class="wd" fill="#a8a8a8">DIE</text>
<text x="935.3" y="745.8" class="wd" fill="#a8a8a8">MIT</text>
<text x="949.7" y="745.8" class="wd" fill="#a8a8a8">DON</text>
<text x="964.1" y="745.8" class="wd" fill="#a8a8a8">FRE</text>
<text x="978.5" y="745.8" class="wd" fill="#c96b68">SAM</text>
<text x="992.9" y="745.8" class="wd" fill="#c96b68">SON</text>
<rect x="899.5" y="758.05" width="101" height="0.8" fill="#dcdcdc"/>
<rect x="899.5" y="767.75" width="101" height="0.8" fill="#dcdcdc"/>
<rect x="899.5" y="777.45" width="101" height="0.8" fill="#dcdcdc"/>
<rect x="899.5" y="787.15" width="101" height="0.8" fill="#dcdcdc"/>
<rect x="899.5" y="796.85" width="101" height="0.8" fill="#dcdcdc"/>
<text x="949.7" y="757.1" class="dt" fill="#a2a2a2" stroke="#a2a2a2">1</text>
<text x="964.1" y="757.1" class="dt" fill="#a2a2a2" stroke="#a2a2a2">2</text>
<text x="978.5" y="757.1" class="dt" fill="#d74742" stroke="#d74742">3</text>
<text x="992.9" y="757.1" class="dt" fill="#d74742" stroke="#d74742">4</text>
<text x="906.5" y="766.84" class="dt" fill="#a2a2a2" stroke="#a2a2a2">5</text>
<text x="920.9" y="766.84" class="dt" fill="#a2a2a2" stroke="#a2a2a2">6</text>
<text x="935.3" y="766.84" class="dt" fill="#a2a2a2" stroke="#a2a2a2">7</text>
<text x="949.7" y="766.84" class="dt" fill="#a2a2a2" stroke="#a2a2a2">8</text>
<text x="964.1" y="766.84" class="dt" fill="#a2a2a2" stroke="#a2a2a2">9</text>
<text x="978.5" y="766.84" class="dt" fill="#d74742" stroke="#d74742">10</text>
<text x="992.9" y="766.84" class="dt" fill="#d74742" stroke="#d74742">11</text>
<text x="906.5" y="776.58" class="dt" fill="#a2a2a2" stroke="#a2a2a2">12</text>
<text x="920.9" y="776.58" class="dt" fill="#a2a2a2" stroke="#a2a2a2">13</text>
<text x="935.3" y="776.58" class="dt" fill="#a2a2a2" stroke="#a2a2a2">14</text>
<text x="949.7" y="776.58" class="dt" fill="#a2a2a2" stroke="#a2a2a2">15</text>
<text x="964.1" y="776.58" class="dt" fill="#a2a2a2" stroke="#a2a2a2">16</text>
<text x="978.5" y="776.58" class="dt" fill="#d74742" stroke="#d74742">17</text>
<text x="992.9" y="776.58" class="dt" fill="#d74742" stroke="#d74742">18</text>
<text x="906.5" y="786.32" class="dt" fill="#a2a2a2" stroke="#a2a2a2">19</text>
<text x="920.9" y="786.32" class="dt" fill="#a2a2a2" stroke="#a2a2a2">20</text>
<text x="935.3" y="786.32" class="dt" fill="#a2a2a2" stroke="#a2a2a2">21</text>
<text x="949.7" y="786.32" class="dt" fill="#a2a2a2" stroke="#a2a2a2">22</text>
<text x="964.1" y="786.32" class="dt" fill="#a2a2a2" stroke="#a2a2a2">23</text>
<text x="978.5" y="786.32" class="dt" fill="#d74742" stroke="#d74742">24</text>
<text x="992.9" y="786.32" class="dt" fill="#d74742" stroke="#d74742">25</text>
<text x="906.5" y="796.06" class="dt" fill="#a2a2a2" stroke="#a2a2a2">26</text>
<text x="920.9" y="796.06" class="dt" fill="#a2a2a2" stroke="#a2a2a2">27</text>
<text x="935.3" y="796.06" class="dt" fill="#a2a2a2" stroke="#a2a2a2">28</text>
<text x="949.7" y="796.06" class="dt" fill="#a2a2a2" stroke="#a2a2a2">29</text>
<text x="964.1" y="796.06" class="dt" fill="#a2a2a2" stroke="#a2a2a2">30</text>
<text x="978.5" y="796.06" class="dt" fill="#d74742" stroke="#d74742">31</text>
<rect x="543.5" y="819.6" width="100.5" height="14.5" fill="#ee3d70"/>
<text x="546.3" y="830.8" class="mh">SEPTEMBER</text>
<text x="640.5" y="830.8" class="my" text-anchor="end">2024</text>
<text x="550" y="838.8" class="wd" fill="#a8a8a8">MON</text>
<text x="564.4" y="838.8" class="wd" fill="#a8a8a8">DIE</text>
<text x="578.8" y="838.8" class="wd" fill="#a8a8a8">MIT</text>
<text x="593.2" y="838.8" class="wd" fill="#a8a8a8">DON</text>
<text x="607.6" y="838.8" class="wd" fill="#a8a8a8">FRE</text>
<text x="622" y="838.8" class="wd" fill="#c9748d">SAM</text>
<text x="636.4" y="838.8" class="wd" fill="#c9748d">SON</text>
<rect x="543" y="851.05" width="101" height="0.8" fill="#dcdcdc"/>
<rect x="543" y="860.75" width="101" height="0.8" fill="#dcdcdc"/>
<rect x="543" y="870.45" width="101" height="0.8" fill="#dcdcdc"/>
<rect x="543" y="880.15" width="101" height="0.8" fill="#dcdcdc"/>
<rect x="543" y="889.85" width="101" height="0.8" fill="#dcdcdc"/>
<text x="636.4" y="850.1" class="dt" fill="#d7547b" stroke="#d7547b">1</text>
<text x="550" y="859.84" class="dt" fill="#a2a2a2" stroke="#a2a2a2">2</text>
<text x="564.4" y="859.84" class="dt" fill="#a2a2a2" stroke="#a2a2a2">3</text>
<text x="578.8" y="859.84" class="dt" fill="#a2a2a2" stroke="#a2a2a2">4</text>
<text x="593.2" y="859.84" class="dt" fill="#a2a2a2" stroke="#a2a2a2">5</text>
<text x="607.6" y="859.84" class="dt" fill="#a2a2a2" stroke="#a2a2a2">6</text>
<text x="622" y="859.84" class="dt" fill="#d7547b" stroke="#d7547b">7</text>
<text x="636.4" y="859.84" class="dt" fill="#d7547b" stroke="#d7547b">8</text>
<text x="550" y="869.58" class="dt" fill="#a2a2a2" stroke="#a2a2a2">9</text>
<text x="564.4" y="869.58" class="dt" fill="#a2a2a2" stroke="#a2a2a2">10</text>
<text x="578.8" y="869.58" class="dt" fill="#a2a2a2" stroke="#a2a2a2">11</text>
<text x="593.2" y="869.58" class="dt" fill="#a2a2a2" stroke="#a2a2a2">12</text>
<text x="607.6" y="869.58" class="dt" fill="#a2a2a2" stroke="#a2a2a2">13</text>
<text x="622" y="869.58" class="dt" fill="#d7547b" stroke="#d7547b">14</text>
<text x="636.4" y="869.58" class="dt" fill="#d7547b" stroke="#d7547b">15</text>
<text x="550" y="879.32" class="dt" fill="#a2a2a2" stroke="#a2a2a2">16</text>
<text x="564.4" y="879.32" class="dt" fill="#a2a2a2" stroke="#a2a2a2">17</text>
<text x="578.8" y="879.32" class="dt" fill="#a2a2a2" stroke="#a2a2a2">18</text>
<text x="593.2" y="879.32" class="dt" fill="#a2a2a2" stroke="#a2a2a2">19</text>
<text x="607.6" y="879.32" class="dt" fill="#a2a2a2" stroke="#a2a2a2">20</text>
<text x="622" y="879.32" class="dt" fill="#d7547b" stroke="#d7547b">21</text>
<text x="636.4" y="879.32" class="dt" fill="#d7547b" stroke="#d7547b">22</text>
<text x="550" y="889.06" class="dt" fill="#a2a2a2" stroke="#a2a2a2">23</text>
<text x="564.4" y="889.06" class="dt" fill="#a2a2a2" stroke="#a2a2a2">24</text>
<text x="578.8" y="889.06" class="dt" fill="#a2a2a2" stroke="#a2a2a2">25</text>
<text x="593.2" y="889.06" class="dt" fill="#a2a2a2" stroke="#a2a2a2">26</text>
<text x="607.6" y="889.06" class="dt" fill="#a2a2a2" stroke="#a2a2a2">27</text>
<text x="622" y="889.06" class="dt" fill="#d7547b" stroke="#d7547b">28</text>
<text x="636.4" y="889.06" class="dt" fill="#d7547b" stroke="#d7547b">29</text>
<text x="550" y="898.8" class="dt" fill="#a2a2a2" stroke="#a2a2a2">30</text>
<rect x="662.5" y="819.6" width="100.5" height="14.5" fill="#dc3299"/>
<text x="665.3" y="830.8" class="mh">OKTOBER</text>
<text x="759.5" y="830.8" class="my" text-anchor="end">2024</text>
<text x="669" y="838.8" class="wd" fill="#a8a8a8">MON</text>
<text x="683.4" y="838.8" class="wd" fill="#a8a8a8">DIE</text>
<text x="697.8" y="838.8" class="wd" fill="#a8a8a8">MIT</text>
<text x="712.2" y="838.8" class="wd" fill="#a8a8a8">DON</text>
<text x="726.6" y="838.8" class="wd" fill="#a8a8a8">FRE</text>
<text x="741" y="838.8" class="wd" fill="#bf71a3">SAM</text>
<text x="755.4" y="838.8" class="wd" fill="#bf71a3">SON</text>
<rect x="662" y="851.05" width="101" height="0.8" fill="#dcdcdc"/>
<rect x="662" y="860.75" width="101" height="0.8" fill="#dcdcdc"/>
<rect x="662" y="870.45" width="101" height="0.8" fill="#dcdcdc"/>
<rect x="662" y="880.15" width="101" height="0.8" fill="#dcdcdc"/>
<rect x="662" y="889.85" width="101" height="0.8" fill="#dcdcdc"/>
<text x="683.4" y="850.1" class="dt" fill="#a2a2a2" stroke="#a2a2a2">1</text>
<text x="697.8" y="850.1" class="dt" fill="#a2a2a2" stroke="#a2a2a2">2</text>
<text x="712.2" y="850.1" class="dt" fill="#a2a2a2" stroke="#a2a2a2">3</text>
<text x="726.6" y="850.1" class="dt" fill="#a2a2a2" stroke="#a2a2a2">4</text>
<text x="741" y="850.1" class="dt" fill="#c74f9c" stroke="#c74f9c">5</text>
<text x="755.4" y="850.1" class="dt" fill="#c74f9c" stroke="#c74f9c">6</text>
<text x="669" y="859.84" class="dt" fill="#a2a2a2" stroke="#a2a2a2">7</text>
<text x="683.4" y="859.84" class="dt" fill="#a2a2a2" stroke="#a2a2a2">8</text>
<text x="697.8" y="859.84" class="dt" fill="#a2a2a2" stroke="#a2a2a2">9</text>
<text x="712.2" y="859.84" class="dt" fill="#a2a2a2" stroke="#a2a2a2">10</text>
<text x="726.6" y="859.84" class="dt" fill="#a2a2a2" stroke="#a2a2a2">11</text>
<text x="741" y="859.84" class="dt" fill="#c74f9c" stroke="#c74f9c">12</text>
<text x="755.4" y="859.84" class="dt" fill="#c74f9c" stroke="#c74f9c">13</text>
<text x="669" y="869.58" class="dt" fill="#a2a2a2" stroke="#a2a2a2">14</text>
<text x="683.4" y="869.58" class="dt" fill="#a2a2a2" stroke="#a2a2a2">15</text>
<text x="697.8" y="869.58" class="dt" fill="#a2a2a2" stroke="#a2a2a2">16</text>
<text x="712.2" y="869.58" class="dt" fill="#a2a2a2" stroke="#a2a2a2">17</text>
<text x="726.6" y="869.58" class="dt" fill="#a2a2a2" stroke="#a2a2a2">18</text>
<text x="741" y="869.58" class="dt" fill="#c74f9c" stroke="#c74f9c">19</text>
<text x="755.4" y="869.58" class="dt" fill="#c74f9c" stroke="#c74f9c">20</text>
<text x="669" y="879.32" class="dt" fill="#a2a2a2" stroke="#a2a2a2">21</text>
<text x="683.4" y="879.32" class="dt" fill="#a2a2a2" stroke="#a2a2a2">22</text>
<text x="697.8" y="879.32" class="dt" fill="#a2a2a2" stroke="#a2a2a2">23</text>
<text x="712.2" y="879.32" class="dt" fill="#a2a2a2" stroke="#a2a2a2">24</text>
<text x="726.6" y="879.32" class="dt" fill="#a2a2a2" stroke="#a2a2a2">25</text>
<text x="741" y="879.32" class="dt" fill="#c74f9c" stroke="#c74f9c">26</text>
<text x="755.4" y="879.32" class="dt" fill="#c74f9c" stroke="#c74f9c">27</text>
<text x="669" y="889.06" class="dt" fill="#a2a2a2" stroke="#a2a2a2">28</text>
<text x="683.4" y="889.06" class="dt" fill="#a2a2a2" stroke="#a2a2a2">29</text>
<text x="697.8" y="889.06" class="dt" fill="#a2a2a2" stroke="#a2a2a2">30</text>
<text x="712.2" y="889.06" class="dt" fill="#a2a2a2" stroke="#a2a2a2">31</text>
<rect x="781" y="819.6" width="100.5" height="14.5" fill="#a638b8"/>
<text x="783.8" y="830.8" class="mh">NOVEMBER</text>
<text x="878" y="830.8" class="my" text-anchor="end">2024</text>
<text x="787.5" y="838.8" class="wd" fill="#a8a8a8">MON</text>
<text x="801.9" y="838.8" class="wd" fill="#a8a8a8">DIE</text>
<text x="816.3" y="838.8" class="wd" fill="#a8a8a8">MIT</text>
<text x="830.7" y="838.8" class="wd" fill="#a8a8a8">DON</text>
<text x="845.1" y="838.8" class="wd" fill="#a8a8a8">FRE</text>
<text x="859.5" y="838.8" class="wd" fill="#a574b2">SAM</text>
<text x="873.9" y="838.8" class="wd" fill="#a574b2">SON</text>
<rect x="780.5" y="851.05" width="101" height="0.8" fill="#dcdcdc"/>
<rect x="780.5" y="860.75" width="101" height="0.8" fill="#dcdcdc"/>
<rect x="780.5" y="870.45" width="101" height="0.8" fill="#dcdcdc"/>
<rect x="780.5" y="880.15" width="101" height="0.8" fill="#dcdcdc"/>
<rect x="780.5" y="889.85" width="101" height="0.8" fill="#dcdcdc"/>
<text x="845.1" y="850.1" class="dt" fill="#a2a2a2" stroke="#a2a2a2">1</text>
<text x="859.5" y="850.1" class="dt" fill="#9f54b3" stroke="#9f54b3">2</text>
<text x="873.9" y="850.1" class="dt" fill="#9f54b3" stroke="#9f54b3">3</text>
<text x="787.5" y="859.84" class="dt" fill="#a2a2a2" stroke="#a2a2a2">4</text>
<text x="801.9" y="859.84" class="dt" fill="#a2a2a2" stroke="#a2a2a2">5</text>
<text x="816.3" y="859.84" class="dt" fill="#a2a2a2" stroke="#a2a2a2">6</text>
<text x="830.7" y="859.84" class="dt" fill="#a2a2a2" stroke="#a2a2a2">7</text>
<text x="845.1" y="859.84" class="dt" fill="#a2a2a2" stroke="#a2a2a2">8</text>
<text x="859.5" y="859.84" class="dt" fill="#9f54b3" stroke="#9f54b3">9</text>
<text x="873.9" y="859.84" class="dt" fill="#9f54b3" stroke="#9f54b3">10</text>
<text x="787.5" y="869.58" class="dt" fill="#a2a2a2" stroke="#a2a2a2">11</text>
<text x="801.9" y="869.58" class="dt" fill="#a2a2a2" stroke="#a2a2a2">12</text>
<text x="816.3" y="869.58" class="dt" fill="#a2a2a2" stroke="#a2a2a2">13</text>
<text x="830.7" y="869.58" class="dt" fill="#a2a2a2" stroke="#a2a2a2">14</text>
<text x="845.1" y="869.58" class="dt" fill="#a2a2a2" stroke="#a2a2a2">15</text>
<text x="859.5" y="869.58" class="dt" fill="#9f54b3" stroke="#9f54b3">16</text>
<text x="873.9" y="869.58" class="dt" fill="#9f54b3" stroke="#9f54b3">17</text>
<text x="787.5" y="879.32" class="dt" fill="#a2a2a2" stroke="#a2a2a2">18</text>
<text x="801.9" y="879.32" class="dt" fill="#a2a2a2" stroke="#a2a2a2">19</text>
<text x="816.3" y="879.32" class="dt" fill="#a2a2a2" stroke="#a2a2a2">20</text>
<text x="830.7" y="879.32" class="dt" fill="#a2a2a2" stroke="#a2a2a2">21</text>
<text x="845.1" y="879.32" class="dt" fill="#a2a2a2" stroke="#a2a2a2">22</text>
<text x="859.5" y="879.32" class="dt" fill="#9f54b3" stroke="#9f54b3">23</text>
<text x="873.9" y="879.32" class="dt" fill="#9f54b3" stroke="#9f54b3">24</text>
<text x="787.5" y="889.06" class="dt" fill="#a2a2a2" stroke="#a2a2a2">25</text>
<text x="801.9" y="889.06" class="dt" fill="#a2a2a2" stroke="#a2a2a2">26</text>
<text x="816.3" y="889.06" class="dt" fill="#a2a2a2" stroke="#a2a2a2">27</text>
<text x="830.7" y="889.06" class="dt" fill="#a2a2a2" stroke="#a2a2a2">28</text>
<text x="845.1" y="889.06" class="dt" fill="#a2a2a2" stroke="#a2a2a2">29</text>
<text x="859.5" y="889.06" class="dt" fill="#9f54b3" stroke="#9f54b3">30</text>
<rect x="900" y="819.6" width="100.5" height="14.5" fill="#4a5ac8"/>
<text x="902.8" y="830.8" class="mh">DEZEMBER</text>
<text x="997" y="830.8" class="my" text-anchor="end">2024</text>
<text x="906.5" y="838.8" class="wd" fill="#a8a8a8">MON</text>
<text x="920.9" y="838.8" class="wd" fill="#a8a8a8">DIE</text>
<text x="935.3" y="838.8" class="wd" fill="#a8a8a8">MIT</text>
<text x="949.7" y="838.8" class="wd" fill="#a8a8a8">DON</text>
<text x="964.1" y="838.8" class="wd" fill="#a8a8a8">FRE</text>
<text x="978.5" y="838.8" class="wd" fill="#7c81b0">SAM</text>
<text x="992.9" y="838.8" class="wd" fill="#7c81b0">SON</text>
<rect x="899.5" y="851.05" width="101" height="0.8" fill="#dcdcdc"/>
<rect x="899.5" y="860.75" width="101" height="0.8" fill="#dcdcdc"/>
<rect x="899.5" y="870.45" width="101" height="0.8" fill="#dcdcdc"/>
<rect x="899.5" y="880.15" width="101" height="0.8" fill="#dcdcdc"/>
<rect x="899.5" y="889.85" width="101" height="0.8" fill="#dcdcdc"/>
<text x="992.9" y="850.1" class="dt" fill="#6168b0" stroke="#6168b0">1</text>
<text x="906.5" y="859.84" class="dt" fill="#a2a2a2" stroke="#a2a2a2">2</text>
<text x="920.9" y="859.84" class="dt" fill="#a2a2a2" stroke="#a2a2a2">3</text>
<text x="935.3" y="859.84" class="dt" fill="#a2a2a2" stroke="#a2a2a2">4</text>
<text x="949.7" y="859.84" class="dt" fill="#a2a2a2" stroke="#a2a2a2">5</text>
<text x="964.1" y="859.84" class="dt" fill="#a2a2a2" stroke="#a2a2a2">6</text>
<text x="978.5" y="859.84" class="dt" fill="#6168b0" stroke="#6168b0">7</text>
<text x="992.9" y="859.84" class="dt" fill="#6168b0" stroke="#6168b0">8</text>
<text x="906.5" y="869.58" class="dt" fill="#a2a2a2" stroke="#a2a2a2">9</text>
<text x="920.9" y="869.58" class="dt" fill="#a2a2a2" stroke="#a2a2a2">10</text>
<text x="935.3" y="869.58" class="dt" fill="#a2a2a2" stroke="#a2a2a2">11</text>
<text x="949.7" y="869.58" class="dt" fill="#a2a2a2" stroke="#a2a2a2">12</text>
<text x="964.1" y="869.58" class="dt" fill="#a2a2a2" stroke="#a2a2a2">13</text>
<text x="978.5" y="869.58" class="dt" fill="#6168b0" stroke="#6168b0">14</text>
<text x="992.9" y="869.58" class="dt" fill="#6168b0" stroke="#6168b0">15</text>
<text x="906.5" y="879.32" class="dt" fill="#a2a2a2" stroke="#a2a2a2">16</text>
<text x="920.9" y="879.32" class="dt" fill="#a2a2a2" stroke="#a2a2a2">17</text>
<text x="935.3" y="879.32" class="dt" fill="#a2a2a2" stroke="#a2a2a2">18</text>
<text x="949.7" y="879.32" class="dt" fill="#a2a2a2" stroke="#a2a2a2">19</text>
<text x="964.1" y="879.32" class="dt" fill="#a2a2a2" stroke="#a2a2a2">20</text>
<text x="978.5" y="879.32" class="dt" fill="#6168b0" stroke="#6168b0">21</text>
<text x="992.9" y="879.32" class="dt" fill="#6168b0" stroke="#6168b0">22</text>
<text x="906.5" y="889.06" class="dt" fill="#a2a2a2" stroke="#a2a2a2">23</text>
<text x="920.9" y="889.06" class="dt" fill="#a2a2a2" stroke="#a2a2a2">24</text>
<text x="935.3" y="889.06" class="dt" fill="#a2a2a2" stroke="#a2a2a2">25</text>
<text x="949.7" y="889.06" class="dt" fill="#a2a2a2" stroke="#a2a2a2">26</text>
<text x="964.1" y="889.06" class="dt" fill="#a2a2a2" stroke="#a2a2a2">27</text>
<text x="978.5" y="889.06" class="dt" fill="#6168b0" stroke="#6168b0">28</text>
<text x="992.9" y="889.06" class="dt" fill="#6168b0" stroke="#6168b0">29</text>
<text x="906.5" y="898.8" class="dt" fill="#a2a2a2" stroke="#a2a2a2">30</text>
<text x="920.9" y="898.8" class="dt" fill="#a2a2a2" stroke="#a2a2a2">31</text>
<defs>
<clipPath id="band"><rect x="612" y="578" width="412" height="77.5"/></clipPath>
<radialGradient id="glow" cx="0.5" cy="0.5" r="0.5"><stop offset="0" stop-color="#fff" stop-opacity="0.3"/><stop offset="1" stop-color="#fff" stop-opacity="0"/></radialGradient>
<linearGradient id="navy" gradientUnits="userSpaceOnUse" x1="826" y1="0" x2="870" y2="0"><stop offset="0" stop-color="#2a2a36" stop-opacity="0"/><stop offset="0.35" stop-color="#34344c" stop-opacity="0.7"/><stop offset="1" stop-color="#5a5a84" stop-opacity="0.8"/></linearGradient>
<linearGradient id="cone" gradientUnits="userSpaceOnUse" x1="810" y1="0" x2="842" y2="0"><stop offset="0" stop-color="#2a2a36" stop-opacity="0"/><stop offset="0.6" stop-color="#2a2a36" stop-opacity="0.6"/><stop offset="1" stop-color="#2a2a36" stop-opacity="0.95"/></linearGradient>
<linearGradient id="rightc" gradientUnits="userSpaceOnUse" x1="905" y1="0" x2="1024" y2="0">
<stop offset="0" stop-color="#2a2a30" stop-opacity="0.08"/>
<stop offset="0.12" stop-color="#2a2a30" stop-opacity="0.2"/>
<stop offset="0.3" stop-color="#2a2a44" stop-opacity="0.42"/>
<stop offset="0.5" stop-color="#2a2a44" stop-opacity="0.45"/>
<stop offset="0.66" stop-color="#2a2a30" stop-opacity="0.22"/>
<stop offset="0.8" stop-color="#fff" stop-opacity="0.12"/>
<stop offset="0.9" stop-color="#2a2a30" stop-opacity="0.15"/>
<stop offset="1" stop-color="#2a2a30" stop-opacity="0.38"/>
</linearGradient>
<filter id="blur1" x="-20%" y="-20%" width="140%" height="140%"><feGaussianBlur stdDeviation="0.6"/></filter>
<filter id="blur2" x="-30%" y="-30%" width="160%" height="160%"><feGaussianBlur stdDeviation="2"/></filter>
<filter id="blur4" x="-30%" y="-30%" width="160%" height="160%"><feGaussianBlur stdDeviation="3"/></filter>
</defs>
<g clip-path="url(#band)">
<rect x="612" y="578" width="412" height="77.5" fill="rgb(92,92,92)" fill-opacity="0.46"/>
<ellipse cx="776" cy="612" rx="46" ry="32" fill="url(#glow)"/>
<ellipse cx="895" cy="615" rx="14" ry="45" fill="url(#glow)"/>
<path d="M806 576 L850 576 L850 626 L834 626 Q814 614 806 576 Z" fill="url(#cone)" filter="url(#blur2)"/>
<circle cx="854" cy="606" r="24" fill="#6a6a84" fill-opacity="0.3" filter="url(#blur1)"/>
<clipPath id="disc"><ellipse cx="848" cy="602" rx="21" ry="25.5"/></clipPath>
<g clip-path="url(#disc)" filter="url(#blur1)">
<rect x="826" y="576" width="45" height="54" fill="url(#navy)"/>
<path d="M845 576 L872 576 L872 612 L863 616 Z" fill="#9a9abc" fill-opacity="0.3"/>
</g>
<clipPath id="rc"><circle cx="964" cy="610" r="59"/><rect x="964" y="570" width="70" height="90"/></clipPath>
<g filter="url(#blur1)"><rect x="900" y="576" width="130" height="82" fill="url(#rightc)" clip-path="url(#rc)"/></g>
</g>
<text x="626.3" y="614.3" class="istock">iStock</text>
<text x="715.5" y="596" class="tm">TM</text>
<text x="626.5" y="640.3" class="credit" textLength="204.5" lengthAdjust="spacingAndGlyphs">Credit: Bart_Kowski</text>

<rect x="0" y="896" width="86" height="15.8" fill="#a8aaad"/>
<text x="15" y="908" class="badge" textLength="63" lengthAdjust="spacingAndGlyphs">1279491370</text>
</svg>
</body></html>
